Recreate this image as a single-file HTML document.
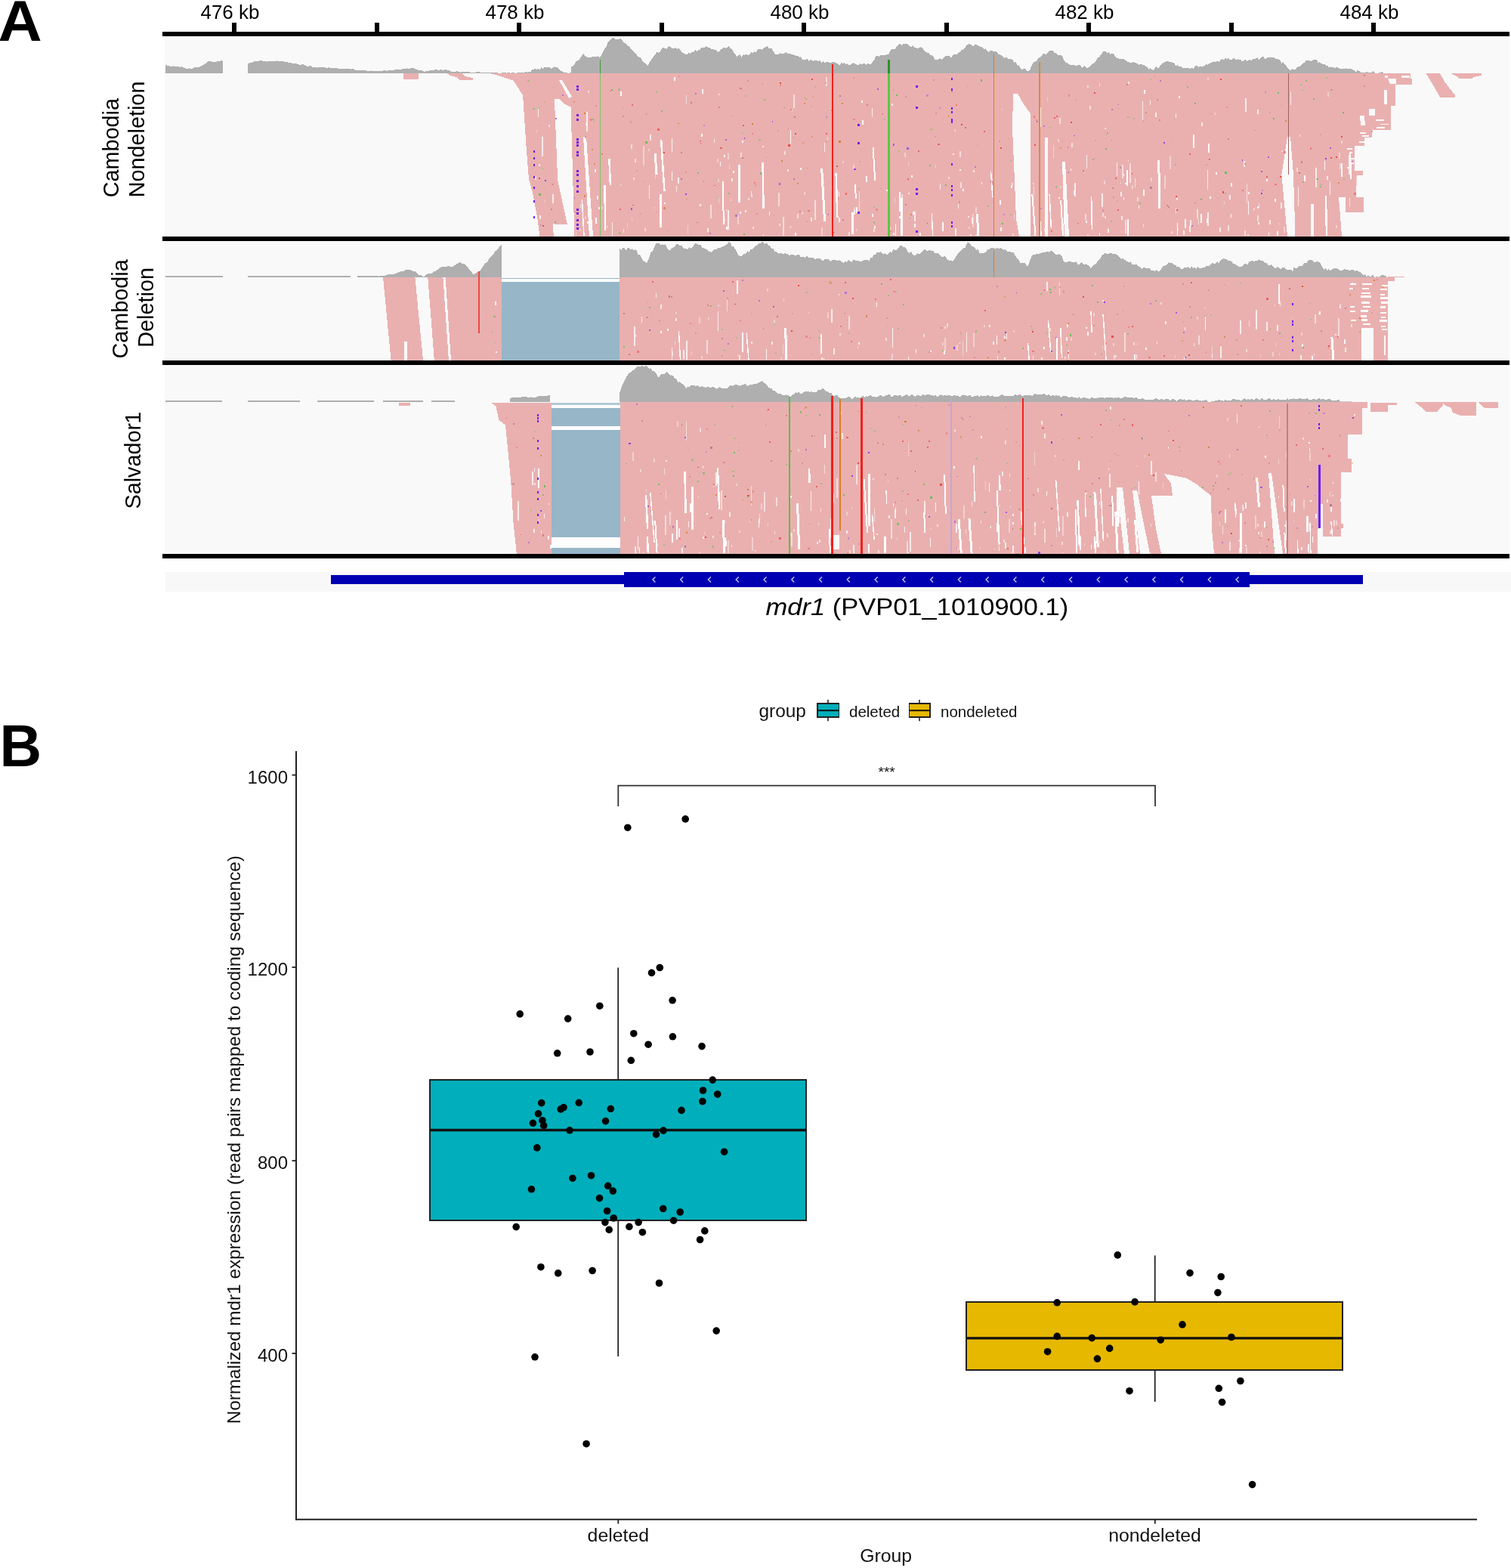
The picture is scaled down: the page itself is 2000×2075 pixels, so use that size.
<!DOCTYPE html>
<html><head><meta charset="utf-8"><title>mdr1 deletion figure</title>
<style>html,body{margin:0;padding:0;background:#fff;}svg{display:block;}svg text,svg circle,svg path,svg line{shape-rendering:geometricPrecision;}</style>
</head><body>
<svg width="2000" height="2075" viewBox="0 0 2000 2075" shape-rendering="crispEdges"><text transform="translate(-2.5,53.6) scale(1.06,1)" font-family='"Liberation Sans", Arial, Helvetica, sans-serif' font-weight="bold" font-size="76" fill="#000">A</text>
<rect x="307.0" y="29.5" width="6.0" height="14.0" fill="#000"/>
<text x="304.5" y="25" text-anchor="middle" font-family='"Liberation Sans", Arial, Helvetica, sans-serif' font-size="26" fill="#000">476 kb</text>
<rect x="495.5" y="29.5" width="6.0" height="14.0" fill="#000"/>
<rect x="684.0" y="29.5" width="6.0" height="14.0" fill="#000"/>
<text x="681.5" y="25" text-anchor="middle" font-family='"Liberation Sans", Arial, Helvetica, sans-serif' font-size="26" fill="#000">478 kb</text>
<rect x="872.5" y="29.5" width="6.0" height="14.0" fill="#000"/>
<rect x="1061.0" y="29.5" width="6.0" height="14.0" fill="#000"/>
<text x="1058.5" y="25" text-anchor="middle" font-family='"Liberation Sans", Arial, Helvetica, sans-serif' font-size="26" fill="#000">480 kb</text>
<rect x="1249.5" y="29.5" width="6.0" height="14.0" fill="#000"/>
<rect x="1438.0" y="29.5" width="6.0" height="14.0" fill="#000"/>
<text x="1435.5" y="25" text-anchor="middle" font-family='"Liberation Sans", Arial, Helvetica, sans-serif' font-size="26" fill="#000">482 kb</text>
<rect x="1626.5" y="29.5" width="6.0" height="14.0" fill="#000"/>
<rect x="1815.0" y="29.5" width="6.0" height="14.0" fill="#000"/>
<text x="1812.5" y="25" text-anchor="middle" font-family='"Liberation Sans", Arial, Helvetica, sans-serif' font-size="26" fill="#000">484 kb</text>
<rect x="215" y="42" width="1783" height="6" fill="#000" rx="1"/>
<rect x="218.0" y="48.0" width="1780.0" height="265.0" fill="#f9f9f9"/>
<rect x="218.0" y="319.0" width="1780.0" height="158.0" fill="#f9f9f9"/>
<rect x="218.0" y="483.0" width="1780.0" height="250.0" fill="#f9f9f9"/>
<rect x="218.5" y="756.5" width="1781.5" height="26.5" fill="#f8f8f8"/>
<polygon points="218.5,97.0 218.5,86.3 221.2,86.5 224.0,87.0 226.8,88.2 229.5,87.4 232.2,87.7 235.0,88.0 237.6,88.7 240.1,88.3 242.7,89.6 245.3,90.4 247.9,91.3 250.4,90.1 253.0,91.6 256.0,90.2 259.0,88.8 262.0,89.6 265.0,88.0 268.5,86.5 272.0,84.0 275.5,81.4 279.0,81.0 281.7,82.2 284.4,82.1 287.1,81.4 289.9,81.3 292.6,80.2 295.3,81.0 295.3,97.0" fill="#afafaf"/>
<polygon points="328.4,97.0 328.4,84.0 331.5,83.0 334.5,82.3 337.6,81.0 340.2,81.3 342.9,80.4 345.5,80.2 348.2,80.8 350.8,80.6 353.5,81.5 356.1,81.3 358.8,81.2 361.4,81.1 364.1,81.3 366.7,80.4 369.4,80.9 372.0,81.0 374.6,80.9 377.1,82.5 379.7,81.6 382.2,83.3 384.8,82.5 387.3,84.0 389.9,83.9 392.4,84.4 395.0,85.0 397.8,86.0 400.5,85.2 403.2,85.8 406.0,87.7 408.8,87.5 411.5,87.3 414.2,89.3 417.0,89.0 419.6,89.8 422.1,88.6 424.7,89.2 427.2,88.9 429.8,89.3 432.3,89.9 434.9,89.2 437.4,90.2 440.0,90.0 442.7,89.5 445.5,89.8 448.2,91.0 451.0,90.6 453.7,90.8 456.5,91.2 459.2,91.2 462.0,91.2 464.7,91.6 467.3,91.1 470.0,92.5 472.6,93.1 475.3,93.3 477.9,93.1 480.6,92.8 483.2,93.1 485.9,93.9 488.5,94.1 491.2,93.4 493.8,94.3 496.4,93.7 499.0,93.8 501.7,93.9 504.3,94.3 506.9,93.7 509.5,92.8 512.1,93.9 514.8,93.1 517.4,93.2 520.0,93.0 522.7,92.3 525.3,92.3 528.0,91.9 530.7,92.2 533.3,90.9 536.0,91.3 538.7,90.4 541.3,90.9 544.0,90.3 546.7,90.2 549.3,91.2 552.0,92.0 554.6,93.1 557.3,92.8 559.9,94.1 562.6,94.8 565.3,93.8 567.9,93.5 570.6,93.3 573.2,93.5 575.9,92.3 578.5,92.3 581.1,93.0 583.8,91.8 586.4,93.0 589.0,92.3 591.6,92.6 594.2,92.9 596.8,94.3 599.4,95.1 602.0,95.0 604.5,94.3 607.1,94.8 609.6,95.6 612.1,95.0 614.6,94.9 617.2,94.6 619.7,94.7 622.2,95.7 624.7,96.3 627.3,96.4 629.8,95.7 632.3,95.0 634.8,95.5 637.4,96.3 639.9,96.5 642.4,96.2 644.9,95.6 647.5,96.2 650.0,96.2 652.6,96.2 655.2,96.4 657.8,95.8 660.4,96.9 662.9,96.8 665.5,95.7 668.1,95.9 670.7,96.8 673.3,95.8 675.9,96.9 678.5,96.2 681.1,96.5 683.6,96.5 686.2,95.7 688.8,95.9 691.4,95.8 694.0,96.2 694.0,97.0" fill="#afafaf"/>
<polygon points="694.0,97.0 694.0,96.0 696.0,94.5 698.0,95.7 700.0,95.2 702.0,95.4 704.0,92.2 706.0,91.9 708.0,91.1 710.0,92.0 712.1,90.5 714.2,92.2 716.4,89.4 718.5,90.6 720.6,89.0 722.8,88.9 724.9,89.1 727.0,89.0 729.2,90.7 731.3,90.1 733.5,88.1 735.7,89.4 737.8,89.3 740.0,91.0 742.2,93.6 744.5,94.5 746.8,95.7 749.0,95.6 751.2,96.9 753.4,96.6 755.6,95.6 755.6,87.6 758.0,87.5 760.3,85.0 762.6,80.9 765.0,80.0 767.4,78.4 769.9,73.9 772.3,71.0 775.1,74.5 778.0,76.0 780.2,76.2 782.5,75.6 784.7,75.3 787.0,75.5 789.2,75.0 791.5,74.2 793.7,75.7 795.8,73.4 797.9,69.8 800.0,65.0 802.5,61.9 805.0,55.0 807.1,53.9 809.1,51.6 811.2,49.5 815.0,52.0 817.9,52.5 820.7,51.0 823.0,51.8 825.4,56.2 827.7,57.5 830.0,60.0 832.0,60.7 834.0,62.8 836.0,66.1 838.0,67.0 840.0,70.0 842.0,71.8 844.0,74.4 846.0,75.6 848.0,76.5 850.0,80.0 852.4,82.5 854.9,84.0 857.3,87.6 859.9,82.3 862.4,78.0 865.0,75.0 867.2,72.5 869.3,69.3 871.5,69.6 873.7,68.8 875.8,64.6 878.0,63.0 880.3,63.9 882.5,64.7 884.8,61.2 887.0,61.6 889.3,64.2 891.5,64.4 893.8,63.0 896.1,64.8 898.3,64.2 900.6,66.4 902.8,69.5 905.1,70.8 907.3,71.8 909.6,71.8 911.7,69.7 913.8,71.4 916.0,68.6 918.1,69.1 920.2,65.9 922.3,68.4 924.4,66.0 926.5,65.6 928.6,62.7 930.8,63.4 932.9,62.4 935.0,61.2 937.1,62.6 939.3,62.8 941.4,65.3 943.6,64.8 945.7,65.7 947.9,66.2 950.0,68.6 952.1,68.3 954.2,64.9 956.3,64.3 958.4,62.6 960.5,63.9 962.6,62.5 964.7,61.2 966.8,64.1 968.9,64.9 971.1,69.2 973.2,71.6 975.3,75.0 977.4,73.1 979.5,72.4 981.6,76.0 983.7,72.2 985.8,72.6 987.9,72.2 990.0,72.8 992.1,72.2 994.2,69.2 996.4,69.8 998.5,68.4 1000.6,69.3 1002.8,65.0 1004.9,65.4 1007.0,65.1 1009.1,66.0 1011.2,63.2 1013.4,62.1 1015.5,61.2 1017.6,63.6 1019.7,63.9 1021.8,64.6 1023.8,68.3 1025.9,71.7 1028.0,71.8 1030.2,72.3 1032.3,70.0 1034.5,71.2 1036.6,71.4 1038.8,69.6 1040.9,69.4 1043.0,71.4 1045.1,71.2 1047.3,71.5 1049.4,72.4 1051.5,72.8 1053.6,74.2 1055.7,73.7 1057.8,75.8 1060.0,75.3 1062.1,78.8 1064.2,78.9 1066.3,79.2 1068.4,77.5 1070.5,80.8 1072.6,78.7 1074.7,80.2 1076.8,80.7 1078.9,80.1 1081.0,80.2 1083.2,81.0 1085.3,80.1 1087.4,83.3 1089.5,80.5 1091.6,83.6 1093.7,81.5 1095.8,82.1 1097.9,82.7 1100.0,83.4 1102.0,81.7 1104.0,82.2 1106.0,83.2 1108.0,83.7 1110.0,85.5 1112.0,86.1 1114.0,82.4 1116.0,84.5 1118.0,83.0 1120.0,85.8 1122.0,84.0 1124.0,86.5 1126.0,85.2 1128.0,83.6 1130.0,83.3 1132.0,84.4 1134.0,85.5 1136.1,86.9 1138.2,83.9 1140.3,85.1 1142.4,84.5 1144.6,84.3 1146.7,86.0 1148.8,83.6 1150.9,85.5 1153.0,84.5 1155.2,81.6 1157.3,79.2 1159.5,73.9 1161.6,73.7 1163.7,75.0 1165.8,72.8 1168.0,73.0 1170.1,72.9 1172.2,73.5 1174.3,71.8 1176.4,71.7 1178.5,66.8 1180.7,65.2 1182.8,65.0 1184.9,64.4 1187.0,61.6 1189.2,58.9 1191.3,58.0 1193.4,60.4 1195.5,58.3 1197.7,57.9 1199.8,58.3 1201.9,58.8 1204.0,61.2 1206.1,62.3 1208.2,59.9 1210.3,62.5 1212.5,63.2 1214.6,63.9 1216.7,63.3 1218.8,62.2 1220.9,63.6 1223.0,66.1 1225.2,68.6 1227.3,69.9 1229.4,69.9 1231.5,73.4 1233.6,72.5 1235.8,75.0 1237.9,79.5 1240.0,79.2 1242.1,78.6 1244.2,77.2 1246.3,78.7 1248.4,76.9 1250.5,74.6 1252.6,74.1 1254.7,74.5 1256.8,74.3 1258.9,76.2 1261.0,73.9 1263.5,71.5 1266.0,72.4 1268.5,69.6 1270.6,69.2 1272.7,65.7 1274.8,66.3 1276.8,63.6 1278.9,60.7 1281.0,59.0 1283.2,58.2 1285.3,59.2 1287.5,61.1 1289.7,59.8 1291.8,58.6 1294.0,60.0 1296.1,60.8 1298.2,62.4 1300.3,62.5 1302.4,65.3 1304.5,64.4 1306.6,67.5 1308.7,69.0 1310.8,66.6 1312.9,66.5 1315.1,68.6 1317.2,67.6 1319.3,68.6 1321.4,71.7 1323.5,71.8 1325.7,73.5 1327.8,75.0 1329.9,77.0 1332.0,75.3 1334.2,78.1 1336.3,78.4 1338.4,78.2 1340.5,79.2 1342.6,83.2 1344.7,81.5 1346.8,87.0 1348.8,86.2 1350.9,91.1 1353.0,91.9 1355.2,91.0 1357.3,91.2 1359.4,93.5 1361.6,94.0 1363.8,91.5 1365.9,85.5 1368.0,82.6 1370.1,81.6 1372.2,80.1 1374.4,76.7 1376.5,76.0 1378.6,73.9 1380.7,70.9 1382.8,71.6 1384.9,71.7 1387.1,69.0 1389.2,67.4 1391.3,67.5 1393.4,66.6 1395.5,70.1 1397.7,69.9 1399.8,72.7 1401.9,72.9 1404.0,72.8 1406.1,73.9 1408.2,79.8 1410.4,82.5 1412.5,83.4 1414.6,85.2 1416.7,85.7 1418.8,85.6 1421.0,86.3 1423.1,86.5 1425.2,86.7 1427.3,85.9 1429.4,85.9 1431.5,88.7 1433.7,88.7 1435.8,87.0 1437.9,89.9 1440.0,89.8 1442.1,88.5 1444.2,86.3 1446.3,84.5 1448.4,83.2 1450.5,81.1 1452.6,76.7 1454.7,76.0 1456.8,72.4 1458.9,70.2 1461.0,67.5 1463.2,67.8 1465.3,70.5 1467.5,69.2 1469.6,71.9 1471.8,70.7 1473.9,71.5 1476.0,74.3 1478.1,76.8 1480.2,77.4 1482.3,78.1 1484.4,78.1 1486.5,77.5 1488.7,79.6 1490.8,79.9 1492.9,82.0 1495.0,82.4 1497.1,83.8 1499.3,82.1 1501.4,82.5 1503.5,83.4 1505.6,84.5 1507.7,86.1 1509.9,84.3 1512.0,85.7 1514.1,86.2 1516.2,87.8 1518.3,88.5 1520.5,92.1 1522.6,89.9 1524.7,91.9 1526.8,92.8 1528.9,89.4 1531.1,88.1 1533.2,90.4 1535.3,87.6 1537.4,84.7 1539.5,83.5 1541.7,82.3 1543.8,80.8 1545.9,81.3 1548.0,81.9 1550.1,82.3 1552.2,83.1 1554.4,83.6 1556.5,87.4 1558.6,85.8 1560.7,88.7 1562.8,87.8 1564.9,89.2 1567.0,90.6 1569.2,89.9 1571.3,90.2 1573.4,90.3 1575.5,90.9 1577.6,89.8 1579.7,90.8 1581.8,87.6 1584.0,86.8 1586.1,88.7 1588.2,87.9 1590.3,87.5 1592.5,88.1 1594.6,86.6 1596.7,84.6 1598.8,85.9 1600.9,84.1 1603.0,83.3 1605.2,81.9 1607.3,81.3 1609.4,81.7 1611.5,80.9 1613.6,81.6 1615.7,79.2 1617.7,78.1 1619.8,79.6 1621.8,76.8 1623.8,78.8 1625.9,76.6 1627.9,79.1 1630.0,79.3 1632.0,77.2 1634.0,76.9 1636.0,79.8 1638.0,78.1 1640.0,79.1 1642.0,78.9 1644.0,81.2 1646.0,80.6 1648.0,79.0 1650.1,81.0 1652.1,80.2 1654.1,79.2 1656.2,80.0 1658.2,77.8 1660.2,77.9 1662.2,77.7 1664.2,75.9 1666.3,79.1 1668.3,77.2 1670.3,75.3 1672.3,75.1 1674.3,77.7 1676.3,77.5 1678.3,75.8 1680.3,75.8 1682.3,76.1 1684.3,75.5 1686.3,75.5 1688.4,78.1 1690.4,77.6 1692.4,79.2 1694.4,79.3 1696.5,83.9 1698.5,81.9 1700.5,85.3 1702.5,86.7 1704.5,90.3 1706.5,92.3 1708.5,93.3 1710.5,91.2 1712.5,92.3 1714.5,91.8 1716.5,89.5 1718.5,88.3 1720.5,88.0 1722.6,85.9 1724.6,83.6 1726.6,82.8 1728.6,80.2 1730.6,80.0 1732.6,80.1 1734.7,81.0 1736.7,80.0 1738.7,78.9 1740.7,79.2 1742.7,78.6 1744.7,82.9 1746.7,82.4 1748.7,84.3 1750.7,84.7 1752.7,84.8 1754.8,86.5 1756.8,86.6 1758.8,89.0 1760.8,88.3 1762.8,88.9 1764.8,88.9 1766.9,90.0 1768.9,88.9 1770.9,89.4 1772.9,90.5 1774.9,90.6 1777.0,90.9 1779.0,91.7 1781.0,90.3 1783.0,91.0 1785.0,91.5 1787.0,90.6 1789.0,91.3 1791.0,92.5 1793.0,93.3 1795.0,95.4 1797.0,92.5 1799.0,94.2 1801.0,95.3 1803.0,96.3 1805.0,95.3 1807.0,96.9 1809.0,94.2 1811.0,96.7 1813.0,95.4 1815.0,96.0 1817.0,94.1 1819.0,95.5 1821.0,97.0 1823.0,97.0 1825.0,96.4 1827.0,95.9 1829.0,94.4 1831.0,96.3 1831.0,97.0" fill="#afafaf"/>
<polygon points="647.6,97.0 1867.0,97.0 1867.0,104.0 1869.0,104.0 1869.0,112.0 1846.5,112.0 1846.5,140.0 1841.0,140.0 1841.0,172.0 1816.0,172.0 1816.0,182.0 1806.0,182.0 1806.0,193.0 1793.0,193.0 1793.0,226.0 1804.0,226.0 1804.0,232.0 1796.0,232.0 1795.0,261.0 1805.0,261.0 1805.0,281.0 1781.0,281.0 1781.0,312.5 714.3,312.5 711.2,287.7 704.8,254.4 700.0,237.0 696.9,198.8 693.7,151.0 692.0,125.8 679.4,106.7 660.0,100.0" fill="#eab0b0"/>
<polygon points="533.5,97.0 553.5,97.0 553.5,105.0 533.5,105.0" fill="#eab0b0"/>
<polygon points="591.7,97.0 612.0,97.0 615.0,101.0 626.2,103.0 626.2,106.0 608.0,106.0 604.0,102.0 596.0,100.0" fill="#eab0b0"/>
<polygon points="1887.5,97.0 1906.0,97.0 1912.0,108.0 1918.0,116.0 1926.0,126.0 1926.0,128.5 1906.0,128.5 1900.0,118.0 1893.0,106.0" fill="#eab0b0"/>
<polygon points="1920.0,97.0 1961.0,97.0 1961.0,100.0 1950.0,102.0 1948.0,104.4 1932.0,104.4 1928.0,101.0" fill="#eab0b0"/>
<polygon points="734.0,131.0 740.0,131.0 748.0,138.0 755.6,142.0 760.4,312.5 733.4,312.5 733.4,297.0 750.9,297.0 738.2,238.5 735.0,160.0" fill="#f9f9f9"/>
<polygon points="740.0,106.0 744.0,106.0 757.0,128.0 753.0,130.0" fill="#f9f9f9"/>
<polygon points="772.0,181.0 776.0,181.0 785.0,312.5 780.0,312.5" fill="#f9f9f9"/>
<polygon points="1341.0,124.0 1347.0,124.0 1355.0,138.0 1363.8,150.0 1363.8,312.5 1349.0,312.5 1345.0,290.0 1342.6,230.0 1340.0,170.0" fill="#f9f9f9"/>
<polygon points="1383.0,182.0 1386.5,182.0 1387.5,312.5 1383.5,312.5" fill="#f9f9f9"/>
<polygon points="1406.0,214.0 1410.0,214.0 1415.0,312.5 1409.0,312.5" fill="#f9f9f9"/>
<polygon points="1704.0,181.0 1708.0,181.0 1712.0,231.0 1714.5,312.5 1704.0,312.5 1696.4,231.0" fill="#f9f9f9"/>
<polygon points="1772.0,261.0 1781.0,261.0 1781.0,312.5 1776.0,312.5" fill="#f9f9f9"/>
<polygon points="1735.0,270.0 1739.0,270.0 1739.0,312.5 1735.0,312.5" fill="#f9f9f9"/>
<polygon points="1812.0,143.5 1820.0,143.5 1820.0,152.7 1812.0,152.7" fill="#f9f9f9"/>
<polygon points="1800.0,153.0 1806.0,153.0 1807.0,166.0 1801.0,166.0" fill="#f9f9f9"/>
<polygon points="1833.0,100.0 1837.0,100.0 1837.0,103.0 1833.0,103.0" fill="#f9f9f9"/>
<polygon points="1855.0,100.0 1866.0,100.0 1866.0,103.0 1855.0,103.0" fill="#f9f9f9"/>
<polygon points="1837.0,104.0 1848.0,104.0 1848.0,111.0 1840.0,111.0" fill="#f9f9f9"/>
<polygon points="1832.0,119.0 1836.0,119.0 1836.0,138.0 1832.0,138.0" fill="#f9f9f9"/>
<polygon points="1847.0,130.0 1850.0,130.0 1850.0,140.0 1847.0,140.0" fill="#f9f9f9"/>
<polygon points="1820.9,158.0 1832.2,158.0 1832.2,159.8 1820.9,159.8" fill="#f9f9f9"/>
<polygon points="1827.0,163.5 1837.8,163.5 1837.8,165.3 1827.0,165.3" fill="#f9f9f9"/>
<polygon points="1821.6,168.0 1833.1,168.0 1833.1,169.8 1821.6,169.8" fill="#f9f9f9"/>
<polygon points="1799.5,175.0 1807.5,175.0 1807.5,176.8 1799.5,176.8" fill="#f9f9f9"/>
<polygon points="1803.0,179.0 1812.2,179.0 1812.2,180.8 1803.0,180.8" fill="#f9f9f9"/>
<polygon points="1798.8,187.0 1806.0,187.0 1806.0,188.8 1798.8,188.8" fill="#f9f9f9"/>
<polygon points="1782.5,196.0 1789.8,196.0 1789.8,197.8 1782.5,197.8" fill="#f9f9f9"/>
<polygon points="1786.2,201.0 1790.3,201.0 1790.3,202.8 1786.2,202.8" fill="#f9f9f9"/>
<polygon points="1787.9,209.0 1795.8,209.0 1795.8,210.8 1787.9,210.8" fill="#f9f9f9"/>
<polygon points="1785.9,215.0 1792.4,215.0 1792.4,216.8 1785.9,216.8" fill="#f9f9f9"/>
<polygon points="1782.9,221.0 1787.0,221.0 1787.0,222.8 1782.9,222.8" fill="#f9f9f9"/>
<rect x="219.0" y="364.6" width="76.3" height="2.4" fill="#afafaf"/>
<rect x="328.0" y="364.6" width="135.6" height="2.4" fill="#afafaf"/>
<rect x="473.0" y="364.6" width="27.7" height="2.4" fill="#afafaf"/>
<polygon points="500.7,367.0 500.7,366.0 503.5,364.7 506.3,365.5 509.1,364.8 512.0,363.9 514.8,362.8 517.6,363.0 520.4,363.0 523.3,362.3 526.1,360.9 528.9,360.1 531.8,358.8 534.6,358.7 537.8,356.5 541.0,356.6 543.6,357.3 546.2,358.9 548.9,358.7 551.5,360.8 554.3,363.5 557.2,364.1 560.0,366.7 562.8,364.5 565.7,362.4 568.5,361.9 571.3,361.7 574.1,359.6 577.0,358.6 579.8,356.5 582.6,353.7 585.4,353.4 588.3,352.8 591.2,353.0 594.2,351.8 597.1,353.6 600.0,352.3 603.2,350.2 606.4,347.9 609.6,347.0 612.4,349.4 615.2,349.4 618.0,352.0 620.9,356.7 623.7,359.2 626.6,363.0 629.4,361.7 632.2,359.8 635.0,358.7 637.5,355.5 640.0,351.6 642.5,348.0 645.0,346.8 647.5,342.1 650.0,339.6 652.6,337.1 655.2,332.6 657.9,331.3 660.5,327.0 663.6,323.8 663.6,367.0" fill="#afafaf"/>
<polygon points="820.3,367.0 820.3,329.0 822.3,330.9 824.3,327.8 826.4,327.4 828.4,331.4 830.4,328.2 832.4,328.1 834.4,330.3 836.5,329.2 838.5,331.5 840.5,330.0 842.6,331.5 844.7,337.0 846.8,337.0 849.0,340.7 851.1,344.6 853.2,346.2 855.3,348.0 857.4,345.5 859.5,340.4 861.6,333.5 863.8,332.7 865.9,327.3 868.0,322.7 870.1,321.9 872.2,321.5 874.4,324.1 876.5,323.0 878.6,324.5 880.7,322.7 882.9,327.9 885.0,331.0 887.1,331.5 889.2,328.5 891.3,327.6 893.4,325.9 895.5,323.1 897.6,322.7 899.7,325.7 901.8,324.4 904.0,327.5 906.1,329.4 908.2,329.4 910.3,330.0 912.4,327.4 914.5,328.9 916.6,327.0 918.8,323.9 920.9,322.1 923.0,322.7 925.1,324.2 927.2,323.5 929.4,328.4 931.5,328.0 933.6,329.4 935.8,330.3 937.9,332.6 940.0,333.3 942.0,334.1 944.0,330.8 946.0,330.2 948.0,330.2 950.0,328.2 952.0,328.6 954.0,327.5 956.0,326.2 958.0,326.3 960.0,324.8 962.1,323.5 964.3,320.4 966.4,320.6 968.5,325.6 970.6,326.0 972.7,329.3 974.8,332.2 976.9,337.3 979.0,338.6 981.1,339.6 983.2,337.0 985.4,335.8 987.5,335.4 989.6,332.3 991.7,333.9 993.9,329.5 996.0,329.5 998.1,327.1 1000.2,325.5 1002.4,324.1 1004.5,321.9 1006.6,321.6 1008.7,319.7 1010.8,321.7 1012.9,322.8 1015.0,321.6 1017.1,324.5 1019.2,325.1 1021.4,329.4 1023.5,329.2 1025.6,333.3 1027.7,333.2 1029.8,335.2 1032.0,335.9 1034.1,334.3 1036.2,336.2 1038.3,335.1 1040.4,335.5 1042.6,336.0 1044.7,338.0 1046.8,337.3 1048.9,336.5 1051.1,337.8 1053.2,337.8 1055.3,337.5 1057.4,337.3 1059.5,339.5 1061.6,340.1 1063.8,339.6 1065.9,341.4 1068.0,338.1 1070.1,340.5 1072.2,341.5 1074.3,340.7 1076.4,340.5 1078.5,343.0 1080.7,342.4 1082.8,342.1 1084.9,341.6 1087.0,343.9 1089.1,345.9 1091.2,343.6 1093.4,342.8 1095.5,343.3 1097.6,343.6 1099.7,346.2 1101.8,343.6 1104.0,344.1 1106.1,343.5 1108.2,345.2 1110.3,344.3 1112.4,345.0 1114.6,346.7 1116.7,347.6 1118.8,346.0 1120.9,347.3 1123.0,344.0 1125.2,345.3 1127.3,347.1 1129.4,343.8 1131.5,344.4 1133.6,345.5 1135.8,345.0 1137.9,346.4 1140.0,346.2 1142.1,345.1 1144.2,344.2 1146.4,344.1 1148.5,344.1 1150.6,345.0 1152.7,340.9 1154.8,341.0 1156.8,336.6 1158.9,337.2 1161.0,333.3 1163.2,334.6 1165.3,332.9 1167.5,335.4 1169.6,336.5 1171.8,335.0 1173.9,337.5 1176.0,336.0 1178.1,332.8 1180.3,334.3 1182.4,329.9 1184.5,331.0 1186.6,331.0 1188.8,329.0 1190.9,325.1 1193.0,324.8 1195.1,326.7 1197.2,326.8 1199.4,329.3 1201.5,333.2 1203.6,334.7 1205.8,333.2 1207.9,336.4 1210.0,338.6 1212.1,337.9 1214.2,334.9 1216.3,336.2 1218.4,335.3 1220.5,332.7 1222.6,330.8 1224.7,330.1 1226.8,332.2 1228.9,331.5 1231.0,330.8 1233.2,331.9 1235.3,332.0 1237.4,335.4 1239.5,334.8 1241.6,335.4 1243.7,337.4 1245.8,339.0 1248.0,340.8 1250.1,338.9 1252.2,340.9 1254.3,344.0 1256.5,344.7 1258.6,344.4 1260.7,346.0 1262.8,344.1 1264.9,339.7 1267.1,337.0 1269.2,334.0 1271.3,332.8 1273.4,329.7 1275.5,328.3 1277.7,327.6 1279.8,321.8 1281.9,320.6 1284.0,322.7 1286.1,325.8 1288.2,326.5 1290.3,328.1 1292.5,330.9 1294.6,329.8 1296.7,335.3 1298.8,335.4 1300.9,335.1 1303.0,334.5 1305.2,333.5 1307.3,329.6 1309.4,330.1 1311.5,327.7 1313.6,327.6 1315.8,328.3 1317.9,329.4 1320.0,327.0 1322.1,329.3 1324.2,327.9 1326.4,329.4 1328.5,330.5 1330.6,329.5 1332.7,332.7 1334.8,333.2 1337.0,332.9 1339.1,334.3 1341.2,333.3 1343.5,338.2 1345.9,341.3 1348.2,343.7 1350.6,348.1 1352.7,347.9 1354.8,348.3 1357.0,348.2 1359.1,352.4 1361.2,351.3 1363.3,344.6 1365.4,339.6 1367.5,337.0 1369.6,337.5 1371.8,335.9 1373.9,336.6 1376.0,335.4 1378.1,335.4 1380.2,333.6 1382.3,334.2 1384.4,333.5 1386.6,332.7 1388.7,334.0 1390.8,332.2 1392.9,332.3 1395.0,334.1 1397.2,336.4 1399.3,337.6 1401.4,336.1 1403.5,337.5 1405.6,338.8 1407.8,345.6 1409.9,347.0 1412.0,347.2 1414.1,346.2 1416.2,346.0 1418.4,346.6 1420.5,347.1 1422.6,346.6 1424.7,346.4 1426.8,350.3 1428.9,349.8 1431.1,347.1 1433.2,348.8 1435.3,350.2 1437.4,349.2 1439.5,351.3 1441.7,351.7 1443.8,355.5 1445.9,352.5 1448.0,350.3 1450.1,350.1 1452.2,346.5 1454.4,343.6 1456.5,342.0 1458.6,337.3 1460.7,337.5 1462.8,334.4 1464.9,336.1 1467.0,335.9 1469.2,335.1 1471.3,335.2 1473.4,336.5 1475.5,335.6 1477.6,336.9 1479.7,338.3 1481.9,340.5 1484.0,342.9 1486.1,341.7 1488.2,343.9 1490.3,344.7 1492.4,346.3 1494.6,347.3 1496.7,345.8 1498.8,350.3 1500.9,349.9 1503.0,349.8 1505.2,350.5 1507.3,353.2 1509.4,353.4 1511.5,355.6 1513.6,353.7 1515.8,354.4 1517.9,355.6 1520.0,354.5 1522.1,355.9 1524.2,358.4 1526.3,357.5 1528.5,359.0 1530.6,357.3 1532.7,358.7 1534.8,358.5 1536.9,356.5 1539.0,352.6 1541.2,352.1 1543.3,351.1 1545.4,349.0 1547.5,347.0 1549.6,348.5 1551.7,348.1 1553.8,350.4 1556.0,350.7 1558.1,353.5 1560.2,352.9 1562.3,354.5 1564.4,356.4 1566.5,354.8 1568.7,353.4 1570.8,354.2 1572.9,353.0 1575.0,355.4 1577.1,352.7 1579.3,354.9 1581.4,353.7 1583.5,355.6 1585.6,353.0 1587.7,355.2 1589.9,355.4 1592.0,353.4 1594.1,354.5 1596.2,352.1 1598.3,352.2 1600.4,352.4 1602.6,349.9 1604.7,348.0 1606.8,348.9 1608.9,349.4 1611.0,345.9 1613.1,348.2 1615.3,345.5 1617.4,343.2 1619.5,342.1 1621.6,342.8 1623.7,343.5 1625.8,345.1 1628.0,345.0 1630.1,345.8 1632.2,348.7 1634.3,348.9 1636.5,350.8 1638.6,352.0 1640.7,353.4 1642.8,353.3 1644.9,351.9 1647.0,349.7 1649.2,348.6 1651.3,350.4 1653.4,346.3 1655.5,345.7 1657.6,344.6 1659.8,346.8 1661.9,344.7 1664.0,345.4 1666.1,342.8 1668.2,344.5 1670.3,344.5 1672.5,346.0 1674.6,348.4 1676.7,347.6 1678.8,351.0 1680.9,350.6 1683.1,350.3 1685.2,352.7 1687.3,354.5 1689.4,354.6 1691.5,352.8 1693.7,355.7 1695.8,355.7 1697.9,353.9 1700.0,353.7 1702.2,356.4 1704.4,356.7 1706.6,357.2 1708.8,356.7 1711.0,359.2 1712.7,353.7 1714.9,355.2 1717.1,354.7 1719.4,352.5 1721.6,351.9 1723.8,352.0 1725.8,348.3 1727.8,348.5 1729.8,347.4 1731.8,344.0 1734.1,344.1 1736.3,344.3 1738.6,346.2 1740.8,347.5 1743.1,345.5 1745.3,346.6 1747.6,348.0 1750.0,353.0 1752.4,356.8 1754.5,355.0 1756.6,358.1 1758.8,356.1 1760.9,358.1 1763.0,356.6 1765.1,355.5 1767.2,354.9 1769.4,355.3 1771.5,355.8 1773.6,357.8 1775.7,358.0 1777.8,357.3 1780.0,356.0 1782.1,357.5 1784.2,356.8 1786.4,358.2 1788.5,357.3 1790.7,356.6 1792.9,358.7 1795.1,358.2 1797.2,358.6 1799.4,359.9 1801.6,360.8 1804.8,364.8 1806.8,363.2 1808.8,366.5 1810.8,364.1 1812.9,366.6 1814.9,366.0 1816.9,363.2 1818.9,366.8 1820.9,366.5 1822.9,365.4 1824.9,366.9 1826.9,365.3 1829.0,363.5 1831.0,364.1 1833.0,364.8 1835.0,365.6 1835.0,367.0" fill="#afafaf"/>
<polygon points="507.0,367.0 549.4,367.0 560.0,476.8 517.6,476.8" fill="#eab0b0"/>
<polygon points="566.3,367.0 663.6,367.0 663.6,476.8 574.8,476.8" fill="#eab0b0"/>
<polygon points="820.3,367.0 1846.0,367.0 1846.0,372.0 1837.0,372.0 1837.0,476.8 820.3,476.8" fill="#eab0b0"/>
<polygon points="1837.0,366.0 1859.0,366.0 1859.0,367.2 1837.0,367.2" fill="#eab0b0"/>
<rect x="663.6" y="367.6" width="156.7" height="1.8" fill="#97b6c8"/>
<rect x="663.6" y="369.4" width="156.7" height="3.1" fill="#fdfdfd"/>
<rect x="663.6" y="372.5" width="156.7" height="104.3" fill="#97b6c8"/>
<polygon points="534.6,452.0 538.8,452.0 539.5,476.8 535.3,476.8" fill="#f9f9f9"/>
<polygon points="586.4,367.0 589.6,367.0 597.0,476.8 593.9,476.8" fill="#f9f9f9"/>
<polygon points="1801.6,434.0 1817.5,434.0 1817.5,476.8 1801.6,476.8" fill="#f9f9f9"/>
<rect x="1802.9" y="374.5" width="12.8" height="2.6" fill="#fdfdfd"/>
<rect x="1828.8" y="376.5" width="9.7" height="2.2" fill="#fdfdfd"/>
<rect x="1786.9" y="375.0" width="7.8" height="2.2" fill="#fdfdfd"/>
<rect x="1802.9" y="380.8" width="8.7" height="2.6" fill="#fdfdfd"/>
<rect x="1827.4" y="381.5" width="8.2" height="2.2" fill="#fdfdfd"/>
<rect x="1786.0" y="381.0" width="4.9" height="2.2" fill="#fdfdfd"/>
<rect x="1801.8" y="386.8" width="12.6" height="2.6" fill="#fdfdfd"/>
<rect x="1826.5" y="388.6" width="6.6" height="2.2" fill="#fdfdfd"/>
<rect x="1801.4" y="391.0" width="13.2" height="2.6" fill="#fdfdfd"/>
<rect x="1826.6" y="393.4" width="9.9" height="2.2" fill="#fdfdfd"/>
<rect x="1801.9" y="398.9" width="11.2" height="2.6" fill="#fdfdfd"/>
<rect x="1828.0" y="399.4" width="9.8" height="2.2" fill="#fdfdfd"/>
<rect x="1803.9" y="404.8" width="9.8" height="2.6" fill="#fdfdfd"/>
<rect x="1827.1" y="405.3" width="6.6" height="2.2" fill="#fdfdfd"/>
<rect x="1786.6" y="405.0" width="6.4" height="2.2" fill="#fdfdfd"/>
<rect x="1801.0" y="410.4" width="10.0" height="2.6" fill="#fdfdfd"/>
<rect x="1826.9" y="412.6" width="7.9" height="2.2" fill="#fdfdfd"/>
<rect x="1787.0" y="411.0" width="6.8" height="2.2" fill="#fdfdfd"/>
<rect x="1801.2" y="417.0" width="8.1" height="2.6" fill="#fdfdfd"/>
<rect x="1828.2" y="418.7" width="6.1" height="2.2" fill="#fdfdfd"/>
<rect x="1802.1" y="422.2" width="8.1" height="2.6" fill="#fdfdfd"/>
<rect x="1826.1" y="423.4" width="9.8" height="2.2" fill="#fdfdfd"/>
<rect x="1787.5" y="423.0" width="7.7" height="2.2" fill="#fdfdfd"/>
<rect x="1803.8" y="427.7" width="10.1" height="2.6" fill="#fdfdfd"/>
<rect x="1827.6" y="430.6" width="6.4" height="2.2" fill="#fdfdfd"/>
<rect x="1803.4" y="434.7" width="8.2" height="2.6" fill="#fdfdfd"/>
<rect x="1828.8" y="435.2" width="7.4" height="2.2" fill="#fdfdfd"/>
<rect x="219.0" y="529.6" width="75.0" height="2.8" fill="#afafaf"/>
<rect x="328.0" y="529.6" width="69.0" height="2.8" fill="#afafaf"/>
<rect x="420.0" y="529.6" width="75.0" height="2.8" fill="#afafaf"/>
<rect x="507.0" y="529.6" width="53.0" height="2.8" fill="#afafaf"/>
<rect x="570.6" y="529.6" width="31.4" height="2.8" fill="#afafaf"/>
<polygon points="675.3,532.4 675.3,527.0 678.2,526.0 681.2,525.9 684.1,525.9 687.1,526.1 690.0,525.5 692.5,525.1 695.0,525.1 697.5,525.4 700.0,526.2 702.5,525.4 705.0,526.0 707.5,526.0 710.0,525.5 712.5,524.4 715.0,524.5 718.0,524.4 721.0,524.1 724.0,524.0 728.2,522.4 728.2,532.4" fill="#afafaf"/>
<polygon points="820.3,532.4 820.3,520.2 823.1,511.2 826.0,505.0 828.3,500.1 830.7,496.4 833.0,493.0 835.3,492.7 837.7,489.9 840.0,489.1 842.4,485.6 844.7,485.3 847.4,484.8 850.0,484.2 852.5,485.3 855.0,484.2 857.2,485.3 859.4,487.8 861.6,487.4 863.7,490.9 865.8,491.6 868.0,492.8 870.1,497.5 872.2,499.0 874.3,496.3 876.4,494.5 878.6,495.3 880.7,494.2 882.8,491.6 884.9,494.6 887.0,496.8 889.2,496.3 891.3,497.8 893.4,501.0 895.5,501.6 897.6,506.2 899.7,505.3 901.9,507.3 904.0,508.7 906.1,510.6 908.2,513.9 910.3,511.6 912.4,511.7 914.6,510.2 916.7,509.9 918.8,509.6 920.9,511.3 923.0,509.2 925.2,511.6 927.3,511.6 929.4,511.4 931.5,511.8 933.6,512.7 935.8,512.4 937.9,511.6 940.0,512.8 942.1,512.4 944.2,512.2 946.4,512.8 948.5,514.8 950.6,513.1 952.7,512.1 954.8,513.5 957.0,514.7 959.1,513.6 961.2,513.9 963.3,513.7 965.4,510.9 967.5,509.9 969.6,511.0 971.7,509.6 973.8,508.4 975.9,509.5 977.9,510.1 980.0,510.7 982.3,509.4 984.6,508.5 987.0,508.1 989.3,510.7 991.6,509.6 993.9,508.6 996.0,509.4 998.1,507.4 1000.2,508.3 1002.4,507.4 1004.5,506.0 1006.6,505.1 1008.7,504.4 1010.8,506.3 1012.9,507.3 1015.1,509.7 1017.2,512.7 1019.3,513.9 1021.4,514.1 1023.5,517.4 1025.6,517.5 1027.8,519.0 1029.9,520.9 1032.0,521.5 1034.1,521.1 1036.2,523.4 1038.3,522.9 1040.5,522.4 1042.6,522.7 1044.7,524.5 1046.8,524.6 1049.0,522.1 1051.1,522.0 1053.2,519.2 1055.3,520.1 1057.4,518.6 1059.6,520.7 1061.7,520.6 1063.8,519.1 1065.9,517.9 1068.0,518.6 1070.1,518.1 1072.3,518.8 1074.4,517.9 1076.5,519.2 1078.6,519.0 1080.7,519.0 1082.8,515.6 1085.0,516.6 1087.1,515.1 1089.2,513.9 1091.3,515.3 1093.4,518.0 1095.6,517.8 1097.7,520.6 1099.8,519.5 1101.9,522.4 1104.0,524.6 1106.1,522.8 1108.2,522.9 1110.4,526.4 1112.5,526.6 1114.6,526.6 1116.7,527.1 1118.8,527.3 1120.9,525.9 1123.1,525.0 1125.2,525.6 1127.3,527.5 1129.4,527.5 1131.5,525.0 1133.7,525.6 1135.8,525.5 1137.9,526.9 1140.0,525.5 1142.1,523.8 1144.2,526.3 1146.3,524.3 1148.5,525.1 1150.6,523.6 1152.7,523.3 1154.8,525.7 1156.9,524.4 1159.0,525.7 1161.1,525.3 1163.2,524.8 1165.4,522.5 1167.5,524.0 1169.6,525.1 1171.7,523.4 1173.7,523.4 1175.7,522.0 1177.7,522.4 1179.7,525.0 1181.7,524.9 1183.7,522.6 1185.8,522.8 1187.8,524.1 1189.8,523.4 1191.8,522.4 1193.8,525.0 1195.8,523.8 1197.8,523.0 1199.8,521.9 1201.8,523.4 1203.8,524.2 1205.8,522.4 1207.8,522.1 1209.8,524.1 1211.9,524.7 1213.9,523.0 1215.9,523.3 1217.9,523.8 1219.9,523.5 1221.9,522.2 1223.9,522.7 1225.9,522.5 1227.9,522.4 1229.9,522.1 1231.9,523.1 1233.9,522.5 1235.9,524.5 1238.0,522.8 1240.0,524.9 1242.0,524.4 1244.0,522.7 1246.0,522.3 1248.0,523.6 1250.0,523.4 1252.0,523.3 1254.0,523.6 1256.0,522.3 1258.0,523.6 1260.0,524.3 1262.0,523.4 1264.0,522.8 1266.0,524.9 1268.0,523.0 1270.0,525.2 1272.0,524.3 1274.0,522.1 1276.0,523.5 1278.0,522.6 1280.0,524.7 1282.0,523.5 1284.0,522.5 1286.0,525.3 1288.0,524.8 1290.0,524.2 1292.0,524.1 1294.0,522.6 1296.0,525.5 1298.0,523.3 1300.0,524.0 1302.0,524.0 1304.0,523.9 1306.0,523.8 1308.0,522.3 1310.0,525.1 1312.0,523.8 1314.0,523.4 1316.0,524.9 1318.0,524.9 1320.0,524.4 1322.0,524.9 1324.0,523.1 1326.0,522.3 1328.0,523.0 1330.0,523.8 1332.0,524.4 1334.0,524.2 1336.0,523.8 1338.0,523.7 1340.0,523.9 1342.0,523.5 1344.0,521.7 1346.0,523.4 1348.0,522.5 1350.0,521.8 1352.0,523.5 1354.0,524.2 1356.0,522.4 1358.0,523.6 1360.0,523.0 1362.0,523.3 1364.0,523.3 1366.0,523.7 1368.0,523.0 1370.0,520.9 1372.0,522.5 1374.0,521.5 1376.0,521.5 1378.0,522.2 1380.0,521.5 1382.0,520.7 1384.0,522.4 1386.0,523.7 1388.0,521.1 1390.0,523.9 1392.0,523.7 1394.0,522.9 1396.0,524.4 1398.0,522.4 1400.0,524.0 1402.0,523.1 1404.0,525.9 1406.0,524.8 1408.0,523.5 1410.0,523.6 1412.0,524.7 1414.0,525.2 1416.0,526.8 1418.0,524.3 1420.0,525.9 1422.0,525.5 1424.0,526.0 1426.0,527.4 1428.0,524.9 1430.0,527.3 1432.0,527.1 1434.0,525.8 1436.0,525.5 1438.0,527.6 1440.0,527.0 1442.0,528.1 1444.0,526.5 1446.0,525.8 1448.0,527.1 1450.0,527.5 1452.0,526.4 1454.0,526.6 1456.0,525.6 1458.0,525.7 1460.0,525.9 1462.0,527.6 1464.0,525.6 1466.0,525.8 1468.0,526.7 1470.0,525.8 1472.0,525.9 1474.0,527.5 1476.0,525.8 1478.0,526.9 1480.0,525.3 1482.0,526.7 1484.0,527.3 1486.0,526.4 1488.0,525.6 1490.0,525.1 1492.0,525.8 1494.0,526.3 1496.0,525.3 1498.0,526.3 1500.0,526.5 1502.0,526.7 1504.1,525.4 1506.2,527.4 1508.2,528.5 1510.2,527.8 1512.3,527.1 1514.3,528.4 1516.4,528.9 1518.5,529.1 1520.5,529.2 1522.5,528.7 1524.6,529.4 1526.7,529.0 1528.7,527.7 1530.8,527.2 1532.8,528.5 1534.8,529.3 1536.9,528.0 1539.0,528.4 1541.0,529.0 1543.1,527.7 1545.1,527.7 1547.2,528.5 1549.2,530.4 1551.3,528.0 1553.3,528.4 1555.4,529.2 1557.4,531.1 1559.5,528.8 1561.5,528.3 1563.6,528.4 1565.6,529.4 1567.7,528.4 1569.7,530.7 1571.8,528.8 1573.8,529.3 1575.9,529.0 1577.9,529.7 1580.0,530.5 1582.1,529.2 1584.2,529.4 1586.2,529.5 1588.3,529.6 1590.4,530.9 1592.5,530.1 1594.6,529.6 1596.7,528.9 1598.8,531.7 1600.8,531.6 1602.9,531.9 1605.0,530.5 1607.1,531.1 1609.1,530.0 1611.2,529.6 1613.2,529.1 1615.3,529.7 1617.4,529.5 1619.4,531.1 1621.5,528.6 1623.5,530.1 1625.6,530.1 1627.6,529.7 1629.7,529.5 1631.8,527.5 1633.8,527.7 1635.9,528.8 1637.9,528.9 1640.0,528.5 1642.0,530.0 1644.0,529.4 1646.0,527.6 1648.0,527.4 1650.0,529.4 1652.0,526.9 1654.0,529.8 1656.0,527.2 1658.0,528.8 1660.0,529.6 1662.0,527.2 1664.0,527.2 1666.0,528.9 1668.0,529.2 1670.0,526.9 1672.0,528.4 1674.0,529.4 1676.0,529.4 1678.0,528.2 1680.0,526.9 1682.0,528.9 1684.0,528.6 1686.0,528.3 1688.0,528.8 1690.0,528.8 1692.0,528.4 1694.0,528.7 1696.0,528.7 1698.0,529.4 1700.0,528.5 1702.0,529.4 1704.0,526.9 1706.0,529.3 1708.0,527.6 1710.0,528.1 1712.0,527.4 1714.0,527.7 1716.0,528.0 1718.0,528.1 1720.0,527.0 1722.0,527.6 1724.0,528.1 1726.0,527.8 1728.0,528.2 1730.0,526.7 1732.0,528.3 1734.0,529.4 1736.0,528.8 1738.0,528.2 1740.0,528.0 1742.1,529.1 1744.1,527.8 1746.2,527.2 1748.2,528.7 1750.3,527.7 1752.4,527.8 1754.4,529.5 1756.5,528.8 1758.6,527.8 1760.6,528.0 1762.7,529.8 1764.8,529.6 1766.8,530.5 1768.9,530.1 1770.9,528.7 1773.0,529.5 1773.0,532.4" fill="#afafaf"/>
<rect x="1773.0" y="530.6" width="16.0" height="1.8" fill="#c8c8c8"/>
<polygon points="528.0,533.0 543.0,533.0 543.0,537.0 528.0,537.0" fill="#eab0b0"/>
<polygon points="649.9,532.9 730.3,532.9 730.3,732.5 683.8,732.5 679.5,691.8 676.3,638.8 673.2,605.0 669.0,562.6 660.5,556.0 656.2,537.0" fill="#eab0b0"/>
<polygon points="821.4,532.4 1810.0,532.4 1810.0,540.0 1803.0,540.0 1803.0,575.0 1784.0,575.0 1784.0,607.0 1789.0,607.0 1789.0,624.5 1775.0,624.5 1775.0,692.8 1778.0,692.8 1778.0,699.0 1775.0,699.0 1775.0,710.0 1751.0,710.0 1751.0,732.5 821.4,732.5" fill="#eab0b0"/>
<polygon points="1814.3,533.2 1836.6,533.2 1836.6,545.1 1814.3,545.1" fill="#eab0b0"/>
<polygon points="1833.4,533.2 1849.4,533.2 1849.4,536.4 1833.4,536.4" fill="#eab0b0"/>
<polygon points="1873.0,532.4 1909.6,532.4 1909.6,537.0 1902.0,545.1 1888.0,545.1 1880.0,538.0" fill="#eab0b0"/>
<polygon points="1909.6,532.4 1954.0,532.4 1954.0,550.0 1933.0,550.0 1923.0,546.0 1921.0,540.0 1912.0,536.0" fill="#eab0b0"/>
<polygon points="1957.0,532.4 1982.7,532.4 1982.7,539.6 1965.0,539.6 1960.0,536.0" fill="#eab0b0"/>
<rect x="730.3" y="532.9" width="91.1" height="2.6" fill="#b3c9d6"/>
<rect x="730.3" y="535.5" width="91.1" height="4.8" fill="#fdfdfd"/>
<rect x="730.3" y="540.3" width="91.1" height="23.3" fill="#97b6c8"/>
<rect x="730.3" y="563.6" width="91.1" height="5.4" fill="#fdfdfd"/>
<rect x="730.3" y="569.0" width="91.1" height="141.8" fill="#97b6c8"/>
<rect x="730.3" y="710.8" width="91.1" height="13.8" fill="#fdfdfd"/>
<rect x="730.3" y="724.6" width="91.1" height="7.9" fill="#97b6c8"/>
<polygon points="1541.0,627.0 1571.0,633.0 1584.0,641.0 1603.0,656.0 1604.0,700.0 1607.0,732.5 1537.0,732.5 1530.0,700.0 1524.0,656.0 1552.0,656.0 1550.0,640.0" fill="#f9f9f9"/>
<polygon points="1478.0,645.0 1486.0,645.0 1495.0,732.5 1488.0,732.5" fill="#f9f9f9"/>
<polygon points="1499.0,649.0 1505.0,649.0 1522.0,732.5 1509.0,732.5" fill="#f9f9f9"/>
<polygon points="1679.0,626.0 1683.0,626.0 1698.0,732.5 1687.0,732.5" fill="#f9f9f9"/>
<polygon points="1746.0,667.0 1751.0,667.0 1751.0,732.5 1744.0,732.5" fill="#f9f9f9"/>
<polygon points="1100.8,707.6 1111.4,707.6 1111.4,726.7 1100.8,726.7" fill="#f9f9f9"/>
<g><rect x="950.6" y="260.6" width="1.2" height="8.0" fill="#fff" fill-opacity="0.4"/><rect x="866.6" y="219.3" width="1.2" height="18.0" fill="#fff" fill-opacity="0.4"/><rect x="1184.5" y="295.9" width="1.5" height="16.1" fill="#fff" fill-opacity="0.9"/><rect x="1157.0" y="298.5" width="2" height="3.0" fill="#fff" fill-opacity="0.9"/><rect x="802.9" y="299.4" width="1.5" height="2.0" fill="#fff" fill-opacity="0.75"/><rect x="791.8" y="274.0" width="2" height="3.0" fill="#fff" fill-opacity="0.9"/><rect x="1132.9" y="274.0" width="2" height="8.0" fill="#fff" fill-opacity="0.9"/><rect x="1687.1" y="263.0" width="2" height="4.0" fill="#fff" fill-opacity="0.9"/><rect x="1629.2" y="242.3" width="2" height="5.0" fill="#fff" fill-opacity="0.9"/><rect x="1037.9" y="200.1" width="2" height="5.0" fill="#fff" fill-opacity="0.55"/><rect x="1109.6" y="287.9" width="2" height="6.0" fill="#fff" fill-opacity="0.75"/><rect x="1625.0" y="297.7" width="2" height="8.0" fill="#fff" fill-opacity="0.55"/><rect x="892.3" y="102.4" width="1.2" height="5.0" fill="#fff" fill-opacity="0.9"/><rect x="1324.2" y="300.9" width="1.5" height="5.0" fill="#fff" fill-opacity="0.9"/><rect x="858.4" y="196.6" width="2" height="3.0" fill="#fff" fill-opacity="0.4"/><rect x="1156.0" y="302.2" width="1.5" height="5.0" fill="#fff" fill-opacity="0.55"/><rect x="1210.4" y="278.7" width="2" height="3.0" fill="#fff" fill-opacity="0.4"/><rect x="1454.7" y="307.8" width="1.2" height="4.2" fill="#fff" fill-opacity="0.9"/><rect x="1416.5" y="222.8" width="1.5" height="3.0" fill="#fff" fill-opacity="0.9"/><rect x="719.6" y="263.9" width="1.2" height="4.0" fill="#fff" fill-opacity="0.4"/><rect x="1648.3" y="130.1" width="2" height="18.0" fill="#fff" fill-opacity="0.75"/><rect x="1078.2" y="265.4" width="1.5" height="26.0" fill="#fff" fill-opacity="0.55"/><rect x="1585.5" y="289.1" width="1.5" height="8.0" fill="#fff" fill-opacity="0.55"/><rect x="1106.0" y="244.0" width="2" height="4.0" fill="#fff" fill-opacity="0.9"/><rect x="851.4" y="193.0" width="1.2" height="26.0" fill="#fff" fill-opacity="0.4"/><rect x="1574.1" y="298.9" width="1.5" height="8.0" fill="#fff" fill-opacity="0.75"/><rect x="1284.2" y="310.2" width="1.5" height="1.8" fill="#fff" fill-opacity="0.9"/><rect x="1176.0" y="219.0" width="1.5" height="4.0" fill="#fff" fill-opacity="0.75"/><rect x="871.7" y="261.5" width="2" height="2.0" fill="#fff" fill-opacity="0.4"/><rect x="809.8" y="294.2" width="1.5" height="17.8" fill="#fff" fill-opacity="0.75"/><rect x="858.6" y="244.9" width="1.2" height="18.0" fill="#fff" fill-opacity="0.75"/><rect x="1128.5" y="218.1" width="2" height="6.0" fill="#fff" fill-opacity="0.4"/><rect x="878.8" y="267.8" width="2" height="2.0" fill="#fff" fill-opacity="0.9"/><rect x="1031.4" y="296.0" width="2" height="3.0" fill="#fff" fill-opacity="0.55"/><rect x="1492.9" y="211.6" width="1.2" height="2.0" fill="#fff" fill-opacity="0.55"/><rect x="1401.1" y="260.8" width="2" height="2.0" fill="#fff" fill-opacity="0.9"/><rect x="1045.8" y="171.8" width="1.5" height="18.0" fill="#fff" fill-opacity="0.9"/><rect x="774.0" y="285.5" width="1.5" height="4.0" fill="#fff" fill-opacity="0.4"/><rect x="966.9" y="264.2" width="2" height="2.0" fill="#fff" fill-opacity="0.4"/><rect x="1575.1" y="291.0" width="2" height="8.0" fill="#fff" fill-opacity="0.75"/><rect x="732.4" y="296.0" width="2" height="12.0" fill="#fff" fill-opacity="0.9"/><rect x="1492.8" y="108.2" width="2" height="3.0" fill="#fff" fill-opacity="0.75"/><rect x="896.5" y="235.0" width="2" height="8.0" fill="#fff" fill-opacity="0.75"/><rect x="1663.9" y="273.3" width="2" height="3.0" fill="#fff" fill-opacity="0.9"/><rect x="1017.7" y="279.7" width="1.2" height="5.0" fill="#fff" fill-opacity="0.9"/><rect x="1555.8" y="275.3" width="1.5" height="8.0" fill="#fff" fill-opacity="0.55"/><rect x="1255.1" y="233.8" width="1.5" height="3.0" fill="#fff" fill-opacity="0.55"/><rect x="1267.6" y="269.6" width="1.2" height="6.0" fill="#fff" fill-opacity="0.75"/><rect x="1322.5" y="265.2" width="2" height="6.0" fill="#fff" fill-opacity="0.9"/><rect x="1589.8" y="161.9" width="2" height="5.0" fill="#fff" fill-opacity="0.75"/><rect x="1649.7" y="242.8" width="1.2" height="26.0" fill="#fff" fill-opacity="0.55"/><rect x="952.6" y="214.0" width="1.5" height="6.0" fill="#fff" fill-opacity="0.9"/><rect x="834.9" y="191.3" width="2" height="6.0" fill="#fff" fill-opacity="0.55"/><rect x="1483.4" y="253.5" width="2" height="6.0" fill="#fff" fill-opacity="0.75"/><rect x="1597.8" y="281.4" width="2" height="18.0" fill="#fff" fill-opacity="0.75"/><rect x="948.8" y="210.1" width="2" height="5.0" fill="#fff" fill-opacity="0.4"/><rect x="761.9" y="304.4" width="1.5" height="7.6" fill="#fff" fill-opacity="0.4"/><rect x="1438.0" y="205.0" width="1.2" height="18.0" fill="#fff" fill-opacity="0.75"/><rect x="838.4" y="235.0" width="2" height="3.0" fill="#fff" fill-opacity="0.55"/><rect x="1785.2" y="204.6" width="2" height="26.0" fill="#fff" fill-opacity="0.75"/><rect x="1646.4" y="212.8" width="2" height="8.0" fill="#fff" fill-opacity="0.75"/><rect x="1270.1" y="200.4" width="2" height="8.0" fill="#fff" fill-opacity="0.55"/><rect x="1465.9" y="302.3" width="1.5" height="3.0" fill="#fff" fill-opacity="0.55"/><rect x="1719.9" y="178.2" width="2" height="3.0" fill="#fff" fill-opacity="0.4"/><rect x="985.9" y="277.6" width="2" height="3.0" fill="#fff" fill-opacity="0.75"/><rect x="1047.5" y="144.1" width="1.5" height="4.0" fill="#fff" fill-opacity="0.4"/><rect x="1804.2" y="171.0" width="1.2" height="2.0" fill="#fff" fill-opacity="0.4"/><rect x="1109.5" y="254.0" width="1.2" height="6.0" fill="#fff" fill-opacity="0.75"/><rect x="1439.4" y="310.4" width="2" height="1.6" fill="#fff" fill-opacity="0.55"/><rect x="1652.3" y="254.0" width="2" height="3.0" fill="#fff" fill-opacity="0.9"/><rect x="786.7" y="224.0" width="2" height="4.0" fill="#fff" fill-opacity="0.9"/><rect x="852.6" y="302.4" width="2" height="4.0" fill="#fff" fill-opacity="0.55"/><rect x="1583.7" y="277.3" width="2" height="12.0" fill="#fff" fill-opacity="0.55"/><rect x="1051.7" y="307.9" width="2" height="4.1" fill="#fff" fill-opacity="0.9"/><rect x="1465.7" y="303.3" width="2" height="5.0" fill="#fff" fill-opacity="0.75"/><rect x="1752.9" y="213.2" width="1.2" height="12.0" fill="#fff" fill-opacity="0.9"/><rect x="1129.9" y="278.2" width="2" height="6.0" fill="#fff" fill-opacity="0.75"/><rect x="1460.7" y="238.5" width="2" height="5.0" fill="#fff" fill-opacity="0.4"/><rect x="1664.1" y="285.2" width="2" height="8.0" fill="#fff" fill-opacity="0.55"/><rect x="1153.8" y="282.9" width="2" height="4.0" fill="#fff" fill-opacity="0.9"/><rect x="979.2" y="279.6" width="1.5" height="3.0" fill="#fff" fill-opacity="0.9"/><rect x="951.1" y="124.4" width="2" height="2.0" fill="#fff" fill-opacity="0.55"/><rect x="1210.4" y="295.6" width="2" height="5.0" fill="#fff" fill-opacity="0.9"/><rect x="1421.7" y="241.7" width="2" height="18.0" fill="#fff" fill-opacity="0.75"/><rect x="1153.8" y="143.2" width="1.2" height="12.0" fill="#fff" fill-opacity="0.75"/><rect x="1550.3" y="306.0" width="2" height="3.0" fill="#fff" fill-opacity="0.55"/><rect x="1609.4" y="228.1" width="1.2" height="3.0" fill="#fff" fill-opacity="0.9"/><rect x="1462.0" y="285.9" width="1.5" height="3.0" fill="#fff" fill-opacity="0.55"/><rect x="1087.1" y="301.1" width="2" height="10.9" fill="#fff" fill-opacity="0.4"/><rect x="961.1" y="300.0" width="2" height="4.0" fill="#fff" fill-opacity="0.9"/><rect x="1402.4" y="156.2" width="1.5" height="8.0" fill="#fff" fill-opacity="0.55"/><rect x="1590.0" y="285.7" width="1.2" height="2.0" fill="#fff" fill-opacity="0.4"/><rect x="1665.0" y="293.7" width="1.5" height="3.0" fill="#fff" fill-opacity="0.9"/><rect x="1652.2" y="266.0" width="1.2" height="18.0" fill="#fff" fill-opacity="0.9"/><rect x="1694.8" y="267.8" width="2" height="8.0" fill="#fff" fill-opacity="0.75"/><rect x="1192.8" y="257.1" width="2" height="12.0" fill="#fff" fill-opacity="0.55"/><rect x="1717.5" y="246.6" width="1.2" height="26.0" fill="#fff" fill-opacity="0.75"/><rect x="1243.8" y="243.1" width="1.2" height="8.0" fill="#fff" fill-opacity="0.75"/><rect x="950.3" y="236.7" width="2" height="4.0" fill="#fff" fill-opacity="0.4"/><rect x="1436.7" y="292.1" width="2" height="3.0" fill="#fff" fill-opacity="0.9"/><rect x="1626.8" y="257.7" width="2" height="6.0" fill="#fff" fill-opacity="0.75"/><rect x="1206.4" y="231.6" width="1.2" height="3.0" fill="#fff" fill-opacity="0.9"/><rect x="1646.8" y="305.1" width="2" height="6.9" fill="#fff" fill-opacity="0.55"/><rect x="1210.4" y="280.5" width="1.5" height="12.0" fill="#fff" fill-opacity="0.75"/><rect x="1691.8" y="295.0" width="1.5" height="2.0" fill="#fff" fill-opacity="0.55"/><rect x="1541.1" y="231.5" width="1.5" height="18.0" fill="#fff" fill-opacity="0.4"/><rect x="1523.2" y="235.0" width="2" height="5.0" fill="#fff" fill-opacity="0.4"/><rect x="1421.1" y="252.4" width="1.5" height="6.0" fill="#fff" fill-opacity="0.75"/><rect x="1596.9" y="288.9" width="1.5" height="6.0" fill="#fff" fill-opacity="0.9"/><rect x="820.9" y="121.1" width="2" height="6.0" fill="#fff" fill-opacity="0.9"/><rect x="1045.7" y="298.5" width="1.2" height="3.0" fill="#fff" fill-opacity="0.75"/><rect x="1393.6" y="191.5" width="1.2" height="18.0" fill="#fff" fill-opacity="0.4"/><rect x="963.3" y="278.0" width="2" height="26.0" fill="#fff" fill-opacity="0.75"/><rect x="1285.8" y="288.1" width="2" height="8.0" fill="#fff" fill-opacity="0.75"/><rect x="889.2" y="227.3" width="1.2" height="12.0" fill="#fff" fill-opacity="0.9"/><rect x="1740.6" y="222.4" width="2" height="26.0" fill="#fff" fill-opacity="0.75"/><rect x="1759.7" y="239.8" width="1.2" height="18.0" fill="#fff" fill-opacity="0.75"/><rect x="1072.5" y="287.7" width="2" height="5.0" fill="#fff" fill-opacity="0.75"/><rect x="1495.1" y="216.0" width="2" height="26.0" fill="#fff" fill-opacity="0.55"/><rect x="1664.2" y="144.6" width="2" height="6.0" fill="#fff" fill-opacity="0.75"/><rect x="911.0" y="311.6" width="1.2" height="0.4" fill="#fff" fill-opacity="0.55"/><rect x="1726.1" y="231.8" width="2" height="8.0" fill="#fff" fill-opacity="0.9"/><rect x="1568.0" y="290.3" width="2" height="12.0" fill="#fff" fill-opacity="0.9"/><rect x="1246.6" y="294.3" width="2" height="12.0" fill="#fff" fill-opacity="0.9"/><rect x="1114.6" y="213.1" width="2" height="3.0" fill="#fff" fill-opacity="0.4"/><rect x="907.6" y="126.1" width="1.2" height="12.0" fill="#fff" fill-opacity="0.55"/><rect x="1274.0" y="250.0" width="2" height="3.0" fill="#fff" fill-opacity="0.9"/><rect x="1774.7" y="216.2" width="2" height="18.0" fill="#fff" fill-opacity="0.9"/><rect x="859.8" y="178.1" width="2" height="8.0" fill="#fff" fill-opacity="0.75"/><rect x="1548.4" y="206.1" width="1.5" height="18.0" fill="#fff" fill-opacity="0.4"/><rect x="944.9" y="184.0" width="1.5" height="5.0" fill="#fff" fill-opacity="0.75"/><rect x="1264.2" y="301.6" width="2" height="10.4" fill="#fff" fill-opacity="0.75"/><rect x="1771.7" y="201.9" width="2" height="8.0" fill="#fff" fill-opacity="0.4"/><rect x="1607.7" y="148.9" width="1.2" height="3.0" fill="#fff" fill-opacity="0.55"/><rect x="967.5" y="235.9" width="2" height="4.0" fill="#fff" fill-opacity="0.75"/><rect x="1064.0" y="254.1" width="2" height="4.0" fill="#fff" fill-opacity="0.4"/><rect x="1628.9" y="282.8" width="1.2" height="5.0" fill="#fff" fill-opacity="0.9"/><rect x="1190.0" y="254.1" width="2" height="26.0" fill="#fff" fill-opacity="0.9"/><rect x="1504.9" y="260.8" width="2" height="5.0" fill="#fff" fill-opacity="0.55"/><rect x="1399.9" y="183.6" width="2" height="4.0" fill="#fff" fill-opacity="0.4"/><rect x="829.7" y="294.9" width="1.5" height="6.0" fill="#fff" fill-opacity="0.4"/><rect x="710.0" y="172.1" width="1.2" height="4.0" fill="#fff" fill-opacity="0.4"/><rect x="990.1" y="261.8" width="2" height="3.0" fill="#fff" fill-opacity="0.55"/><rect x="1650.6" y="310.3" width="2" height="1.7" fill="#fff" fill-opacity="0.75"/><rect x="1598.1" y="224.5" width="1.2" height="26.0" fill="#fff" fill-opacity="0.75"/><rect x="1482.5" y="241.3" width="1.2" height="2.0" fill="#fff" fill-opacity="0.55"/><rect x="1598.4" y="103.4" width="1.2" height="3.0" fill="#fff" fill-opacity="0.4"/><rect x="835.5" y="288.2" width="1.5" height="4.0" fill="#fff" fill-opacity="0.4"/><rect x="795.8" y="273.3" width="2" height="4.0" fill="#fff" fill-opacity="0.4"/><rect x="1172.7" y="250.7" width="2" height="2.0" fill="#fff" fill-opacity="0.9"/><rect x="1054.8" y="282.6" width="2" height="6.0" fill="#fff" fill-opacity="0.55"/><rect x="1130.2" y="273.7" width="2" height="6.0" fill="#fff" fill-opacity="0.4"/><rect x="1061.0" y="280.1" width="2" height="4.0" fill="#fff" fill-opacity="0.4"/><rect x="1183.5" y="261.1" width="1.5" height="8.0" fill="#fff" fill-opacity="0.4"/><rect x="1403.2" y="245.7" width="1.5" height="3.0" fill="#fff" fill-opacity="0.4"/><rect x="1009.2" y="227.1" width="2" height="8.0" fill="#fff" fill-opacity="0.4"/><rect x="793.8" y="219.0" width="1.5" height="26.0" fill="#fff" fill-opacity="0.55"/><rect x="1768.3" y="297.8" width="1.5" height="4.0" fill="#fff" fill-opacity="0.4"/><rect x="1141.0" y="159.4" width="1.5" height="6.0" fill="#fff" fill-opacity="0.9"/><rect x="1287.5" y="224.8" width="2" height="3.0" fill="#fff" fill-opacity="0.75"/><rect x="1287.2" y="282.5" width="2" height="18.0" fill="#fff" fill-opacity="0.4"/><rect x="1090.9" y="189.0" width="1.2" height="12.0" fill="#fff" fill-opacity="0.75"/><rect x="777.3" y="293.2" width="2" height="3.0" fill="#fff" fill-opacity="0.9"/><rect x="840.0" y="209.7" width="2" height="5.0" fill="#fff" fill-opacity="0.55"/><rect x="712.8" y="217.4" width="2" height="3.0" fill="#fff" fill-opacity="0.75"/><rect x="1341.9" y="283.2" width="1.2" height="8.0" fill="#fff" fill-opacity="0.4"/><rect x="1773.3" y="216.3" width="1.2" height="8.0" fill="#fff" fill-opacity="0.4"/><rect x="1487.1" y="261.1" width="1.2" height="4.0" fill="#fff" fill-opacity="0.9"/><rect x="1659.4" y="275.1" width="2" height="4.0" fill="#fff" fill-opacity="0.4"/><rect x="1439.2" y="112.6" width="2" height="3.0" fill="#fff" fill-opacity="0.55"/><rect x="980.3" y="202.4" width="2" height="6.0" fill="#fff" fill-opacity="0.55"/><rect x="1376.6" y="141.5" width="1.2" height="26.0" fill="#fff" fill-opacity="0.75"/><rect x="1559.9" y="127.1" width="2" height="3.0" fill="#fff" fill-opacity="0.9"/><rect x="1009.6" y="309.5" width="1.5" height="2.5" fill="#fff" fill-opacity="0.9"/><rect x="1146.4" y="232.6" width="2" height="8.0" fill="#fff" fill-opacity="0.9"/><rect x="1381.5" y="302.0" width="1.2" height="4.0" fill="#fff" fill-opacity="0.55"/><rect x="768.0" y="269.6" width="1.2" height="5.0" fill="#fff" fill-opacity="0.75"/><rect x="929.2" y="118.1" width="1.5" height="6.0" fill="#fff" fill-opacity="0.9"/><rect x="1454.8" y="110.0" width="1.5" height="5.0" fill="#fff" fill-opacity="0.55"/><rect x="1340.1" y="308.8" width="1.5" height="3.2" fill="#fff" fill-opacity="0.55"/><rect x="1325.9" y="143.5" width="1.5" height="2.0" fill="#fff" fill-opacity="0.4"/><rect x="1489.3" y="241.9" width="1.2" height="2.0" fill="#fff" fill-opacity="0.9"/><rect x="1785.5" y="261.9" width="1.2" height="12.0" fill="#fff" fill-opacity="0.55"/><rect x="1601.4" y="259.7" width="2" height="3.0" fill="#fff" fill-opacity="0.9"/><rect x="1196.5" y="202.0" width="2" height="6.0" fill="#fff" fill-opacity="0.4"/><rect x="787.7" y="287.7" width="2" height="8.0" fill="#fff" fill-opacity="0.9"/><rect x="1514.3" y="119.4" width="2" height="5.0" fill="#fff" fill-opacity="0.9"/><rect x="1366.9" y="242.0" width="2" height="2.0" fill="#fff" fill-opacity="0.4"/><rect x="1579.0" y="178.0" width="2" height="18.0" fill="#fff" fill-opacity="0.9"/><rect x="1177.3" y="299.6" width="2" height="5.0" fill="#fff" fill-opacity="0.4"/><rect x="1529.2" y="148.8" width="2" height="6.0" fill="#fff" fill-opacity="0.75"/><rect x="889.0" y="183.1" width="1.2" height="18.0" fill="#fff" fill-opacity="0.9"/><rect x="1512.8" y="251.1" width="2" height="8.0" fill="#fff" fill-opacity="0.9"/><rect x="925.8" y="270.0" width="2" height="3.0" fill="#fff" fill-opacity="0.75"/><rect x="1619.6" y="266.0" width="1.2" height="5.0" fill="#fff" fill-opacity="0.4"/><rect x="1435.6" y="283.1" width="2" height="8.0" fill="#fff" fill-opacity="0.55"/><rect x="1035.9" y="287.1" width="2" height="24.9" fill="#fff" fill-opacity="0.55"/><rect x="928.1" y="176.9" width="1.5" height="4.0" fill="#fff" fill-opacity="0.9"/><rect x="1261.4" y="202.7" width="2" height="2.0" fill="#fff" fill-opacity="0.75"/><rect x="894.7" y="246.3" width="1.5" height="8.0" fill="#fff" fill-opacity="0.75"/><rect x="1291.3" y="274.2" width="1.5" height="8.0" fill="#fff" fill-opacity="0.4"/><rect x="1707.7" y="121.1" width="1.2" height="18.0" fill="#fff" fill-opacity="0.75"/><rect x="1208.4" y="280.3" width="2" height="4.0" fill="#fff" fill-opacity="0.9"/><rect x="1487.0" y="230.2" width="1.2" height="3.0" fill="#fff" fill-opacity="0.75"/><rect x="776.4" y="148.3" width="2" height="26.0" fill="#fff" fill-opacity="0.75"/><rect x="1030.0" y="255.1" width="1.5" height="18.0" fill="#fff" fill-opacity="0.55"/><rect x="996.4" y="299.6" width="2" height="3.0" fill="#fff" fill-opacity="0.55"/><rect x="1009.0" y="193.2" width="2" height="2.0" fill="#fff" fill-opacity="0.75"/><rect x="1263.2" y="171.3" width="2" height="3.0" fill="#fff" fill-opacity="0.4"/><rect x="964.9" y="218.2" width="1.5" height="6.0" fill="#fff" fill-opacity="0.4"/><rect x="1311.6" y="236.7" width="2" height="3.0" fill="#fff" fill-opacity="0.55"/><rect x="1269.7" y="223.9" width="2" height="2.0" fill="#fff" fill-opacity="0.9"/><rect x="1181.7" y="308.2" width="2" height="3.0" fill="#fff" fill-opacity="0.9"/><rect x="1338.1" y="245.1" width="1.5" height="4.0" fill="#fff" fill-opacity="0.9"/><rect x="714.3" y="285.1" width="2" height="5.0" fill="#fff" fill-opacity="0.75"/><rect x="1557.0" y="262.4" width="2" height="2.0" fill="#fff" fill-opacity="0.9"/><rect x="1190.3" y="285.9" width="2" height="3.0" fill="#fff" fill-opacity="0.9"/><rect x="716.5" y="180.8" width="2" height="26.0" fill="#fff" fill-opacity="0.75"/><rect x="958.0" y="205.3" width="2" height="3.0" fill="#fff" fill-opacity="0.9"/><rect x="789.9" y="258.6" width="2" height="5.0" fill="#fff" fill-opacity="0.75"/><rect x="1201.5" y="255.0" width="2" height="2.0" fill="#fff" fill-opacity="0.75"/><rect x="1478.2" y="214.6" width="1.2" height="18.0" fill="#fff" fill-opacity="0.75"/><rect x="1271.2" y="241.4" width="2" height="8.0" fill="#fff" fill-opacity="0.55"/><rect x="1385.8" y="129.1" width="1.5" height="5.0" fill="#fff" fill-opacity="0.4"/><rect x="1485.1" y="218.3" width="1.5" height="18.0" fill="#fff" fill-opacity="0.55"/><rect x="1132.8" y="303.3" width="1.2" height="3.0" fill="#fff" fill-opacity="0.55"/><rect x="970.3" y="226.2" width="2" height="3.0" fill="#fff" fill-opacity="0.9"/><rect x="778.3" y="120.1" width="2" height="3.0" fill="#fff" fill-opacity="0.55"/><rect x="1679.6" y="291.2" width="2" height="6.0" fill="#fff" fill-opacity="0.75"/><rect x="1690.1" y="305.9" width="2" height="6.1" fill="#fff" fill-opacity="0.9"/><rect x="1281.9" y="300.2" width="2" height="3.0" fill="#fff" fill-opacity="0.4"/><rect x="821.4" y="243.5" width="1.2" height="2.0" fill="#fff" fill-opacity="0.4"/><rect x="1757.2" y="122.4" width="2" height="6.0" fill="#fff" fill-opacity="0.4"/><rect x="910.2" y="297.8" width="1.2" height="12.0" fill="#fff" fill-opacity="0.4"/><rect x="1497.5" y="245.4" width="2" height="5.0" fill="#fff" fill-opacity="0.4"/><rect x="1512.9" y="296.4" width="1.5" height="5.0" fill="#fff" fill-opacity="0.55"/><rect x="865.8" y="274.1" width="1.5" height="2.0" fill="#fff" fill-opacity="0.55"/><rect x="1459.3" y="281.7" width="1.2" height="5.0" fill="#fff" fill-opacity="0.55"/><rect x="1506.7" y="272.4" width="1.5" height="4.0" fill="#fff" fill-opacity="0.9"/><rect x="1458.0" y="255.8" width="2" height="18.0" fill="#fff" fill-opacity="0.75"/><rect x="1566.3" y="304.9" width="2" height="6.0" fill="#fff" fill-opacity="0.75"/><rect x="1136.5" y="253.4" width="1.5" height="26.0" fill="#fff" fill-opacity="0.55"/><rect x="1237.5" y="217.9" width="1.5" height="5.0" fill="#fff" fill-opacity="0.4"/><rect x="1368.2" y="247.3" width="1.2" height="12.0" fill="#fff" fill-opacity="0.55"/><rect x="774.6" y="162.2" width="1.5" height="4.0" fill="#fff" fill-opacity="0.9"/><rect x="1483.7" y="286.4" width="2" height="5.0" fill="#fff" fill-opacity="0.75"/><rect x="1696.3" y="199.0" width="2" height="2.0" fill="#fff" fill-opacity="0.55"/><rect x="1501.5" y="236.0" width="1.5" height="12.0" fill="#fff" fill-opacity="0.55"/><rect x="960.5" y="276.9" width="1.2" height="3.0" fill="#fff" fill-opacity="0.55"/><rect x="1092.7" y="102.0" width="2" height="12.0" fill="#fff" fill-opacity="0.55"/><rect x="1676.0" y="237.1" width="2" height="3.0" fill="#fff" fill-opacity="0.9"/><rect x="1059.4" y="222.0" width="2" height="3.0" fill="#fff" fill-opacity="0.9"/><rect x="1123.4" y="307.0" width="1.5" height="5.0" fill="#fff" fill-opacity="0.55"/><rect x="1180.1" y="137.0" width="2" height="3.0" fill="#fff" fill-opacity="0.75"/><rect x="1521.5" y="132.5" width="1.5" height="6.0" fill="#fff" fill-opacity="0.75"/><rect x="1794.9" y="234.2" width="1.5" height="18.0" fill="#fff" fill-opacity="0.4"/><rect x="1217.1" y="308.3" width="1.5" height="3.7" fill="#fff" fill-opacity="0.9"/><rect x="1756.0" y="232.6" width="2" height="5.0" fill="#fff" fill-opacity="0.75"/><rect x="958.4" y="289.6" width="2" height="3.0" fill="#fff" fill-opacity="0.55"/><rect x="1699.2" y="299.7" width="2" height="8.0" fill="#fff" fill-opacity="0.4"/><rect x="1775.4" y="185.8" width="1.2" height="4.0" fill="#fff" fill-opacity="0.4"/><rect x="1678.5" y="306.5" width="1.5" height="5.5" fill="#fff" fill-opacity="0.75"/><rect x="1556.2" y="149.8" width="1.2" height="6.0" fill="#fff" fill-opacity="0.75"/><rect x="708.2" y="233.3" width="2" height="5.0" fill="#fff" fill-opacity="0.55"/><rect x="1042.1" y="224.4" width="2" height="3.0" fill="#fff" fill-opacity="0.75"/><rect x="975.8" y="285.3" width="2" height="12.0" fill="#fff" fill-opacity="0.4"/><rect x="1089.6" y="239.1" width="1.5" height="4.0" fill="#fff" fill-opacity="0.4"/><rect x="936.4" y="302.3" width="1.5" height="5.0" fill="#fff" fill-opacity="0.75"/><rect x="1139.6" y="132.6" width="2" height="3.0" fill="#fff" fill-opacity="0.9"/><rect x="1559.0" y="301.8" width="1.2" height="3.0" fill="#fff" fill-opacity="0.4"/><rect x="730.9" y="257.0" width="2" height="12.0" fill="#fff" fill-opacity="0.75"/><rect x="1484.0" y="305.4" width="1.2" height="3.0" fill="#fff" fill-opacity="0.4"/><rect x="1050.4" y="125.4" width="1.5" height="18.0" fill="#fff" fill-opacity="0.55"/><rect x="994.3" y="257.2" width="2" height="4.0" fill="#fff" fill-opacity="0.55"/><rect x="1202.1" y="214.7" width="1.2" height="5.0" fill="#fff" fill-opacity="0.4"/><rect x="1339.4" y="241.9" width="2" height="3.0" fill="#fff" fill-opacity="0.55"/><rect x="963.0" y="203.0" width="1.5" height="8.0" fill="#fff" fill-opacity="0.4"/><rect x="824.7" y="303.1" width="1.5" height="5.0" fill="#fff" fill-opacity="0.75"/><rect x="940.0" y="270.8" width="2" height="18.0" fill="#fff" fill-opacity="0.55"/><rect x="1598.9" y="190.4" width="2" height="12.0" fill="#fff" fill-opacity="0.9"/><rect x="767.1" y="302.7" width="2" height="3.0" fill="#fff" fill-opacity="0.4"/><rect x="1489.4" y="290.9" width="2" height="18.0" fill="#fff" fill-opacity="0.55"/><rect x="1417.6" y="188.5" width="2" height="6.0" fill="#fff" fill-opacity="0.55"/><rect x="726.2" y="164.9" width="2" height="3.0" fill="#fff" fill-opacity="0.55"/><rect x="711.5" y="143.1" width="1.2" height="12.0" fill="#fff" fill-opacity="0.75"/><rect x="994.2" y="252.8" width="1.2" height="5.0" fill="#fff" fill-opacity="0.75"/><rect x="1512.0" y="133.7" width="1.2" height="26.0" fill="#fff" fill-opacity="0.75"/><rect x="1588.8" y="282.8" width="2" height="12.0" fill="#fff" fill-opacity="0.9"/><rect x="1298.9" y="241.3" width="1.5" height="3.0" fill="#fff" fill-opacity="0.9"/><rect x="982.0" y="186.3" width="2" height="3.0" fill="#fff" fill-opacity="0.9"/><rect x="1291.3" y="311.4" width="2" height="0.6" fill="#fff" fill-opacity="0.9"/><rect x="1716.4" y="221.8" width="1.5" height="5.0" fill="#fff" fill-opacity="0.55"/><rect x="1665.9" y="268.5" width="1.2" height="6.0" fill="#fff" fill-opacity="0.55"/><rect x="1094.9" y="180.5" width="1.2" height="4.0" fill="#fff" fill-opacity="0.55"/><rect x="1442.4" y="140.4" width="2" height="5.0" fill="#fff" fill-opacity="0.55"/><rect x="1175.9" y="269.6" width="1.2" height="18.0" fill="#fff" fill-opacity="0.55"/><rect x="1280.8" y="286.1" width="2" height="2.0" fill="#fff" fill-opacity="0.75"/><rect x="1462.3" y="168.6" width="1.2" height="2.0" fill="#fff" fill-opacity="0.55"/><rect x="1613.9" y="300.5" width="2" height="6.0" fill="#fff" fill-opacity="0.75"/><rect x="1194.2" y="265.5" width="1.2" height="3.0" fill="#fff" fill-opacity="0.9"/><rect x="959.8" y="183.5" width="2" height="2" fill="#7a3cf0" fill-opacity="0.7"/><rect x="758.5" y="133.5" width="2" height="2" fill="#e8433b" fill-opacity="0.35"/><rect x="1202.9" y="288.2" width="2" height="2" fill="#5dc14a" fill-opacity="0.35"/><rect x="1643.9" y="250.7" width="2.5" height="2.5" fill="#e8433b" fill-opacity="0.5"/><rect x="1543.6" y="270.6" width="2" height="2" fill="#d07f2a" fill-opacity="0.7"/><rect x="1336.7" y="211.4" width="2.5" height="2.5" fill="#5dc14a" fill-opacity="0.35"/><rect x="867.6" y="120.5" width="2" height="2" fill="#5dc14a" fill-opacity="0.5"/><rect x="1701.0" y="159.3" width="2" height="2" fill="#d07f2a" fill-opacity="0.7"/><rect x="1169.3" y="156.8" width="2.5" height="2.5" fill="#5dc14a" fill-opacity="0.35"/><rect x="922.2" y="293.6" width="1.5" height="1.5" fill="#d07f2a" fill-opacity="0.9"/><rect x="1761.1" y="117.7" width="2.5" height="2.5" fill="#b07a8a" fill-opacity="0.5"/><rect x="1129.9" y="102.9" width="1.5" height="1.5" fill="#e8433b" fill-opacity="0.9"/><rect x="1064.6" y="129.1" width="2" height="2" fill="#5dc14a" fill-opacity="0.5"/><rect x="1788.9" y="213.1" width="1.5" height="1.5" fill="#7a3cf0" fill-opacity="0.9"/><rect x="1776.8" y="148.0" width="2" height="2" fill="#5dc14a" fill-opacity="0.9"/><rect x="713.4" y="256.3" width="2.5" height="2.5" fill="#5dc14a" fill-opacity="0.9"/><rect x="1403.0" y="194.6" width="2" height="2" fill="#d07f2a" fill-opacity="0.5"/><rect x="1623.2" y="141.0" width="2" height="2" fill="#e8433b" fill-opacity="0.35"/><rect x="1581.3" y="136.1" width="2" height="2" fill="#5dc14a" fill-opacity="0.9"/><rect x="1470.2" y="292.0" width="1.5" height="1.5" fill="#5dc14a" fill-opacity="0.5"/><rect x="712.8" y="234.8" width="2" height="2" fill="#e8433b" fill-opacity="0.9"/><rect x="1577.1" y="298.3" width="2" height="2" fill="#7a3cf0" fill-opacity="0.5"/><rect x="719.6" y="134.4" width="1.5" height="1.5" fill="#d07f2a" fill-opacity="0.5"/><rect x="1395.0" y="154.8" width="2" height="2" fill="#e8433b" fill-opacity="0.7"/><rect x="1550.6" y="180.8" width="1.5" height="1.5" fill="#b07a8a" fill-opacity="0.35"/><rect x="1492.2" y="154.1" width="2" height="2" fill="#5dc14a" fill-opacity="0.5"/><rect x="1446.3" y="209.5" width="2" height="2" fill="#5dc14a" fill-opacity="0.7"/><rect x="987.6" y="174.9" width="1.5" height="1.5" fill="#5dc14a" fill-opacity="0.35"/><rect x="1673.5" y="121.0" width="2" height="2" fill="#7a3cf0" fill-opacity="0.35"/><rect x="1066.6" y="291.9" width="2" height="2" fill="#b07a8a" fill-opacity="0.35"/><rect x="1147.4" y="138.4" width="2" height="2" fill="#e8433b" fill-opacity="0.5"/><rect x="1063.6" y="136.4" width="2" height="2" fill="#d07f2a" fill-opacity="0.7"/><rect x="819.9" y="276.3" width="2" height="2" fill="#e8433b" fill-opacity="0.7"/><rect x="773.9" y="180.0" width="2.5" height="2.5" fill="#e8433b" fill-opacity="0.5"/><rect x="1181.8" y="118.1" width="1.5" height="1.5" fill="#5dc14a" fill-opacity="0.7"/><rect x="926.7" y="189.3" width="1.5" height="1.5" fill="#e8433b" fill-opacity="0.5"/><rect x="874.9" y="145.7" width="2" height="2" fill="#5dc14a" fill-opacity="0.7"/><rect x="1490.8" y="225.8" width="1.5" height="1.5" fill="#e8433b" fill-opacity="0.9"/><rect x="1030.7" y="242.3" width="2.5" height="2.5" fill="#7a3cf0" fill-opacity="0.7"/><rect x="984.3" y="309.3" width="2" height="2" fill="#5dc14a" fill-opacity="0.9"/><rect x="1412.5" y="227.1" width="2" height="2" fill="#7a3cf0" fill-opacity="0.35"/><rect x="1061.9" y="187.6" width="2" height="2" fill="#e8433b" fill-opacity="0.35"/><rect x="1200.7" y="235.5" width="2" height="2" fill="#e8433b" fill-opacity="0.7"/><rect x="1046.2" y="143.5" width="2" height="2" fill="#e8433b" fill-opacity="0.5"/><rect x="1161.0" y="116.6" width="2" height="2" fill="#7a3cf0" fill-opacity="0.7"/><rect x="1001.4" y="282.1" width="2" height="2" fill="#e8433b" fill-opacity="0.35"/><rect x="1028.8" y="172.4" width="2" height="2" fill="#5dc14a" fill-opacity="0.35"/><rect x="1075.4" y="127.4" width="2" height="2" fill="#d07f2a" fill-opacity="0.35"/><rect x="1101.1" y="306.5" width="2.5" height="2.5" fill="#7a3cf0" fill-opacity="0.7"/><rect x="1754.6" y="102.4" width="2" height="2" fill="#5dc14a" fill-opacity="0.5"/><rect x="1372.1" y="159.7" width="2" height="2" fill="#7a3cf0" fill-opacity="0.5"/><rect x="1155.5" y="293.4" width="2.5" height="2.5" fill="#5dc14a" fill-opacity="0.5"/><rect x="1497.8" y="229.0" width="1.5" height="1.5" fill="#e8433b" fill-opacity="0.9"/><rect x="1004.3" y="183.6" width="2.5" height="2.5" fill="#5dc14a" fill-opacity="0.5"/><rect x="780.9" y="157.4" width="2.5" height="2.5" fill="#e8433b" fill-opacity="0.5"/><rect x="1375.3" y="232.5" width="2" height="2" fill="#5dc14a" fill-opacity="0.5"/><rect x="1083.4" y="288.8" width="1.5" height="1.5" fill="#5dc14a" fill-opacity="0.35"/><rect x="1531.2" y="131.0" width="2" height="2" fill="#7a3cf0" fill-opacity="0.35"/><rect x="982.2" y="208.3" width="2" height="2" fill="#b07a8a" fill-opacity="0.9"/><rect x="823.6" y="152.6" width="2" height="2" fill="#b07a8a" fill-opacity="0.5"/><rect x="1660.0" y="171.9" width="1.5" height="1.5" fill="#b07a8a" fill-opacity="0.5"/><rect x="1067.6" y="221.7" width="1.5" height="1.5" fill="#e8433b" fill-opacity="0.5"/><rect x="1449.5" y="208.8" width="1.5" height="1.5" fill="#d07f2a" fill-opacity="0.9"/><rect x="998.4" y="241.4" width="2" height="2" fill="#e8433b" fill-opacity="0.5"/><rect x="1214.7" y="199.0" width="2" height="2" fill="#e8433b" fill-opacity="0.7"/><rect x="1311.3" y="239.4" width="2.5" height="2.5" fill="#b07a8a" fill-opacity="0.9"/><rect x="1106.6" y="219.2" width="2" height="2" fill="#e8433b" fill-opacity="0.9"/><rect x="1367.3" y="297.2" width="1.5" height="1.5" fill="#b07a8a" fill-opacity="0.7"/><rect x="994.6" y="162.8" width="2" height="2" fill="#d07f2a" fill-opacity="0.9"/><rect x="1687.0" y="242.6" width="2.5" height="2.5" fill="#e8433b" fill-opacity="0.5"/><rect x="1074.3" y="179.7" width="2" height="2" fill="#d07f2a" fill-opacity="0.5"/><rect x="1135.7" y="248.6" width="2.5" height="2.5" fill="#5dc14a" fill-opacity="0.5"/><rect x="1421.3" y="178.6" width="1.5" height="1.5" fill="#7a3cf0" fill-opacity="0.7"/><rect x="968.1" y="152.8" width="1.5" height="1.5" fill="#5dc14a" fill-opacity="0.5"/><rect x="1521.8" y="104.1" width="2" height="2" fill="#5dc14a" fill-opacity="0.35"/><rect x="1107.7" y="261.8" width="2" height="2" fill="#b07a8a" fill-opacity="0.7"/><rect x="1695.6" y="139.1" width="1.5" height="1.5" fill="#d07f2a" fill-opacity="0.35"/><rect x="1413.5" y="125.1" width="2.5" height="2.5" fill="#e8433b" fill-opacity="0.35"/><rect x="950.9" y="141.3" width="2" height="2" fill="#e8433b" fill-opacity="0.5"/><rect x="1669.2" y="225.9" width="2" height="2" fill="#7a3cf0" fill-opacity="0.7"/><rect x="1013.8" y="207.3" width="1.5" height="1.5" fill="#b07a8a" fill-opacity="0.35"/><rect x="988.8" y="106.1" width="2" height="2" fill="#b07a8a" fill-opacity="0.5"/><rect x="1614.5" y="103.9" width="2" height="2" fill="#e8433b" fill-opacity="0.9"/><rect x="1043.1" y="191.2" width="2.5" height="2.5" fill="#e8433b" fill-opacity="0.9"/><rect x="1423.3" y="131.1" width="2" height="2" fill="#5dc14a" fill-opacity="0.35"/><rect x="1621.1" y="227.4" width="2.5" height="2.5" fill="#5dc14a" fill-opacity="0.9"/><rect x="1694.1" y="233.1" width="2" height="2" fill="#e8433b" fill-opacity="0.9"/><rect x="923.1" y="227.6" width="2" height="2" fill="#5dc14a" fill-opacity="0.7"/><rect x="1165.9" y="248.9" width="1.5" height="1.5" fill="#7a3cf0" fill-opacity="0.5"/><rect x="1188.5" y="199.0" width="2.5" height="2.5" fill="#5dc14a" fill-opacity="0.35"/><rect x="835.9" y="137.8" width="2" height="2" fill="#e8433b" fill-opacity="0.7"/><rect x="1052.3" y="176.4" width="1.5" height="1.5" fill="#e8433b" fill-opacity="0.9"/><rect x="1534.6" y="105.6" width="2" height="2" fill="#7a3cf0" fill-opacity="0.5"/><rect x="1507.9" y="267.8" width="2" height="2" fill="#5dc14a" fill-opacity="0.7"/><rect x="1073.8" y="104.1" width="2" height="2" fill="#e8433b" fill-opacity="0.9"/><rect x="717.6" y="298.2" width="2" height="2" fill="#7a3cf0" fill-opacity="0.7"/><rect x="1405.5" y="186.5" width="1.5" height="1.5" fill="#d07f2a" fill-opacity="0.7"/><rect x="1370.7" y="157.5" width="2" height="2" fill="#e8433b" fill-opacity="0.35"/><rect x="1367.5" y="153.2" width="2.5" height="2.5" fill="#e8433b" fill-opacity="0.5"/><rect x="939.0" y="308.0" width="2" height="2" fill="#7a3cf0" fill-opacity="0.5"/><rect x="1499.6" y="155.8" width="2" height="2" fill="#5dc14a" fill-opacity="0.5"/><rect x="1049.9" y="235.7" width="2" height="2" fill="#b07a8a" fill-opacity="0.9"/><rect x="783.5" y="157.4" width="2" height="2" fill="#5dc14a" fill-opacity="0.7"/><rect x="868.9" y="279.9" width="1.5" height="1.5" fill="#e8433b" fill-opacity="0.35"/><rect x="973.0" y="284.2" width="2.5" height="2.5" fill="#7a3cf0" fill-opacity="0.5"/><rect x="713.0" y="165.6" width="1.5" height="1.5" fill="#d07f2a" fill-opacity="0.35"/><rect x="1760.7" y="207.9" width="2" height="2" fill="#e8433b" fill-opacity="0.9"/><rect x="1166.8" y="150.3" width="2" height="2" fill="#e8433b" fill-opacity="0.35"/><rect x="914.4" y="135.4" width="1.5" height="1.5" fill="#b07a8a" fill-opacity="0.9"/><rect x="1093.3" y="154.4" width="2" height="2" fill="#7a3cf0" fill-opacity="0.35"/><rect x="1057.6" y="279.1" width="2" height="2" fill="#b07a8a" fill-opacity="0.7"/><rect x="1589.2" y="262.5" width="2" height="2" fill="#5dc14a" fill-opacity="0.9"/><rect x="1426.2" y="295.1" width="2" height="2" fill="#e8433b" fill-opacity="0.35"/><rect x="930.1" y="239.4" width="1.5" height="1.5" fill="#5dc14a" fill-opacity="0.5"/><rect x="1048.7" y="181.2" width="2" height="2" fill="#5dc14a" fill-opacity="0.35"/><rect x="870.2" y="170.1" width="2.5" height="2.5" fill="#e8433b" fill-opacity="0.7"/><rect x="1473.3" y="259.9" width="2" height="2" fill="#b07a8a" fill-opacity="0.5"/><rect x="1760.0" y="194.7" width="2" height="2" fill="#7a3cf0" fill-opacity="0.7"/><rect x="1721.9" y="213.2" width="2.5" height="2.5" fill="#b07a8a" fill-opacity="0.7"/><rect x="1157.6" y="210.2" width="1.5" height="1.5" fill="#d07f2a" fill-opacity="0.5"/><rect x="1448.9" y="184.5" width="2" height="2" fill="#5dc14a" fill-opacity="0.35"/><rect x="1482.2" y="220.5" width="2" height="2" fill="#b07a8a" fill-opacity="0.7"/><rect x="1676.3" y="233.4" width="2" height="2" fill="#e8433b" fill-opacity="0.7"/><rect x="1670.2" y="250.6" width="2" height="2" fill="#7a3cf0" fill-opacity="0.35"/><rect x="1023.4" y="283.9" width="1.5" height="1.5" fill="#5dc14a" fill-opacity="0.5"/><rect x="783.4" y="196.5" width="2" height="2" fill="#d07f2a" fill-opacity="0.7"/><rect x="1186.1" y="125.1" width="2" height="2" fill="#5dc14a" fill-opacity="0.9"/><rect x="984.8" y="182.1" width="1.5" height="1.5" fill="#7a3cf0" fill-opacity="0.9"/><rect x="878.2" y="274.2" width="2.5" height="2.5" fill="#d07f2a" fill-opacity="0.7"/><rect x="1130.1" y="222.6" width="2.5" height="2.5" fill="#7a3cf0" fill-opacity="0.9"/><rect x="986.2" y="126.1" width="1.5" height="1.5" fill="#5dc14a" fill-opacity="0.5"/><rect x="1033.8" y="212.1" width="2" height="2" fill="#d07f2a" fill-opacity="0.9"/><rect x="1226.5" y="294.5" width="1.5" height="1.5" fill="#7a3cf0" fill-opacity="0.9"/><rect x="1581.0" y="267.9" width="1.5" height="1.5" fill="#7a3cf0" fill-opacity="0.5"/><rect x="1054.7" y="241.9" width="2.5" height="2.5" fill="#d07f2a" fill-opacity="0.7"/><rect x="1671.8" y="260.7" width="1.5" height="1.5" fill="#5dc14a" fill-opacity="0.7"/><rect x="728.6" y="276.2" width="2" height="2" fill="#e8433b" fill-opacity="0.5"/><rect x="705.2" y="142.6" width="2.5" height="2.5" fill="#5dc14a" fill-opacity="0.5"/><rect x="1680.0" y="148.4" width="2" height="2" fill="#b07a8a" fill-opacity="0.35"/><rect x="1770.7" y="240.6" width="2" height="2" fill="#d07f2a" fill-opacity="0.7"/><rect x="1092.4" y="108.7" width="1.5" height="1.5" fill="#e8433b" fill-opacity="0.7"/><rect x="837.1" y="270.5" width="1.5" height="1.5" fill="#e8433b" fill-opacity="0.9"/><rect x="1389.4" y="274.7" width="2" height="2" fill="#5dc14a" fill-opacity="0.9"/><rect x="1197.6" y="270.2" width="2" height="2" fill="#e8433b" fill-opacity="0.5"/><rect x="1099.7" y="145.1" width="2" height="2" fill="#e8433b" fill-opacity="0.5"/><rect x="1602.4" y="149.7" width="1.5" height="1.5" fill="#d07f2a" fill-opacity="0.5"/><rect x="1073.0" y="139.6" width="2" height="2" fill="#5dc14a" fill-opacity="0.35"/><rect x="982.1" y="174.6" width="2" height="2" fill="#5dc14a" fill-opacity="0.35"/><rect x="796.3" y="202.5" width="2" height="2" fill="#e8433b" fill-opacity="0.5"/><rect x="1804.6" y="98.6" width="2" height="2" fill="#e8433b" fill-opacity="0.5"/><rect x="908.1" y="262.8" width="1.5" height="1.5" fill="#d07f2a" fill-opacity="0.5"/><rect x="1155.9" y="272.7" width="2" height="2" fill="#5dc14a" fill-opacity="0.5"/><rect x="1677.8" y="206.7" width="2" height="2" fill="#7a3cf0" fill-opacity="0.7"/><rect x="995.2" y="176.1" width="2" height="2" fill="#e8433b" fill-opacity="0.35"/><rect x="1721.4" y="111.0" width="2" height="2" fill="#5dc14a" fill-opacity="0.5"/><rect x="1504.7" y="233.5" width="1.5" height="1.5" fill="#5dc14a" fill-opacity="0.7"/><rect x="1747.7" y="242.9" width="2" height="2" fill="#5dc14a" fill-opacity="0.35"/><rect x="1690.7" y="234.6" width="1.5" height="1.5" fill="#e8433b" fill-opacity="0.5"/><rect x="1204.6" y="282.9" width="2" height="2" fill="#d07f2a" fill-opacity="0.7"/><rect x="1624.6" y="183.0" width="2" height="2" fill="#b07a8a" fill-opacity="0.7"/><rect x="948.5" y="260.7" width="2" height="2" fill="#5dc14a" fill-opacity="0.35"/><rect x="1289.6" y="219.5" width="2" height="2" fill="#7a3cf0" fill-opacity="0.5"/><rect x="1742.4" y="235.6" width="2.5" height="2.5" fill="#5dc14a" fill-opacity="0.7"/><rect x="834.8" y="275.0" width="2.5" height="2.5" fill="#7a3cf0" fill-opacity="0.7"/><rect x="846.8" y="282.2" width="1.5" height="1.5" fill="#b07a8a" fill-opacity="0.5"/><rect x="1617.8" y="253.4" width="2.5" height="2.5" fill="#e8433b" fill-opacity="0.9"/><rect x="1297.7" y="105.1" width="2.5" height="2.5" fill="#5dc14a" fill-opacity="0.9"/><rect x="1470.1" y="184.7" width="2" height="2" fill="#5dc14a" fill-opacity="0.35"/><rect x="1235.1" y="105.3" width="1.5" height="1.5" fill="#b07a8a" fill-opacity="0.5"/><rect x="760.9" y="280.4" width="2" height="2" fill="#e8433b" fill-opacity="0.35"/><rect x="1556.0" y="259.1" width="2" height="2" fill="#e8433b" fill-opacity="0.9"/><rect x="1465.2" y="174.9" width="2" height="2" fill="#e8433b" fill-opacity="0.35"/><rect x="823.9" y="142.7" width="1.5" height="1.5" fill="#e8433b" fill-opacity="0.5"/><rect x="1293.7" y="191.5" width="1.5" height="1.5" fill="#5dc14a" fill-opacity="0.9"/><rect x="1067.4" y="130.8" width="1.5" height="1.5" fill="#5dc14a" fill-opacity="0.7"/><rect x="1226.3" y="125.2" width="2.5" height="2.5" fill="#7a3cf0" fill-opacity="0.35"/><rect x="1129.3" y="156.6" width="2.5" height="2.5" fill="#e8433b" fill-opacity="0.35"/><rect x="1768.1" y="207.0" width="2" height="2" fill="#e8433b" fill-opacity="0.9"/><rect x="1120.8" y="239.6" width="1.5" height="1.5" fill="#d07f2a" fill-opacity="0.5"/><rect x="1251.4" y="244.2" width="1.5" height="1.5" fill="#5dc14a" fill-opacity="0.9"/><rect x="809.4" y="117.9" width="2" height="2" fill="#5dc14a" fill-opacity="0.9"/><rect x="1754.4" y="208.5" width="2" height="2" fill="#7a3cf0" fill-opacity="0.9"/><rect x="1011.3" y="130.8" width="2.5" height="2.5" fill="#5dc14a" fill-opacity="0.5"/><rect x="1069.0" y="277.6" width="2.5" height="2.5" fill="#e8433b" fill-opacity="0.5"/><rect x="1463.1" y="196.0" width="2" height="2" fill="#5dc14a" fill-opacity="0.9"/><rect x="1603.5" y="253.9" width="1.5" height="1.5" fill="#d07f2a" fill-opacity="0.35"/><rect x="979.2" y="115.6" width="2.5" height="2.5" fill="#e8433b" fill-opacity="0.5"/><rect x="953.1" y="194.5" width="2.5" height="2.5" fill="#e8433b" fill-opacity="0.7"/><rect x="1396.7" y="246.1" width="2.5" height="2.5" fill="#5dc14a" fill-opacity="0.5"/><rect x="734.5" y="155.9" width="2" height="2" fill="#7a3cf0" fill-opacity="0.7"/><rect x="931.0" y="165.3" width="2" height="2" fill="#7a3cf0" fill-opacity="0.35"/><rect x="1200.4" y="195.4" width="2.5" height="2.5" fill="#7a3cf0" fill-opacity="0.7"/><rect x="1646.7" y="215.9" width="2" height="2" fill="#e8433b" fill-opacity="0.5"/><rect x="1685.3" y="155.9" width="2" height="2" fill="#5dc14a" fill-opacity="0.9"/><rect x="1113.7" y="135.7" width="2.5" height="2.5" fill="#d07f2a" fill-opacity="0.9"/><rect x="1476.1" y="235.0" width="2" height="2" fill="#e8433b" fill-opacity="0.7"/><rect x="1312.7" y="241.6" width="2" height="2" fill="#d07f2a" fill-opacity="0.35"/><rect x="1432.5" y="225.2" width="2" height="2" fill="#b07a8a" fill-opacity="0.9"/><rect x="1094.5" y="283.0" width="2" height="2" fill="#7a3cf0" fill-opacity="0.35"/><rect x="1326.1" y="294.8" width="2" height="2" fill="#5dc14a" fill-opacity="0.9"/><rect x="900.6" y="200.7" width="2.5" height="2.5" fill="#e8433b" fill-opacity="0.5"/><rect x="1557.1" y="277.4" width="2" height="2" fill="#e8433b" fill-opacity="0.9"/><rect x="1181.7" y="190.2" width="2.5" height="2.5" fill="#7a3cf0" fill-opacity="0.7"/><rect x="1723.0" y="118.9" width="1.5" height="1.5" fill="#5dc14a" fill-opacity="0.7"/><rect x="964.2" y="255.2" width="2" height="2" fill="#5dc14a" fill-opacity="0.7"/><rect x="869.3" y="214.6" width="2" height="2" fill="#b07a8a" fill-opacity="0.7"/><rect x="1669.4" y="254.6" width="2" height="2" fill="#7a3cf0" fill-opacity="0.9"/><rect x="1522.3" y="247.0" width="2.5" height="2.5" fill="#b07a8a" fill-opacity="0.9"/><rect x="1447.5" y="122.1" width="2" height="2" fill="#e8433b" fill-opacity="0.9"/><rect x="785.6" y="158.9" width="1.5" height="1.5" fill="#5dc14a" fill-opacity="0.7"/><rect x="1554.7" y="216.5" width="2.5" height="2.5" fill="#5dc14a" fill-opacity="0.5"/><rect x="1738.1" y="130.0" width="2" height="2" fill="#5dc14a" fill-opacity="0.9"/><rect x="1600.0" y="209.9" width="2" height="2" fill="#e8433b" fill-opacity="0.7"/><rect x="743.7" y="125.4" width="2" height="2" fill="#7a3cf0" fill-opacity="0.5"/><rect x="1691.4" y="122.0" width="1.5" height="1.5" fill="#5dc14a" fill-opacity="0.9"/><rect x="1412.7" y="194.2" width="1.5" height="1.5" fill="#b07a8a" fill-opacity="0.9"/><rect x="1301.8" y="172.8" width="2.5" height="2.5" fill="#e8433b" fill-opacity="0.7"/><rect x="1032.0" y="109.3" width="2" height="2" fill="#e8433b" fill-opacity="0.9"/><rect x="1724.3" y="240.0" width="1.5" height="1.5" fill="#5dc14a" fill-opacity="0.7"/><rect x="907.1" y="227.2" width="2" height="2" fill="#e8433b" fill-opacity="0.35"/><rect x="1021.6" y="160.3" width="1.5" height="1.5" fill="#7a3cf0" fill-opacity="0.7"/><rect x="717.1" y="222.0" width="1.5" height="1.5" fill="#5dc14a" fill-opacity="0.35"/><rect x="925.5" y="185.6" width="2.5" height="2.5" fill="#e8433b" fill-opacity="0.5"/><rect x="1241.0" y="189.7" width="2.5" height="2.5" fill="#e8433b" fill-opacity="0.7"/><rect x="1159.4" y="276.4" width="2.5" height="2.5" fill="#e8433b" fill-opacity="0.35"/><rect x="897.4" y="162.9" width="1.5" height="1.5" fill="#d07f2a" fill-opacity="0.9"/><rect x="1334.7" y="182.7" width="1.5" height="1.5" fill="#d07f2a" fill-opacity="0.7"/><rect x="818.2" y="117.4" width="2.5" height="2.5" fill="#5dc14a" fill-opacity="0.35"/><rect x="999.4" y="244.1" width="2" height="2" fill="#b07a8a" fill-opacity="0.5"/><rect x="786.0" y="216.4" width="2" height="2" fill="#d07f2a" fill-opacity="0.7"/><rect x="1596.4" y="217.3" width="1.5" height="1.5" fill="#b07a8a" fill-opacity="0.35"/><rect x="1036.5" y="141.0" width="2" height="2" fill="#d07f2a" fill-opacity="0.35"/><rect x="945.0" y="244.5" width="1.5" height="1.5" fill="#e8433b" fill-opacity="0.7"/><rect x="1699.2" y="200.3" width="2.5" height="2.5" fill="#e8433b" fill-opacity="0.5"/><rect x="882.7" y="304.7" width="1.5" height="1.5" fill="#5dc14a" fill-opacity="0.9"/><rect x="1115.3" y="290.1" width="1.5" height="1.5" fill="#e8433b" fill-opacity="0.5"/><rect x="854.3" y="187.2" width="2.5" height="2.5" fill="#5dc14a" fill-opacity="0.9"/><rect x="772.9" y="149.2" width="2" height="2" fill="#d07f2a" fill-opacity="0.9"/><rect x="1032.0" y="111.6" width="2" height="2" fill="#d07f2a" fill-opacity="0.5"/><rect x="1136.7" y="212.5" width="2.5" height="2.5" fill="#b07a8a" fill-opacity="0.35"/><rect x="1654.5" y="228.7" width="1.5" height="1.5" fill="#e8433b" fill-opacity="0.35"/><rect x="1176.2" y="130.1" width="2" height="2" fill="#5dc14a" fill-opacity="0.7"/><rect x="1376.8" y="275.4" width="2" height="2" fill="#7a3cf0" fill-opacity="0.35"/><rect x="897.6" y="100.0" width="1.5" height="1.5" fill="#e8433b" fill-opacity="0.5"/><rect x="1733.7" y="195.1" width="2.5" height="2.5" fill="#e8433b" fill-opacity="0.5"/><rect x="1472.4" y="247.8" width="2" height="2" fill="#b07a8a" fill-opacity="0.7"/><rect x="1042.9" y="169.5" width="1.5" height="1.5" fill="#e8433b" fill-opacity="0.5"/><rect x="983.2" y="164.7" width="2" height="2" fill="#e8433b" fill-opacity="0.7"/><rect x="842.2" y="225.4" width="1.5" height="1.5" fill="#b07a8a" fill-opacity="0.35"/><rect x="1719.0" y="227.5" width="2" height="2" fill="#d07f2a" fill-opacity="0.9"/><rect x="878.2" y="201.0" width="1.5" height="1.5" fill="#e8433b" fill-opacity="0.9"/><rect x="1321.8" y="185.9" width="2" height="2" fill="#e8433b" fill-opacity="0.35"/><rect x="1398.0" y="153.0" width="2" height="2" fill="#e8433b" fill-opacity="0.7"/><rect x="1534.1" y="158.3" width="2" height="2" fill="#e8433b" fill-opacity="0.5"/><rect x="851.2" y="239.9" width="1.5" height="1.5" fill="#d07f2a" fill-opacity="0.35"/><rect x="901.1" y="236.3" width="2" height="2" fill="#7a3cf0" fill-opacity="0.5"/><rect x="1643.5" y="211.4" width="1.5" height="1.5" fill="#7a3cf0" fill-opacity="0.9"/><rect x="1110.5" y="125.6" width="2.5" height="2.5" fill="#b07a8a" fill-opacity="0.9"/><rect x="1197.8" y="127.2" width="2" height="2" fill="#d07f2a" fill-opacity="0.5"/><rect x="1324.3" y="195.3" width="2" height="2" fill="#e8433b" fill-opacity="0.9"/><rect x="1008.0" y="110.5" width="1.5" height="1.5" fill="#b07a8a" fill-opacity="0.5"/><rect x="1380.7" y="166.3" width="2" height="2" fill="#7a3cf0" fill-opacity="0.5"/><rect x="1276.8" y="167.6" width="2" height="2" fill="#b07a8a" fill-opacity="0.9"/><rect x="1479.2" y="137.7" width="1.5" height="1.5" fill="#7a3cf0" fill-opacity="0.35"/><rect x="1804.7" y="112.8" width="2" height="2" fill="#e8433b" fill-opacity="0.35"/><rect x="1231.3" y="170.2" width="2.5" height="2.5" fill="#5dc14a" fill-opacity="0.35"/><rect x="1527.6" y="100.2" width="1.5" height="1.5" fill="#d07f2a" fill-opacity="0.5"/><rect x="1280.2" y="113.9" width="1.5" height="1.5" fill="#b07a8a" fill-opacity="0.5"/><rect x="1337.0" y="283.0" width="2" height="2" fill="#5dc14a" fill-opacity="0.35"/><rect x="1242.9" y="141.7" width="2" height="2" fill="#7a3cf0" fill-opacity="0.35"/><rect x="1621.0" y="254.8" width="2" height="2" fill="#5dc14a" fill-opacity="0.5"/><rect x="1258.8" y="120.0" width="2" height="2" fill="#e8433b" fill-opacity="0.5"/><rect x="1477.7" y="265.4" width="2" height="2" fill="#d07f2a" fill-opacity="0.35"/><rect x="1570.5" y="114.0" width="2.5" height="2.5" fill="#5dc14a" fill-opacity="0.5"/><rect x="1747.2" y="245.8" width="2" height="2" fill="#5dc14a" fill-opacity="0.7"/><rect x="1539.8" y="188.4" width="2" height="2" fill="#7a3cf0" fill-opacity="0.9"/><rect x="721.0" y="238.0" width="1.5" height="1.5" fill="#7a3cf0" fill-opacity="0.9"/><rect x="733.8" y="293.1" width="2" height="2" fill="#5dc14a" fill-opacity="0.9"/><rect x="1746.5" y="176.8" width="2" height="2" fill="#d07f2a" fill-opacity="0.35"/><rect x="772.8" y="258.4" width="2.5" height="2.5" fill="#d07f2a" fill-opacity="0.7"/><rect x="833.7" y="160.4" width="2.5" height="2.5" fill="#d07f2a" fill-opacity="0.35"/><rect x="1405.8" y="289.8" width="1.5" height="1.5" fill="#7a3cf0" fill-opacity="0.5"/><rect x="1491.0" y="110.9" width="2" height="2" fill="#e8433b" fill-opacity="0.5"/><rect x="1775.3" y="180.0" width="2" height="2" fill="#e8433b" fill-opacity="0.9"/><rect x="1390.7" y="305.1" width="2" height="2" fill="#d07f2a" fill-opacity="0.9"/><rect x="1237.0" y="179.6" width="2" height="2" fill="#d07f2a" fill-opacity="0.35"/><rect x="1306.7" y="271.8" width="2" height="2" fill="#5dc14a" fill-opacity="0.5"/><rect x="1005.9" y="228.0" width="2.5" height="2.5" fill="#5dc14a" fill-opacity="0.7"/><rect x="1078.3" y="113.7" width="2" height="2" fill="#5dc14a" fill-opacity="0.35"/><rect x="698.4" y="105.8" width="2.5" height="2.5" fill="#5dc14a" fill-opacity="0.5"/><rect x="730.0" y="242.5" width="2.5" height="2.5" fill="#e8433b" fill-opacity="0.35"/><rect x="774.0" y="162.9" width="1.5" height="1.5" fill="#5dc14a" fill-opacity="0.35"/><rect x="712.1" y="142.4" width="1.5" height="1.5" fill="#5dc14a" fill-opacity="0.5"/><rect x="1272.3" y="164.1" width="2" height="2" fill="#e8433b" fill-opacity="0.9"/><rect x="1388.5" y="167.7" width="2.5" height="2.5" fill="#5dc14a" fill-opacity="0.35"/><rect x="819.4" y="307.3" width="2.5" height="2.5" fill="#5dc14a" fill-opacity="0.35"/><rect x="1051.4" y="153.6" width="2" height="2" fill="#b07a8a" fill-opacity="0.9"/><rect x="1417.4" y="161.3" width="2" height="2" fill="#e8433b" fill-opacity="0.9"/><rect x="1574.2" y="203.3" width="2" height="2" fill="#e8433b" fill-opacity="0.7"/><rect x="715.3" y="296.6" width="2" height="2" fill="#d07f2a" fill-opacity="0.5"/><rect x="1512.0" y="158.7" width="2" height="2" fill="#e8433b" fill-opacity="0.35"/><rect x="1458.9" y="277.1" width="2.5" height="2.5" fill="#b07a8a" fill-opacity="0.5"/><rect x="759.6" y="261.3" width="1.5" height="1.5" fill="#7a3cf0" fill-opacity="0.5"/><rect x="1230.3" y="218.4" width="2" height="2" fill="#5dc14a" fill-opacity="0.9"/><rect x="1728.2" y="105.8" width="2" height="2" fill="#5dc14a" fill-opacity="0.7"/><rect x="920.1" y="122.7" width="2" height="2" fill="#7a3cf0" fill-opacity="0.5"/><rect x="1479.4" y="277.2" width="2" height="2" fill="#e8433b" fill-opacity="0.7"/><rect x="1118.7" y="255.3" width="2.5" height="2.5" fill="#e8433b" fill-opacity="0.7"/><rect x="1814.8" y="172.7" width="2" height="2" fill="#e8433b" fill-opacity="0.5"/><rect x="1093.3" y="186.5" width="1.5" height="1.5" fill="#e8433b" fill-opacity="0.35"/><rect x="1177.0" y="304.9" width="2.5" height="2.5" fill="#e8433b" fill-opacity="0.35"/><rect x="1327.6" y="282.9" width="2.5" height="2.5" fill="#7a3cf0" fill-opacity="0.35"/><rect x="1778.4" y="236.0" width="1.5" height="1.5" fill="#5dc14a" fill-opacity="0.35"/><rect x="1546.2" y="273.1" width="2" height="2" fill="#b07a8a" fill-opacity="0.7"/><rect x="1369.4" y="190.8" width="2" height="2" fill="#e8433b" fill-opacity="0.9"/><rect x="1092.5" y="176.0" width="2" height="2" fill="#e8433b" fill-opacity="0.7"/><rect x="1463.8" y="177.7" width="1.5" height="1.5" fill="#5dc14a" fill-opacity="0.9"/><rect x="1254.8" y="153.2" width="1.5" height="1.5" fill="#d07f2a" fill-opacity="0.9"/><rect x="1515.6" y="148.1" width="2" height="2" fill="#d07f2a" fill-opacity="0.5"/><rect x="1268.9" y="266.4" width="2.5" height="2.5" fill="#d07f2a" fill-opacity="0.5"/><rect x="1063.6" y="222.1" width="1.5" height="1.5" fill="#d07f2a" fill-opacity="0.35"/><rect x="788.4" y="139.3" width="1.5" height="1.5" fill="#e8433b" fill-opacity="0.35"/><rect x="1471.3" y="143.9" width="2" height="2" fill="#b07a8a" fill-opacity="0.9"/><rect x="1110.1" y="186.3" width="2.5" height="2.5" fill="#d07f2a" fill-opacity="0.9"/><rect x="907.3" y="256.3" width="1.5" height="1.5" fill="#7a3cf0" fill-opacity="0.9"/><rect x="807.0" y="119.5" width="1.5" height="1.5" fill="#e8433b" fill-opacity="0.5"/><rect x="1792.1" y="255.4" width="2.5" height="2.5" fill="#e8433b" fill-opacity="0.5"/><rect x="854.1" y="149.5" width="2.5" height="2.5" fill="#b07a8a" fill-opacity="0.35"/><rect x="1237.7" y="149.2" width="2" height="2" fill="#e8433b" fill-opacity="0.35"/><rect x="1265.1" y="137.6" width="2" height="2" fill="#e8433b" fill-opacity="0.5"/><rect x="1640.9" y="424.3" width="2" height="18.0" fill="#fff" fill-opacity="0.75"/><rect x="1789.4" y="373.8" width="2" height="3.0" fill="#fff" fill-opacity="0.55"/><rect x="1615.2" y="455.5" width="1.5" height="18.0" fill="#fff" fill-opacity="0.75"/><rect x="1568.1" y="433.3" width="1.2" height="4.0" fill="#fff" fill-opacity="0.75"/><rect x="949.9" y="412.3" width="1.5" height="26.0" fill="#fff" fill-opacity="0.75"/><rect x="1773.2" y="404.6" width="1.5" height="3.0" fill="#fff" fill-opacity="0.75"/><rect x="914.9" y="465.2" width="1.2" height="5.0" fill="#fff" fill-opacity="0.4"/><rect x="1250.1" y="446.6" width="2" height="18.0" fill="#fff" fill-opacity="0.4"/><rect x="1414.1" y="463.0" width="1.2" height="13.0" fill="#fff" fill-opacity="0.75"/><rect x="1603.9" y="469.0" width="1.5" height="3.0" fill="#fff" fill-opacity="0.9"/><rect x="1246.7" y="452.6" width="2" height="4.0" fill="#fff" fill-opacity="0.4"/><rect x="1211.7" y="462.1" width="1.2" height="5.0" fill="#fff" fill-opacity="0.9"/><rect x="975.1" y="370.5" width="2" height="18.0" fill="#fff" fill-opacity="0.9"/><rect x="1788.4" y="429.1" width="2" height="4.0" fill="#fff" fill-opacity="0.55"/><rect x="1270.0" y="453.4" width="1.2" height="2.0" fill="#fff" fill-opacity="0.9"/><rect x="1102.8" y="461.2" width="2" height="8.0" fill="#fff" fill-opacity="0.75"/><rect x="1035.6" y="456.0" width="1.2" height="12.0" fill="#fff" fill-opacity="0.4"/><rect x="1341.2" y="437.2" width="2" height="3.0" fill="#fff" fill-opacity="0.4"/><rect x="1595.0" y="418.8" width="1.2" height="18.0" fill="#fff" fill-opacity="0.9"/><rect x="1094.8" y="413.0" width="2" height="8.0" fill="#fff" fill-opacity="0.4"/><rect x="656.3" y="465.1" width="1.2" height="2.0" fill="#fff" fill-opacity="0.9"/><rect x="1515.6" y="459.5" width="2" height="3.0" fill="#fff" fill-opacity="0.9"/><rect x="1675.5" y="426.0" width="2" height="12.0" fill="#fff" fill-opacity="0.75"/><rect x="1668.2" y="469.6" width="1.2" height="3.0" fill="#fff" fill-opacity="0.4"/><rect x="1087.0" y="473.3" width="1.5" height="2.7" fill="#fff" fill-opacity="0.75"/><rect x="1721.4" y="470.3" width="2" height="5.7" fill="#fff" fill-opacity="0.75"/><rect x="868.0" y="388.0" width="1.2" height="6.0" fill="#fff" fill-opacity="0.75"/><rect x="1832.1" y="443.6" width="1.2" height="3.0" fill="#fff" fill-opacity="0.4"/><rect x="928.1" y="471.4" width="2" height="4.0" fill="#fff" fill-opacity="0.4"/><rect x="1780.3" y="460.1" width="2" height="6.0" fill="#fff" fill-opacity="0.75"/><rect x="1438.5" y="439.0" width="2" height="5.0" fill="#fff" fill-opacity="0.9"/><rect x="848.9" y="419.2" width="1.2" height="8.0" fill="#fff" fill-opacity="0.75"/><rect x="1831.6" y="444.0" width="2" height="26.0" fill="#fff" fill-opacity="0.9"/><rect x="890.0" y="465.1" width="1.2" height="6.0" fill="#fff" fill-opacity="0.55"/><rect x="1504.6" y="453.6" width="1.2" height="3.0" fill="#fff" fill-opacity="0.4"/><rect x="1541.9" y="425.2" width="2" height="4.0" fill="#fff" fill-opacity="0.75"/><rect x="1036.9" y="394.6" width="1.5" height="4.0" fill="#fff" fill-opacity="0.4"/><rect x="1100.1" y="408.6" width="2" height="18.0" fill="#fff" fill-opacity="0.75"/><rect x="1134.9" y="457.9" width="1.5" height="3.0" fill="#fff" fill-opacity="0.55"/><rect x="1159.8" y="400.3" width="1.2" height="6.0" fill="#fff" fill-opacity="0.9"/><rect x="1772.9" y="402.0" width="2" height="3.0" fill="#fff" fill-opacity="0.4"/><rect x="1090.0" y="473.8" width="1.2" height="2.2" fill="#fff" fill-opacity="0.9"/><rect x="1274.0" y="452.0" width="1.2" height="18.0" fill="#fff" fill-opacity="0.4"/><rect x="1687.8" y="453.7" width="1.5" height="4.0" fill="#fff" fill-opacity="0.4"/><rect x="1318.5" y="443.8" width="1.5" height="12.0" fill="#fff" fill-opacity="0.9"/><rect x="840.2" y="442.9" width="2" height="3.0" fill="#fff" fill-opacity="0.75"/><rect x="1302.1" y="430.1" width="2" height="3.0" fill="#fff" fill-opacity="0.4"/><rect x="961.9" y="393.6" width="1.2" height="18.0" fill="#fff" fill-opacity="0.55"/><rect x="1085.8" y="441.9" width="2" height="26.0" fill="#fff" fill-opacity="0.9"/><rect x="1739.8" y="416.1" width="2" height="12.0" fill="#fff" fill-opacity="0.55"/><rect x="1180.7" y="434.1" width="1.5" height="26.0" fill="#fff" fill-opacity="0.9"/><rect x="1653.1" y="424.3" width="1.2" height="8.0" fill="#fff" fill-opacity="0.55"/><rect x="1122.9" y="418.4" width="2" height="18.0" fill="#fff" fill-opacity="0.55"/><rect x="1024.3" y="423.2" width="2" height="6.0" fill="#fff" fill-opacity="0.4"/><rect x="993.8" y="451.8" width="2" height="3.0" fill="#fff" fill-opacity="0.75"/><rect x="1308.8" y="430.2" width="2" height="3.0" fill="#fff" fill-opacity="0.75"/><rect x="1579.7" y="454.3" width="1.5" height="4.0" fill="#fff" fill-opacity="0.75"/><rect x="1252.8" y="428.1" width="2" height="5.0" fill="#fff" fill-opacity="0.55"/><rect x="1180.3" y="467.9" width="1.5" height="8.1" fill="#fff" fill-opacity="0.4"/><rect x="1472.8" y="454.3" width="2" height="4.0" fill="#fff" fill-opacity="0.4"/><rect x="1069.5" y="412.5" width="1.2" height="2.0" fill="#fff" fill-opacity="0.4"/><rect x="1329.0" y="444.8" width="2" height="3.0" fill="#fff" fill-opacity="0.75"/><rect x="1566.8" y="472.4" width="2" height="3.0" fill="#fff" fill-opacity="0.9"/><rect x="937.3" y="419.6" width="1.2" height="3.0" fill="#fff" fill-opacity="0.4"/><rect x="1249.9" y="431.5" width="2" height="3.0" fill="#fff" fill-opacity="0.55"/><rect x="1412.4" y="429.0" width="1.2" height="4.0" fill="#fff" fill-opacity="0.9"/><rect x="1230.8" y="463.7" width="2" height="2.0" fill="#fff" fill-opacity="0.75"/><rect x="1586.2" y="443.9" width="2" height="12.0" fill="#fff" fill-opacity="0.55"/><rect x="982.1" y="440.3" width="1.5" height="26.0" fill="#fff" fill-opacity="0.9"/><rect x="908.1" y="451.3" width="2" height="24.7" fill="#fff" fill-opacity="0.75"/><rect x="1594.5" y="405.5" width="1.5" height="3.0" fill="#fff" fill-opacity="0.4"/><rect x="1111.1" y="440.9" width="2" height="3.0" fill="#fff" fill-opacity="0.55"/><rect x="1603.7" y="457.8" width="1.5" height="18.0" fill="#fff" fill-opacity="0.4"/><rect x="1503.8" y="469.1" width="1.5" height="6.0" fill="#fff" fill-opacity="0.75"/><rect x="1278.7" y="439.5" width="1.5" height="26.0" fill="#fff" fill-opacity="0.75"/><rect x="1392.0" y="465.4" width="1.2" height="2.0" fill="#fff" fill-opacity="0.9"/><rect x="1381.4" y="459.2" width="1.5" height="3.0" fill="#fff" fill-opacity="0.9"/><rect x="654.7" y="398.9" width="2" height="5.0" fill="#fff" fill-opacity="0.9"/><rect x="1013.5" y="461.9" width="1.5" height="14.1" fill="#fff" fill-opacity="0.9"/><rect x="1584.0" y="418.6" width="2" height="4.0" fill="#fff" fill-opacity="0.4"/><rect x="1033.2" y="473.2" width="2" height="2.8" fill="#fff" fill-opacity="0.4"/><rect x="1446.7" y="413.5" width="2" height="5.0" fill="#fff" fill-opacity="0.4"/><rect x="888.8" y="460.1" width="1.2" height="15.9" fill="#fff" fill-opacity="0.75"/><rect x="873.7" y="437.8" width="2" height="3.0" fill="#fff" fill-opacity="0.9"/><rect x="1331.6" y="441.2" width="1.2" height="8.0" fill="#fff" fill-opacity="0.75"/><rect x="1319.6" y="471.0" width="1.2" height="5.0" fill="#fff" fill-opacity="0.75"/><rect x="935.2" y="450.4" width="2" height="18.0" fill="#fff" fill-opacity="0.55"/><rect x="1178.3" y="475.0" width="1.2" height="1.0" fill="#fff" fill-opacity="0.55"/><rect x="1687.1" y="402.8" width="1.2" height="3.0" fill="#fff" fill-opacity="0.4"/><rect x="1744.7" y="413.7" width="2" height="3.0" fill="#fff" fill-opacity="0.4"/><rect x="1437.1" y="433.1" width="2" height="2.0" fill="#fff" fill-opacity="0.9"/><rect x="1378.3" y="473.3" width="1.2" height="2.7" fill="#fff" fill-opacity="0.75"/><rect x="1474.2" y="470.3" width="2" height="5.0" fill="#fff" fill-opacity="0.55"/><rect x="1746.0" y="412.0" width="2" height="4.0" fill="#fff" fill-opacity="0.9"/><rect x="1249.4" y="463.5" width="1.5" height="5.0" fill="#fff" fill-opacity="0.9"/><rect x="873.9" y="403.3" width="2" height="6.0" fill="#fff" fill-opacity="0.75"/><rect x="1411.4" y="445.6" width="1.2" height="5.0" fill="#fff" fill-opacity="0.75"/><rect x="1499.8" y="453.1" width="2" height="4.0" fill="#fff" fill-opacity="0.55"/><rect x="1692.1" y="376.3" width="2" height="26.0" fill="#fff" fill-opacity="0.9"/><rect x="1662.4" y="410.2" width="1.2" height="26.0" fill="#fff" fill-opacity="0.75"/><rect x="1109.7" y="388.9" width="1.5" height="2.0" fill="#fff" fill-opacity="0.9"/><rect x="1328.9" y="473.3" width="2" height="2.7" fill="#fff" fill-opacity="0.9"/><rect x="1172.2" y="447.0" width="2" height="4.0" fill="#fff" fill-opacity="0.55"/><rect x="1288.2" y="441.2" width="1.5" height="18.0" fill="#fff" fill-opacity="0.4"/><rect x="1020.5" y="451.8" width="2" height="4.0" fill="#fff" fill-opacity="0.75"/><rect x="1459.3" y="396.6" width="2" height="2.0" fill="#fff" fill-opacity="0.75"/><rect x="1265.7" y="456.1" width="2" height="8.0" fill="#fff" fill-opacity="0.4"/><rect x="1554.5" y="469.8" width="1.2" height="4.0" fill="#fff" fill-opacity="0.4"/><rect x="1449.4" y="467.1" width="1.5" height="3.0" fill="#fff" fill-opacity="0.4"/><rect x="1722.5" y="454.6" width="2" height="4.0" fill="#fff" fill-opacity="0.9"/><rect x="1409.3" y="471.9" width="2" height="3.0" fill="#fff" fill-opacity="0.55"/><rect x="1458.8" y="456.6" width="1.5" height="5.0" fill="#fff" fill-opacity="0.4"/><rect x="1767.4" y="442.2" width="2" height="2.0" fill="#fff" fill-opacity="0.75"/><rect x="1735.6" y="471.0" width="2" height="5.0" fill="#fff" fill-opacity="0.9"/><rect x="1683.9" y="465.5" width="2" height="6.0" fill="#fff" fill-opacity="0.4"/><rect x="950.4" y="402.8" width="1.2" height="3.0" fill="#fff" fill-opacity="0.4"/><rect x="1530.7" y="451.7" width="1.2" height="3.0" fill="#fff" fill-opacity="0.75"/><rect x="1778.8" y="448.9" width="2" height="6.0" fill="#fff" fill-opacity="0.9"/><rect x="1488.2" y="440.3" width="1.5" height="26.0" fill="#fff" fill-opacity="0.55"/><rect x="1692.8" y="467.8" width="1.5" height="2.0" fill="#fff" fill-opacity="0.55"/><rect x="894.0" y="412.8" width="2" height="2.0" fill="#fff" fill-opacity="0.4"/><rect x="1402.0" y="372.8" width="1.2" height="18.0" fill="#fff" fill-opacity="0.55"/><rect x="1501.3" y="468.8" width="1.2" height="7.2" fill="#fff" fill-opacity="0.9"/><rect x="1136.3" y="452.5" width="1.2" height="3.0" fill="#fff" fill-opacity="0.75"/><rect x="1417.1" y="447.1" width="2" height="4.0" fill="#fff" fill-opacity="0.4"/><rect x="1041.2" y="444.1" width="1.5" height="3.0" fill="#fff" fill-opacity="0.4"/><rect x="1770.5" y="420.9" width="2" height="26.0" fill="#fff" fill-opacity="0.55"/><rect x="1535.9" y="399.8" width="2" height="3.0" fill="#fff" fill-opacity="0.55"/><rect x="1366.5" y="471.4" width="1.2" height="4.6" fill="#fff" fill-opacity="0.75"/><rect x="1384.7" y="373.0" width="2" height="12.0" fill="#fff" fill-opacity="0.75"/><rect x="892.8" y="451.4" width="1.2" height="5.0" fill="#fff" fill-opacity="0.4"/><rect x="1694.0" y="398.7" width="1.2" height="6.0" fill="#fff" fill-opacity="0.75"/><rect x="904.4" y="463.4" width="1.5" height="12.0" fill="#fff" fill-opacity="0.75"/><rect x="1015.4" y="381.8" width="2" height="4.0" fill="#fff" fill-opacity="0.4"/><rect x="1649.4" y="461.6" width="1.2" height="4.0" fill="#fff" fill-opacity="0.55"/><rect x="838.6" y="432.2" width="2" height="26.0" fill="#fff" fill-opacity="0.75"/><rect x="1389.4" y="433.7" width="1.2" height="5.0" fill="#fff" fill-opacity="0.55"/><rect x="894.0" y="420.7" width="2" height="4.0" fill="#fff" fill-opacity="0.75"/><rect x="1722.2" y="439.9" width="1.5" height="4.0" fill="#fff" fill-opacity="0.4"/><rect x="925.0" y="419.6" width="1.5" height="8.0" fill="#fff" fill-opacity="0.4"/><rect x="1476.1" y="470.3" width="2" height="3.0" fill="#fff" fill-opacity="0.55"/><rect x="1314.3" y="452.3" width="2" height="4.0" fill="#fff" fill-opacity="0.75"/><rect x="1690.1" y="430.1" width="2" height="8.0" fill="#fff" fill-opacity="0.75"/><rect x="882.6" y="435.0" width="2" height="3.0" fill="#fff" fill-opacity="0.9"/><rect x="977.8" y="469.7" width="2" height="6.3" fill="#fff" fill-opacity="0.75"/><rect x="975.5" y="469.3" width="1.2" height="3.0" fill="#fff" fill-opacity="0.4"/><rect x="1739.0" y="467.8" width="1.2" height="3.0" fill="#fff" fill-opacity="0.55"/><rect x="1762.7" y="466.7" width="1.5" height="2.0" fill="#fff" fill-opacity="0.4"/><rect x="1222.0" y="442.2" width="2" height="4.0" fill="#fff" fill-opacity="0.55"/><rect x="1201.7" y="472.4" width="1.5" height="3.6" fill="#fff" fill-opacity="0.9"/><rect x="859.1" y="436.0" width="2" height="2" fill="#7a3cf0" fill-opacity="0.7"/><rect x="1462.5" y="453.2" width="2" height="2" fill="#e8433b" fill-opacity="0.35"/><rect x="1565.2" y="374.8" width="2" height="2" fill="#b07a8a" fill-opacity="0.5"/><rect x="1748.2" y="436.8" width="2" height="2" fill="#b07a8a" fill-opacity="0.7"/><rect x="1023.5" y="427.5" width="2" height="2" fill="#5dc14a" fill-opacity="0.5"/><rect x="1477.9" y="415.0" width="2" height="2" fill="#e8433b" fill-opacity="0.35"/><rect x="1563.7" y="449.6" width="2.5" height="2.5" fill="#d07f2a" fill-opacity="0.5"/><rect x="1594.4" y="417.0" width="2" height="2" fill="#5dc14a" fill-opacity="0.35"/><rect x="1520.1" y="471.5" width="2.5" height="2.5" fill="#e8433b" fill-opacity="0.5"/><rect x="1529.2" y="396.8" width="2" height="2" fill="#5dc14a" fill-opacity="0.7"/><rect x="1406.9" y="385.4" width="2" height="2" fill="#b07a8a" fill-opacity="0.7"/><rect x="958.1" y="462.6" width="1.5" height="1.5" fill="#5dc14a" fill-opacity="0.9"/><rect x="1671.2" y="448.7" width="2" height="2" fill="#e8433b" fill-opacity="0.5"/><rect x="888.0" y="392.1" width="2" height="2" fill="#d07f2a" fill-opacity="0.7"/><rect x="1641.4" y="373.5" width="2" height="2" fill="#5dc14a" fill-opacity="0.35"/><rect x="1822.2" y="369.1" width="2" height="2" fill="#b07a8a" fill-opacity="0.5"/><rect x="1118.4" y="372.8" width="2" height="2" fill="#e8433b" fill-opacity="0.7"/><rect x="855.5" y="419.2" width="1.5" height="1.5" fill="#e8433b" fill-opacity="0.9"/><rect x="957.2" y="383.5" width="2" height="2" fill="#7a3cf0" fill-opacity="0.7"/><rect x="1556.1" y="413.3" width="1.5" height="1.5" fill="#7a3cf0" fill-opacity="0.7"/><rect x="1247.3" y="463.9" width="1.5" height="1.5" fill="#5dc14a" fill-opacity="0.9"/><rect x="1565.8" y="438.5" width="2.5" height="2.5" fill="#7a3cf0" fill-opacity="0.5"/><rect x="855.7" y="399.5" width="1.5" height="1.5" fill="#5dc14a" fill-opacity="0.7"/><rect x="1363.8" y="431.0" width="2" height="2" fill="#b07a8a" fill-opacity="0.35"/><rect x="859.2" y="406.3" width="2" height="2" fill="#5dc14a" fill-opacity="0.7"/><rect x="1401.5" y="378.5" width="2" height="2" fill="#e8433b" fill-opacity="0.35"/><rect x="954.6" y="470.1" width="1.5" height="1.5" fill="#d07f2a" fill-opacity="0.9"/><rect x="1457.3" y="467.8" width="2" height="2" fill="#5dc14a" fill-opacity="0.5"/><rect x="1228.6" y="465.0" width="2" height="2" fill="#e8433b" fill-opacity="0.35"/><rect x="1288.8" y="472.4" width="2" height="2" fill="#e8433b" fill-opacity="0.35"/><rect x="1126.3" y="451.4" width="1.5" height="1.5" fill="#e8433b" fill-opacity="0.5"/><rect x="1411.2" y="456.3" width="1.5" height="1.5" fill="#5dc14a" fill-opacity="0.5"/><rect x="919.7" y="440.0" width="2" height="2" fill="#b07a8a" fill-opacity="0.5"/><rect x="1447.4" y="430.0" width="1.5" height="1.5" fill="#e8433b" fill-opacity="0.35"/><rect x="1048.0" y="414.4" width="1.5" height="1.5" fill="#d07f2a" fill-opacity="0.35"/><rect x="1676.3" y="394.4" width="2.5" height="2.5" fill="#e8433b" fill-opacity="0.7"/><rect x="1486.5" y="377.9" width="2.5" height="2.5" fill="#d07f2a" fill-opacity="0.35"/><rect x="1799.0" y="420.3" width="2" height="2" fill="#e8433b" fill-opacity="0.7"/><rect x="1377.0" y="387.8" width="2.5" height="2.5" fill="#5dc14a" fill-opacity="0.5"/><rect x="1620.6" y="376.0" width="1.5" height="1.5" fill="#5dc14a" fill-opacity="0.5"/><rect x="1244.8" y="433.1" width="2" height="2" fill="#d07f2a" fill-opacity="0.7"/><rect x="1567.8" y="471.5" width="2.5" height="2.5" fill="#7a3cf0" fill-opacity="0.7"/><rect x="1118.3" y="386.3" width="2.5" height="2.5" fill="#7a3cf0" fill-opacity="0.5"/><rect x="1413.0" y="465.6" width="2" height="2" fill="#e8433b" fill-opacity="0.7"/><rect x="1027.8" y="417.6" width="2.5" height="2.5" fill="#b07a8a" fill-opacity="0.9"/><rect x="1056.4" y="377.3" width="2" height="2" fill="#e8433b" fill-opacity="0.9"/><rect x="962.7" y="453.6" width="2.5" height="2.5" fill="#7a3cf0" fill-opacity="0.5"/><rect x="972.0" y="401.9" width="1.5" height="1.5" fill="#e8433b" fill-opacity="0.9"/><rect x="1817.7" y="369.5" width="2" height="2" fill="#d07f2a" fill-opacity="0.9"/><rect x="994.1" y="414.2" width="1.5" height="1.5" fill="#5dc14a" fill-opacity="0.35"/><rect x="1320.6" y="464.3" width="2.5" height="2.5" fill="#b07a8a" fill-opacity="0.5"/><rect x="1635.6" y="448.9" width="2" height="2" fill="#b07a8a" fill-opacity="0.5"/><rect x="1491.5" y="440.6" width="2.5" height="2.5" fill="#5dc14a" fill-opacity="0.7"/><rect x="1111.7" y="430.9" width="2" height="2" fill="#e8433b" fill-opacity="0.5"/><rect x="1769.6" y="445.0" width="2" height="2" fill="#e8433b" fill-opacity="0.7"/><rect x="1290.5" y="437.0" width="2.5" height="2.5" fill="#5dc14a" fill-opacity="0.5"/><rect x="1365.7" y="437.6" width="2" height="2" fill="#e8433b" fill-opacity="0.9"/><rect x="1096.5" y="371.9" width="2" height="2" fill="#5dc14a" fill-opacity="0.35"/><rect x="1619.7" y="445.4" width="2" height="2" fill="#d07f2a" fill-opacity="0.7"/><rect x="1415.5" y="442.3" width="2.5" height="2.5" fill="#5dc14a" fill-opacity="0.9"/><rect x="935.9" y="403.0" width="2" height="2" fill="#e8433b" fill-opacity="0.5"/><rect x="1692.6" y="439.6" width="2.5" height="2.5" fill="#5dc14a" fill-opacity="0.9"/><rect x="1432.6" y="391.9" width="2.5" height="2.5" fill="#e8433b" fill-opacity="0.9"/><rect x="1522.0" y="401.0" width="2" height="2" fill="#7a3cf0" fill-opacity="0.5"/><rect x="1182.4" y="384.9" width="2.5" height="2.5" fill="#e8433b" fill-opacity="0.35"/><rect x="1071.2" y="445.6" width="2.5" height="2.5" fill="#b07a8a" fill-opacity="0.35"/><rect x="1397.2" y="446.1" width="2" height="2" fill="#7a3cf0" fill-opacity="0.5"/><rect x="968.8" y="372.3" width="2" height="2" fill="#e8433b" fill-opacity="0.7"/><rect x="1381.4" y="382.8" width="2.5" height="2.5" fill="#e8433b" fill-opacity="0.35"/><rect x="1394.8" y="379.4" width="2.5" height="2.5" fill="#5dc14a" fill-opacity="0.35"/><rect x="650.3" y="438.3" width="1.5" height="1.5" fill="#5dc14a" fill-opacity="0.35"/><rect x="832.2" y="468.3" width="1.5" height="1.5" fill="#d07f2a" fill-opacity="0.9"/><rect x="1724.0" y="459.4" width="1.5" height="1.5" fill="#5dc14a" fill-opacity="0.9"/><rect x="1271.0" y="441.0" width="2" height="2" fill="#5dc14a" fill-opacity="0.35"/><rect x="1353.3" y="459.6" width="2" height="2" fill="#5dc14a" fill-opacity="0.7"/><rect x="1066.2" y="385.9" width="2.5" height="2.5" fill="#5dc14a" fill-opacity="0.35"/><rect x="1485.9" y="410.9" width="1.5" height="1.5" fill="#5dc14a" fill-opacity="0.9"/><rect x="1009.9" y="434.1" width="1.5" height="1.5" fill="#5dc14a" fill-opacity="0.9"/><rect x="1492.6" y="432.2" width="2" height="2" fill="#e8433b" fill-opacity="0.35"/><rect x="1319.1" y="378.3" width="2" height="2" fill="#7a3cf0" fill-opacity="0.35"/><rect x="973.6" y="445.9" width="2" height="2" fill="#5dc14a" fill-opacity="0.35"/><rect x="1329.6" y="438.7" width="2" height="2" fill="#7a3cf0" fill-opacity="0.9"/><rect x="1329.4" y="449.4" width="2.5" height="2.5" fill="#d07f2a" fill-opacity="0.5"/><rect x="1022.7" y="404.8" width="2" height="2" fill="#7a3cf0" fill-opacity="0.7"/><rect x="1366.4" y="463.6" width="2.5" height="2.5" fill="#e8433b" fill-opacity="0.5"/><rect x="1303.0" y="409.6" width="2" height="2" fill="#e8433b" fill-opacity="0.7"/><rect x="913.3" y="426.7" width="2" height="2" fill="#e8433b" fill-opacity="0.35"/><rect x="1329.2" y="392.4" width="2" height="2" fill="#d07f2a" fill-opacity="0.5"/><rect x="1576.3" y="419.4" width="1.5" height="1.5" fill="#5dc14a" fill-opacity="0.7"/><rect x="1083.3" y="436.9" width="2" height="2" fill="#5dc14a" fill-opacity="0.35"/><rect x="1756.7" y="459.9" width="2" height="2" fill="#d07f2a" fill-opacity="0.35"/><rect x="1026.3" y="466.2" width="2" height="2" fill="#5dc14a" fill-opacity="0.35"/><rect x="1601.7" y="415.7" width="2" height="2" fill="#5dc14a" fill-opacity="0.35"/><rect x="1365.0" y="434.7" width="2" height="2" fill="#5dc14a" fill-opacity="0.5"/><rect x="1573.1" y="468.7" width="2" height="2" fill="#e8433b" fill-opacity="0.9"/><rect x="1046.6" y="437.3" width="2" height="2" fill="#e8433b" fill-opacity="0.9"/><rect x="1388.6" y="381.8" width="2" height="2" fill="#5dc14a" fill-opacity="0.9"/><rect x="1722.6" y="377.6" width="2" height="2" fill="#e8433b" fill-opacity="0.9"/><rect x="1073.6" y="467.9" width="1.5" height="1.5" fill="#7a3cf0" fill-opacity="0.5"/><rect x="1145.5" y="417.1" width="2.5" height="2.5" fill="#d07f2a" fill-opacity="0.7"/><rect x="1261.9" y="459.2" width="2.5" height="2.5" fill="#7a3cf0" fill-opacity="0.9"/><rect x="1540.1" y="470.0" width="2" height="2" fill="#e8433b" fill-opacity="0.7"/><rect x="1441.9" y="426.9" width="1.5" height="1.5" fill="#5dc14a" fill-opacity="0.35"/><rect x="1066.4" y="444.1" width="2.5" height="2.5" fill="#e8433b" fill-opacity="0.35"/><rect x="1599.2" y="383.2" width="2" height="2" fill="#b07a8a" fill-opacity="0.5"/><rect x="1800.1" y="376.7" width="1.5" height="1.5" fill="#5dc14a" fill-opacity="0.5"/><rect x="654.4" y="452.9" width="1.5" height="1.5" fill="#5dc14a" fill-opacity="0.5"/><rect x="1413.0" y="475.5" width="2" height="2" fill="#d07f2a" fill-opacity="0.9"/><rect x="843.2" y="464.1" width="2.5" height="2.5" fill="#e8433b" fill-opacity="0.5"/><rect x="824.6" y="458.2" width="2" height="2" fill="#5dc14a" fill-opacity="0.7"/><rect x="1128.3" y="393.5" width="2" height="2" fill="#e8433b" fill-opacity="0.9"/><rect x="1158.3" y="395.1" width="2" height="2" fill="#e8433b" fill-opacity="0.5"/><rect x="1460.7" y="398.8" width="2" height="2" fill="#7a3cf0" fill-opacity="0.9"/><rect x="1083.3" y="445.8" width="2.5" height="2.5" fill="#5dc14a" fill-opacity="0.35"/><rect x="1383.5" y="439.5" width="2" height="2" fill="#5dc14a" fill-opacity="0.35"/><rect x="1445.4" y="377.1" width="1.5" height="1.5" fill="#5dc14a" fill-opacity="0.7"/><rect x="1270.6" y="438.7" width="1.5" height="1.5" fill="#e8433b" fill-opacity="0.7"/><rect x="1390.3" y="385.8" width="2" height="2" fill="#5dc14a" fill-opacity="0.9"/><rect x="1178.1" y="369.1" width="2" height="2" fill="#e8433b" fill-opacity="0.7"/><rect x="1098.0" y="373.4" width="2.5" height="2.5" fill="#d07f2a" fill-opacity="0.5"/><rect x="1595.7" y="465.3" width="1.5" height="1.5" fill="#e8433b" fill-opacity="0.5"/><rect x="1680.4" y="434.8" width="2" height="2" fill="#5dc14a" fill-opacity="0.5"/><rect x="653.2" y="417.9" width="2.5" height="2.5" fill="#5dc14a" fill-opacity="0.7"/><rect x="825.4" y="413.9" width="2" height="2" fill="#b07a8a" fill-opacity="0.9"/><rect x="1419.1" y="414.6" width="2.5" height="2.5" fill="#b07a8a" fill-opacity="0.35"/><rect x="1306.6" y="472.3" width="2.5" height="2.5" fill="#d07f2a" fill-opacity="0.5"/><rect x="884.9" y="391.4" width="2.5" height="2.5" fill="#b07a8a" fill-opacity="0.9"/><rect x="1573.7" y="404.7" width="2" height="2" fill="#b07a8a" fill-opacity="0.7"/><rect x="1785.5" y="388.8" width="2" height="2" fill="#d07f2a" fill-opacity="0.7"/><rect x="1544.8" y="444.6" width="1.5" height="1.5" fill="#5dc14a" fill-opacity="0.5"/><rect x="1565.8" y="425.0" width="1.5" height="1.5" fill="#5dc14a" fill-opacity="0.5"/><rect x="1814.5" y="412.8" width="2" height="2" fill="#b07a8a" fill-opacity="0.35"/><rect x="1413.0" y="427.4" width="1.5" height="1.5" fill="#d07f2a" fill-opacity="0.7"/><rect x="1637.1" y="467.9" width="2.5" height="2.5" fill="#b07a8a" fill-opacity="0.35"/><rect x="1391.4" y="464.2" width="2" height="2" fill="#7a3cf0" fill-opacity="0.9"/><rect x="1828.9" y="379.0" width="2" height="2" fill="#d07f2a" fill-opacity="0.5"/><rect x="1174.5" y="390.2" width="2" height="2" fill="#5dc14a" fill-opacity="0.5"/><rect x="1194.6" y="402.1" width="2" height="2" fill="#5dc14a" fill-opacity="0.7"/><rect x="1471.3" y="444.4" width="2.5" height="2.5" fill="#e8433b" fill-opacity="0.9"/><rect x="1757.5" y="456.7" width="2" height="2" fill="#e8433b" fill-opacity="0.9"/><rect x="955.3" y="435.0" width="1.5" height="1.5" fill="#5dc14a" fill-opacity="0.5"/><rect x="1123.3" y="440.1" width="2" height="2" fill="#5dc14a" fill-opacity="0.35"/><rect x="1791.1" y="381.8" width="1.5" height="1.5" fill="#d07f2a" fill-opacity="0.35"/><rect x="872.4" y="423.0" width="2" height="2" fill="#d07f2a" fill-opacity="0.5"/><rect x="981.8" y="369.6" width="2" height="2" fill="#7a3cf0" fill-opacity="0.5"/><rect x="1344.8" y="386.6" width="1.5" height="1.5" fill="#7a3cf0" fill-opacity="0.9"/><rect x="1615.0" y="456.0" width="2" height="2" fill="#e8433b" fill-opacity="0.5"/><rect x="1779.8" y="407.3" width="2" height="2" fill="#e8433b" fill-opacity="0.5"/><rect x="1184.7" y="384.7" width="2" height="2" fill="#5dc14a" fill-opacity="0.35"/><rect x="1188.1" y="434.3" width="1.5" height="1.5" fill="#5dc14a" fill-opacity="0.5"/><rect x="1120.7" y="422.7" width="1.5" height="1.5" fill="#e8433b" fill-opacity="0.35"/><rect x="1706.2" y="380.5" width="2" height="2" fill="#e8433b" fill-opacity="0.7"/><rect x="1733.7" y="422.4" width="2" height="2" fill="#5dc14a" fill-opacity="0.35"/><rect x="979.1" y="423.4" width="1.5" height="1.5" fill="#e8433b" fill-opacity="0.35"/><rect x="1117.5" y="414.2" width="1.5" height="1.5" fill="#e8433b" fill-opacity="0.5"/><rect x="1354.9" y="443.5" width="1.5" height="1.5" fill="#e8433b" fill-opacity="0.5"/><rect x="1695.5" y="444.3" width="1.5" height="1.5" fill="#e8433b" fill-opacity="0.35"/><rect x="1452.0" y="399.0" width="1.5" height="1.5" fill="#5dc14a" fill-opacity="0.9"/><rect x="962.3" y="394.1" width="1.5" height="1.5" fill="#b07a8a" fill-opacity="0.7"/><rect x="1172.5" y="419.6" width="2" height="2" fill="#b07a8a" fill-opacity="0.5"/><rect x="1173.9" y="430.6" width="1.5" height="1.5" fill="#b07a8a" fill-opacity="0.5"/><rect x="1004.0" y="396.9" width="2" height="2" fill="#7a3cf0" fill-opacity="0.5"/><rect x="1165.8" y="375.1" width="2" height="2" fill="#5dc14a" fill-opacity="0.9"/><rect x="955.3" y="447.0" width="2" height="2" fill="#b07a8a" fill-opacity="0.7"/><rect x="1498.4" y="431.3" width="1.5" height="1.5" fill="#e8433b" fill-opacity="0.7"/><rect x="1799.4" y="438.2" width="1.5" height="1.5" fill="#5dc14a" fill-opacity="0.7"/><rect x="1576.2" y="372.6" width="2" height="2" fill="#e8433b" fill-opacity="0.7"/><rect x="940.3" y="404.3" width="2" height="2" fill="#5dc14a" fill-opacity="0.7"/><rect x="863.3" y="371.7" width="2" height="2" fill="#e8433b" fill-opacity="0.7"/><rect x="1733.2" y="400.6" width="2" height="2" fill="#5dc14a" fill-opacity="0.35"/><rect x="706.5" y="638.7" width="2" height="3.0" fill="#fff" fill-opacity="0.55"/><rect x="1050.1" y="700.3" width="2" height="4.0" fill="#fff" fill-opacity="0.4"/><rect x="706.7" y="619.3" width="1.2" height="5.0" fill="#fff" fill-opacity="0.75"/><rect x="1661.2" y="682.2" width="2" height="18.0" fill="#fff" fill-opacity="0.4"/><rect x="1119.8" y="701.6" width="2" height="4.0" fill="#fff" fill-opacity="0.75"/><rect x="1202.0" y="586.2" width="1.2" height="18.0" fill="#fff" fill-opacity="0.4"/><rect x="1760.0" y="702.4" width="2" height="5.0" fill="#fff" fill-opacity="0.55"/><rect x="1046.8" y="705.2" width="2" height="18.0" fill="#fff" fill-opacity="0.55"/><rect x="1434.8" y="719.2" width="1.2" height="3.0" fill="#fff" fill-opacity="0.4"/><rect x="1056.3" y="593.7" width="2" height="4.0" fill="#fff" fill-opacity="0.4"/><rect x="1230.8" y="698.9" width="2" height="2.0" fill="#fff" fill-opacity="0.4"/><rect x="1711.6" y="688.9" width="1.2" height="2.0" fill="#fff" fill-opacity="0.4"/><rect x="1454.7" y="714.9" width="1.2" height="4.0" fill="#fff" fill-opacity="0.55"/><rect x="1120.0" y="676.6" width="2" height="5.0" fill="#fff" fill-opacity="0.4"/><rect x="1382.0" y="574.1" width="2" height="6.0" fill="#fff" fill-opacity="0.75"/><rect x="1011.4" y="650.6" width="1.2" height="26.0" fill="#fff" fill-opacity="0.55"/><rect x="1382.4" y="700.3" width="2" height="18.0" fill="#fff" fill-opacity="0.55"/><rect x="1335.4" y="686.8" width="1.2" height="18.0" fill="#fff" fill-opacity="0.4"/><rect x="1329.9" y="583.1" width="2" height="5.0" fill="#fff" fill-opacity="0.55"/><rect x="1148.6" y="720.0" width="2" height="12.0" fill="#fff" fill-opacity="0.9"/><rect x="1340.1" y="679.9" width="2" height="3.0" fill="#fff" fill-opacity="0.75"/><rect x="1378.4" y="557.3" width="2" height="5.0" fill="#fff" fill-opacity="0.75"/><rect x="967.5" y="721.2" width="1.5" height="3.0" fill="#fff" fill-opacity="0.75"/><rect x="1522.5" y="692.6" width="1.2" height="4.0" fill="#fff" fill-opacity="0.55"/><rect x="869.3" y="720.2" width="2" height="3.0" fill="#fff" fill-opacity="0.55"/><rect x="1627.2" y="601.1" width="1.2" height="5.0" fill="#fff" fill-opacity="0.55"/><rect x="1373.2" y="646.2" width="1.5" height="5.0" fill="#fff" fill-opacity="0.55"/><rect x="1504.5" y="614.9" width="1.5" height="3.0" fill="#fff" fill-opacity="0.4"/><rect x="962.8" y="715.1" width="2" height="16.9" fill="#fff" fill-opacity="0.4"/><rect x="1303.9" y="636.9" width="1.5" height="12.0" fill="#fff" fill-opacity="0.4"/><rect x="901.9" y="725.4" width="2" height="6.6" fill="#fff" fill-opacity="0.75"/><rect x="978.0" y="701.9" width="2" height="3.0" fill="#fff" fill-opacity="0.4"/><rect x="886.3" y="676.9" width="2" height="18.0" fill="#fff" fill-opacity="0.4"/><rect x="1768.2" y="688.6" width="2" height="6.0" fill="#fff" fill-opacity="0.4"/><rect x="1759.7" y="649.9" width="1.2" height="8.0" fill="#fff" fill-opacity="0.4"/><rect x="1024.9" y="703.2" width="1.2" height="4.0" fill="#fff" fill-opacity="0.55"/><rect x="1328.0" y="713.7" width="2" height="4.0" fill="#fff" fill-opacity="0.55"/><rect x="845.5" y="723.8" width="1.5" height="8.2" fill="#fff" fill-opacity="0.9"/><rect x="881.0" y="609.3" width="2" height="2.0" fill="#fff" fill-opacity="0.75"/><rect x="958.4" y="689.3" width="2" height="3.0" fill="#fff" fill-opacity="0.55"/><rect x="1081.3" y="716.5" width="2" height="3.0" fill="#fff" fill-opacity="0.75"/><rect x="1274.6" y="668.8" width="2" height="18.0" fill="#fff" fill-opacity="0.4"/><rect x="1733.1" y="597.6" width="2" height="12.0" fill="#fff" fill-opacity="0.4"/><rect x="895.6" y="557.4" width="2" height="8.0" fill="#fff" fill-opacity="0.4"/><rect x="728.3" y="721.1" width="2" height="5.0" fill="#fff" fill-opacity="0.9"/><rect x="1514.8" y="601.6" width="1.5" height="3.0" fill="#fff" fill-opacity="0.4"/><rect x="1185.2" y="670.5" width="1.2" height="8.0" fill="#fff" fill-opacity="0.75"/><rect x="885.6" y="678.9" width="1.2" height="2.0" fill="#fff" fill-opacity="0.4"/><rect x="1149.7" y="642.9" width="1.5" height="26.0" fill="#fff" fill-opacity="0.55"/><rect x="1368.7" y="598.0" width="1.2" height="18.0" fill="#fff" fill-opacity="0.4"/><rect x="953.7" y="649.2" width="2" height="26.0" fill="#fff" fill-opacity="0.55"/><rect x="889.4" y="705.6" width="1.5" height="12.0" fill="#fff" fill-opacity="0.9"/><rect x="1223.2" y="663.4" width="2" height="18.0" fill="#fff" fill-opacity="0.75"/><rect x="1614.0" y="689.9" width="1.2" height="6.0" fill="#fff" fill-opacity="0.4"/><rect x="1203.5" y="703.7" width="2" height="26.0" fill="#fff" fill-opacity="0.75"/><rect x="1741.2" y="680.3" width="2" height="6.0" fill="#fff" fill-opacity="0.9"/><rect x="840.1" y="723.3" width="2" height="8.7" fill="#fff" fill-opacity="0.75"/><rect x="974.3" y="640.3" width="2" height="3.0" fill="#fff" fill-opacity="0.4"/><rect x="1015.9" y="692.4" width="1.2" height="2.0" fill="#fff" fill-opacity="0.4"/><rect x="1643.7" y="668.3" width="2" height="8.0" fill="#fff" fill-opacity="0.55"/><rect x="1664.2" y="692.5" width="1.5" height="4.0" fill="#fff" fill-opacity="0.55"/><rect x="1184.4" y="673.5" width="1.5" height="12.0" fill="#fff" fill-opacity="0.75"/><rect x="1238.1" y="665.0" width="1.2" height="12.0" fill="#fff" fill-opacity="0.9"/><rect x="1230.6" y="712.0" width="1.2" height="12.0" fill="#fff" fill-opacity="0.9"/><rect x="1725.4" y="661.2" width="2" height="12.0" fill="#fff" fill-opacity="0.4"/><rect x="911.2" y="690.3" width="1.2" height="8.0" fill="#fff" fill-opacity="0.75"/><rect x="1721.8" y="724.4" width="2" height="4.0" fill="#fff" fill-opacity="0.75"/><rect x="1384.6" y="649.7" width="1.2" height="6.0" fill="#fff" fill-opacity="0.9"/><rect x="843.8" y="710.3" width="1.2" height="18.0" fill="#fff" fill-opacity="0.75"/><rect x="1643.0" y="709.2" width="1.2" height="18.0" fill="#fff" fill-opacity="0.55"/><rect x="1522.0" y="731.3" width="1.5" height="0.7" fill="#fff" fill-opacity="0.4"/><rect x="1326.0" y="623.7" width="2" height="6.0" fill="#fff" fill-opacity="0.75"/><rect x="1315.8" y="726.0" width="1.5" height="2.0" fill="#fff" fill-opacity="0.4"/><rect x="1102.3" y="653.4" width="1.2" height="12.0" fill="#fff" fill-opacity="0.9"/><rect x="1262.0" y="617.0" width="2" height="3.0" fill="#fff" fill-opacity="0.9"/><rect x="1318.6" y="692.1" width="2" height="12.0" fill="#fff" fill-opacity="0.9"/><rect x="1529.0" y="624.9" width="2" height="12.0" fill="#fff" fill-opacity="0.55"/><rect x="960.1" y="716.6" width="2" height="6.0" fill="#fff" fill-opacity="0.9"/><rect x="1449.9" y="660.0" width="2" height="3.0" fill="#fff" fill-opacity="0.4"/><rect x="1155.1" y="633.1" width="2" height="2.0" fill="#fff" fill-opacity="0.55"/><rect x="865.2" y="607.3" width="1.5" height="5.0" fill="#fff" fill-opacity="0.4"/><rect x="1128.8" y="720.9" width="2" height="11.1" fill="#fff" fill-opacity="0.75"/><rect x="836.9" y="597.5" width="2" height="12.0" fill="#fff" fill-opacity="0.4"/><rect x="1126.8" y="670.5" width="1.2" height="3.0" fill="#fff" fill-opacity="0.4"/><rect x="1709.4" y="664.0" width="2" height="5.0" fill="#fff" fill-opacity="0.55"/><rect x="1701.8" y="598.1" width="1.2" height="8.0" fill="#fff" fill-opacity="0.4"/><rect x="931.8" y="703.7" width="1.5" height="3.0" fill="#fff" fill-opacity="0.4"/><rect x="1016.2" y="693.9" width="1.2" height="3.0" fill="#fff" fill-opacity="0.4"/><rect x="1523.1" y="609.5" width="2" height="18.0" fill="#fff" fill-opacity="0.75"/><rect x="1178.9" y="687.1" width="2" height="26.0" fill="#fff" fill-opacity="0.55"/><rect x="935.1" y="678.8" width="2" height="2.0" fill="#fff" fill-opacity="0.9"/><rect x="1461.2" y="729.3" width="1.2" height="2.7" fill="#fff" fill-opacity="0.4"/><rect x="1634.5" y="673.4" width="2" height="8.0" fill="#fff" fill-opacity="0.75"/><rect x="1765.1" y="688.0" width="2" height="8.0" fill="#fff" fill-opacity="0.55"/><rect x="913.3" y="666.3" width="1.5" height="12.0" fill="#fff" fill-opacity="0.9"/><rect x="1308.6" y="638.5" width="1.2" height="12.0" fill="#fff" fill-opacity="0.9"/><rect x="1351.1" y="676.6" width="1.2" height="12.0" fill="#fff" fill-opacity="0.9"/><rect x="1469.2" y="538.0" width="2" height="4.0" fill="#fff" fill-opacity="0.75"/><rect x="712.3" y="620.3" width="1.5" height="26.0" fill="#fff" fill-opacity="0.9"/><rect x="1150.3" y="677.3" width="2" height="4.0" fill="#fff" fill-opacity="0.55"/><rect x="1665.0" y="704.4" width="2" height="3.0" fill="#fff" fill-opacity="0.75"/><rect x="1734.2" y="632.7" width="1.2" height="3.0" fill="#fff" fill-opacity="0.4"/><rect x="1397.9" y="699.2" width="1.5" height="12.0" fill="#fff" fill-opacity="0.4"/><rect x="705.5" y="700.0" width="2" height="5.0" fill="#fff" fill-opacity="0.75"/><rect x="923.9" y="656.1" width="1.5" height="4.0" fill="#fff" fill-opacity="0.4"/><rect x="1610.2" y="627.8" width="2" height="4.0" fill="#fff" fill-opacity="0.4"/><rect x="1201.1" y="731.3" width="1.5" height="0.7" fill="#fff" fill-opacity="0.9"/><rect x="1406.3" y="730.7" width="2" height="1.3" fill="#fff" fill-opacity="0.4"/><rect x="1368.7" y="705.0" width="2" height="3.0" fill="#fff" fill-opacity="0.75"/><rect x="942.6" y="709.3" width="2" height="3.0" fill="#fff" fill-opacity="0.55"/><rect x="1045.6" y="656.3" width="2" height="3.0" fill="#fff" fill-opacity="0.75"/><rect x="1297.6" y="689.1" width="1.2" height="3.0" fill="#fff" fill-opacity="0.75"/><rect x="1107.1" y="633.0" width="2" height="26.0" fill="#fff" fill-opacity="0.55"/><rect x="1450.7" y="662.2" width="1.5" height="26.0" fill="#fff" fill-opacity="0.75"/><rect x="929.8" y="616.2" width="1.2" height="4.0" fill="#fff" fill-opacity="0.75"/><rect x="1623.9" y="552.9" width="2" height="4.0" fill="#fff" fill-opacity="0.4"/><rect x="1731.9" y="584.5" width="2" height="2.0" fill="#fff" fill-opacity="0.9"/><rect x="1712.0" y="660.4" width="2" height="18.0" fill="#fff" fill-opacity="0.9"/><rect x="724.6" y="708.8" width="2" height="5.0" fill="#fff" fill-opacity="0.9"/><rect x="684.6" y="662.5" width="2" height="26.0" fill="#fff" fill-opacity="0.75"/><rect x="993.7" y="642.5" width="1.2" height="26.0" fill="#fff" fill-opacity="0.55"/><rect x="1296.8" y="724.4" width="1.2" height="2.0" fill="#fff" fill-opacity="0.55"/><rect x="1072.7" y="650.0" width="1.5" height="26.0" fill="#fff" fill-opacity="0.75"/><rect x="854.7" y="647.4" width="1.5" height="5.0" fill="#fff" fill-opacity="0.4"/><rect x="720.1" y="679.9" width="1.2" height="6.0" fill="#fff" fill-opacity="0.75"/><rect x="964.9" y="677.5" width="2" height="6.0" fill="#fff" fill-opacity="0.75"/><rect x="1196.7" y="697.1" width="1.5" height="8.0" fill="#fff" fill-opacity="0.75"/><rect x="1762.5" y="654.8" width="2" height="2.0" fill="#fff" fill-opacity="0.55"/><rect x="1239.9" y="694.3" width="2" height="3.0" fill="#fff" fill-opacity="0.55"/><rect x="1743.6" y="700.4" width="1.2" height="18.0" fill="#fff" fill-opacity="0.9"/><rect x="1007.2" y="666.1" width="2" height="8.0" fill="#fff" fill-opacity="0.4"/><rect x="1340.3" y="690.6" width="1.2" height="3.0" fill="#fff" fill-opacity="0.9"/><rect x="1369.0" y="691.4" width="2" height="5.0" fill="#fff" fill-opacity="0.75"/><rect x="1321.9" y="723.3" width="1.2" height="6.0" fill="#fff" fill-opacity="0.75"/><rect x="1090.6" y="575.1" width="2" height="18.0" fill="#fff" fill-opacity="0.9"/><rect x="1340.1" y="722.1" width="2" height="9.9" fill="#fff" fill-opacity="0.75"/><rect x="1396.2" y="602.1" width="1.2" height="3.0" fill="#fff" fill-opacity="0.75"/><rect x="879.9" y="681.8" width="2" height="26.0" fill="#fff" fill-opacity="0.55"/><rect x="1755.6" y="660.7" width="2" height="4.0" fill="#fff" fill-opacity="0.75"/><rect x="1003.5" y="686.1" width="1.2" height="12.0" fill="#fff" fill-opacity="0.9"/><rect x="926.0" y="565.6" width="1.5" height="6.0" fill="#fff" fill-opacity="0.55"/><rect x="1546.2" y="590.5" width="1.2" height="3.0" fill="#fff" fill-opacity="0.75"/><rect x="1264.7" y="693.3" width="2" height="12.0" fill="#fff" fill-opacity="0.75"/><rect x="1045.8" y="704.8" width="2" height="5.0" fill="#fff" fill-opacity="0.4"/><rect x="1723.7" y="578.9" width="2" height="3.0" fill="#fff" fill-opacity="0.55"/><rect x="878.7" y="620.2" width="1.5" height="8.0" fill="#fff" fill-opacity="0.55"/><rect x="704.3" y="624.0" width="2" height="18.0" fill="#fff" fill-opacity="0.75"/><rect x="1639.3" y="713.6" width="2" height="3.0" fill="#fff" fill-opacity="0.4"/><rect x="1506.7" y="637.0" width="1.5" height="18.0" fill="#fff" fill-opacity="0.9"/><rect x="1160.2" y="705.7" width="1.5" height="2.0" fill="#fff" fill-opacity="0.75"/><rect x="1298.4" y="577.0" width="1.5" height="3.0" fill="#fff" fill-opacity="0.9"/><rect x="1792.1" y="547.9" width="2" height="2.0" fill="#fff" fill-opacity="0.75"/><rect x="1368.6" y="692.5" width="2" height="12.0" fill="#fff" fill-opacity="0.4"/><rect x="842.1" y="729.8" width="1.2" height="2.2" fill="#fff" fill-opacity="0.55"/><rect x="1309.5" y="695.6" width="2" height="3.0" fill="#fff" fill-opacity="0.75"/><rect x="825.7" y="683.8" width="1.5" height="6.0" fill="#fff" fill-opacity="0.75"/><rect x="1466.7" y="620.1" width="1.5" height="2.0" fill="#fff" fill-opacity="0.9"/><rect x="1666.2" y="563.5" width="2" height="2.0" fill="#fff" fill-opacity="0.4"/><rect x="851.1" y="729.7" width="1.2" height="2.3" fill="#fff" fill-opacity="0.55"/><rect x="1666.9" y="730.0" width="1.5" height="2.0" fill="#fff" fill-opacity="0.9"/><rect x="946.6" y="625.0" width="2" height="18.0" fill="#fff" fill-opacity="0.75"/><rect x="1774.3" y="659.9" width="1.5" height="4.0" fill="#fff" fill-opacity="0.75"/><rect x="1693.0" y="550.3" width="1.2" height="18.0" fill="#fff" fill-opacity="0.4"/><rect x="1379.7" y="689.9" width="2" height="2.0" fill="#fff" fill-opacity="0.55"/><rect x="712.5" y="686.0" width="1.5" height="6.0" fill="#fff" fill-opacity="0.4"/><rect x="1648.2" y="665.3" width="2" height="8.0" fill="#fff" fill-opacity="0.75"/><rect x="1649.2" y="724.4" width="2" height="7.6" fill="#fff" fill-opacity="0.4"/><rect x="1443.7" y="721.3" width="1.5" height="6.0" fill="#fff" fill-opacity="0.9"/><rect x="1763.6" y="637.9" width="1.5" height="2.0" fill="#fff" fill-opacity="0.9"/><rect x="1406.2" y="682.5" width="1.5" height="26.0" fill="#fff" fill-opacity="0.4"/><rect x="1336.2" y="626.0" width="1.2" height="5.0" fill="#fff" fill-opacity="0.55"/><rect x="1436.8" y="651.5" width="2" height="2.0" fill="#fff" fill-opacity="0.55"/><rect x="1181.8" y="665.7" width="1.5" height="4.0" fill="#fff" fill-opacity="0.9"/><rect x="1669.4" y="702.7" width="2" height="8.0" fill="#fff" fill-opacity="0.4"/><rect x="1113.0" y="545.0" width="1.2" height="3.0" fill="#fff" fill-opacity="0.55"/><rect x="1161.5" y="728.4" width="2" height="3.6" fill="#fff" fill-opacity="0.55"/><rect x="994.8" y="711.2" width="2" height="18.0" fill="#fff" fill-opacity="0.4"/><rect x="716.2" y="701.7" width="1.2" height="4.0" fill="#fff" fill-opacity="0.75"/><rect x="1084.3" y="713.5" width="1.2" height="4.0" fill="#fff" fill-opacity="0.55"/><rect x="1082.8" y="692.4" width="1.5" height="3.0" fill="#fff" fill-opacity="0.55"/><rect x="866.6" y="695.7" width="1.2" height="3.0" fill="#fff" fill-opacity="0.9"/><rect x="1702.4" y="688.8" width="1.2" height="26.0" fill="#fff" fill-opacity="0.9"/><rect x="1322.2" y="668.2" width="2" height="2.0" fill="#fff" fill-opacity="0.4"/><rect x="1621.0" y="674.0" width="2" height="18.0" fill="#fff" fill-opacity="0.9"/><rect x="1465.4" y="706.4" width="2" height="5.0" fill="#fff" fill-opacity="0.55"/><rect x="959.5" y="715.4" width="2" height="5.0" fill="#fff" fill-opacity="0.9"/><rect x="1267.1" y="725.2" width="1.5" height="3.0" fill="#fff" fill-opacity="0.4"/><rect x="930.4" y="709.7" width="1.5" height="3.0" fill="#fff" fill-opacity="0.75"/><rect x="1733.8" y="662.2" width="2" height="2.0" fill="#fff" fill-opacity="0.9"/><rect x="880.9" y="649.1" width="1.5" height="12.0" fill="#fff" fill-opacity="0.4"/><rect x="1639.7" y="725.3" width="2" height="6.7" fill="#fff" fill-opacity="0.75"/><rect x="1673.4" y="690.0" width="2" height="8.0" fill="#fff" fill-opacity="0.9"/><rect x="1674.2" y="602.8" width="2" height="3.0" fill="#fff" fill-opacity="0.9"/><rect x="1098.8" y="686.4" width="2" height="26.0" fill="#fff" fill-opacity="0.75"/><rect x="1156.9" y="671.5" width="1.5" height="18.0" fill="#fff" fill-opacity="0.55"/><rect x="1337.7" y="729.8" width="1.2" height="2.2" fill="#fff" fill-opacity="0.4"/><rect x="1199.8" y="715.5" width="2" height="16.5" fill="#fff" fill-opacity="0.55"/><rect x="1732.8" y="592.7" width="1.2" height="4.0" fill="#fff" fill-opacity="0.9"/><rect x="1090.8" y="614.7" width="1.5" height="12.0" fill="#fff" fill-opacity="0.55"/><rect x="1691.9" y="608.4" width="1.2" height="6.0" fill="#fff" fill-opacity="0.4"/><rect x="924.5" y="731.4" width="2" height="0.6" fill="#fff" fill-opacity="0.75"/><rect x="846.6" y="621.1" width="2" height="4.0" fill="#fff" fill-opacity="0.4"/><rect x="1085.9" y="672.3" width="1.2" height="6.0" fill="#fff" fill-opacity="0.55"/><rect x="991.8" y="687.4" width="1.5" height="5.0" fill="#fff" fill-opacity="0.4"/><rect x="1133.2" y="615.2" width="2" height="26.0" fill="#fff" fill-opacity="0.55"/><rect x="1696.8" y="646.8" width="2" height="2.0" fill="#fff" fill-opacity="0.4"/><rect x="1123.6" y="727.9" width="2" height="4.1" fill="#fff" fill-opacity="0.55"/><rect x="907.5" y="557.2" width="1.5" height="26.0" fill="#fff" fill-opacity="0.55"/><rect x="1114.4" y="573.1" width="2" height="8.0" fill="#fff" fill-opacity="0.75"/><rect x="1341.3" y="732.0" width="2" height="0.0" fill="#fff" fill-opacity="0.55"/><rect x="1277.5" y="701.0" width="1.2" height="5.0" fill="#fff" fill-opacity="0.55"/><rect x="1736.9" y="709.7" width="1.2" height="8.0" fill="#fff" fill-opacity="0.9"/><rect x="1198.6" y="672.8" width="1.2" height="8.0" fill="#fff" fill-opacity="0.75"/><rect x="1636.7" y="548.2" width="1.5" height="12.0" fill="#fff" fill-opacity="0.75"/><rect x="725.9" y="665.5" width="1.2" height="2.0" fill="#fff" fill-opacity="0.9"/><rect x="1337.2" y="669.9" width="1.2" height="2.0" fill="#fff" fill-opacity="0.55"/><rect x="1700.2" y="694.0" width="2" height="3.0" fill="#fff" fill-opacity="0.75"/><rect x="1761.2" y="670.5" width="2" height="6.0" fill="#fff" fill-opacity="0.9"/><rect x="1691.9" y="657.0" width="1.5" height="2.0" fill="#fff" fill-opacity="0.9"/><rect x="999.1" y="727.7" width="1.2" height="2.0" fill="#fff" fill-opacity="0.9"/><rect x="1330.0" y="718.2" width="2" height="8.0" fill="#fff" fill-opacity="0.75"/><rect x="1645.5" y="671.5" width="1.2" height="2.0" fill="#fff" fill-opacity="0.55"/><rect x="1335.7" y="647.9" width="1.2" height="2.0" fill="#fff" fill-opacity="0.9"/><rect x="958.6" y="709.0" width="2" height="6.0" fill="#fff" fill-opacity="0.9"/><rect x="1027.4" y="658.3" width="2" height="12.0" fill="#fff" fill-opacity="0.55"/><rect x="1492.3" y="686.1" width="1.5" height="5.0" fill="#fff" fill-opacity="0.55"/><rect x="1004.6" y="679.7" width="1.2" height="12.0" fill="#fff" fill-opacity="0.55"/><rect x="1426.8" y="609.9" width="2" height="12.0" fill="#fff" fill-opacity="0.9"/><rect x="898.0" y="698.6" width="1.5" height="12.0" fill="#fff" fill-opacity="0.75"/><rect x="1175.0" y="635.1" width="1.2" height="3.0" fill="#fff" fill-opacity="0.4"/><rect x="1176.3" y="681.6" width="2" height="4.0" fill="#fff" fill-opacity="0.75"/><rect x="1626.9" y="717.3" width="2" height="12.0" fill="#fff" fill-opacity="0.55"/><rect x="1428.5" y="709.5" width="2" height="18.0" fill="#fff" fill-opacity="0.9"/><rect x="1538.7" y="639.2" width="1.5" height="8.0" fill="#fff" fill-opacity="0.4"/><rect x="943.7" y="643.3" width="1.5" height="2.0" fill="#fff" fill-opacity="0.55"/><rect x="1468.0" y="627.2" width="2" height="18.0" fill="#fff" fill-opacity="0.75"/><rect x="1412.4" y="677.6" width="2" height="6.0" fill="#fff" fill-opacity="0.75"/><rect x="1285.5" y="662.7" width="1.2" height="8.0" fill="#fff" fill-opacity="0.55"/><rect x="1404.9" y="717.0" width="2" height="4.0" fill="#fff" fill-opacity="0.55"/><rect x="1320.9" y="716.5" width="2" height="5.0" fill="#fff" fill-opacity="0.4"/><rect x="1479.8" y="665.5" width="2" height="26.0" fill="#fff" fill-opacity="0.9"/><rect x="1677.9" y="627.7" width="2" height="2.0" fill="#fff" fill-opacity="0.4"/><rect x="1454.5" y="664.1" width="1.5" height="4.0" fill="#fff" fill-opacity="0.9"/><rect x="1355.5" y="724.4" width="2" height="7.6" fill="#fff" fill-opacity="0.9"/><rect x="894.9" y="687.6" width="2" height="26.0" fill="#fff" fill-opacity="0.9"/><rect x="1262.9" y="568.7" width="2" height="2.0" fill="#fff" fill-opacity="0.75"/><rect x="1647.7" y="721.4" width="2" height="2.0" fill="#fff" fill-opacity="0.75"/><rect x="1284.9" y="718.1" width="1.2" height="4.0" fill="#fff" fill-opacity="0.75"/><rect x="1187.2" y="711.4" width="1.2" height="4.0" fill="#fff" fill-opacity="0.4"/><rect x="1617.8" y="694.5" width="1.2" height="12.0" fill="#fff" fill-opacity="0.55"/><rect x="952.3" y="704.0" width="1.5" height="1.5" fill="#e8433b" fill-opacity="0.35"/><rect x="674.7" y="586.6" width="1.5" height="1.5" fill="#b07a8a" fill-opacity="0.7"/><rect x="944.9" y="560.7" width="2" height="2" fill="#5dc14a" fill-opacity="0.35"/><rect x="1770.2" y="698.0" width="2" height="2" fill="#b07a8a" fill-opacity="0.5"/><rect x="898.9" y="712.2" width="2" height="2" fill="#e8433b" fill-opacity="0.5"/><rect x="1374.1" y="730.0" width="2.5" height="2.5" fill="#7a3cf0" fill-opacity="0.9"/><rect x="1358.9" y="673.8" width="2.5" height="2.5" fill="#5dc14a" fill-opacity="0.35"/><rect x="1251.5" y="572.2" width="2.5" height="2.5" fill="#e8433b" fill-opacity="0.35"/><rect x="870.5" y="639.6" width="2.5" height="2.5" fill="#5dc14a" fill-opacity="0.9"/><rect x="1058.5" y="544.2" width="2.5" height="2.5" fill="#5dc14a" fill-opacity="0.7"/><rect x="1366.9" y="653.7" width="2.5" height="2.5" fill="#b07a8a" fill-opacity="0.7"/><rect x="1066.6" y="549.0" width="1.5" height="1.5" fill="#5dc14a" fill-opacity="0.7"/><rect x="1444.4" y="577.5" width="1.5" height="1.5" fill="#e8433b" fill-opacity="0.7"/><rect x="1135.4" y="543.7" width="1.5" height="1.5" fill="#d07f2a" fill-opacity="0.7"/><rect x="1329.7" y="538.2" width="2.5" height="2.5" fill="#5dc14a" fill-opacity="0.35"/><rect x="1352.1" y="706.8" width="1.5" height="1.5" fill="#5dc14a" fill-opacity="0.35"/><rect x="705.3" y="579.3" width="1.5" height="1.5" fill="#b07a8a" fill-opacity="0.7"/><rect x="1189.3" y="550.8" width="2" height="2" fill="#b07a8a" fill-opacity="0.5"/><rect x="1454.4" y="632.4" width="2" height="2" fill="#7a3cf0" fill-opacity="0.5"/><rect x="1194.4" y="649.2" width="1.5" height="1.5" fill="#5dc14a" fill-opacity="0.5"/><rect x="1789.9" y="552.0" width="2" height="2" fill="#7a3cf0" fill-opacity="0.9"/><rect x="942.0" y="722.2" width="2.5" height="2.5" fill="#5dc14a" fill-opacity="0.5"/><rect x="982.3" y="661.3" width="1.5" height="1.5" fill="#d07f2a" fill-opacity="0.35"/><rect x="714.8" y="601.7" width="2.5" height="2.5" fill="#d07f2a" fill-opacity="0.7"/><rect x="879.4" y="720.1" width="1.5" height="1.5" fill="#5dc14a" fill-opacity="0.35"/><rect x="901.8" y="561.2" width="1.5" height="1.5" fill="#d07f2a" fill-opacity="0.9"/><rect x="1380.6" y="652.8" width="1.5" height="1.5" fill="#5dc14a" fill-opacity="0.35"/><rect x="1332.2" y="612.0" width="1.5" height="1.5" fill="#5dc14a" fill-opacity="0.35"/><rect x="911.5" y="629.7" width="2" height="2" fill="#e8433b" fill-opacity="0.35"/><rect x="1244.2" y="640.3" width="2.5" height="2.5" fill="#e8433b" fill-opacity="0.9"/><rect x="1706.8" y="654.3" width="1.5" height="1.5" fill="#d07f2a" fill-opacity="0.35"/><rect x="1265.7" y="725.1" width="1.5" height="1.5" fill="#7a3cf0" fill-opacity="0.5"/><rect x="971.8" y="579.0" width="1.5" height="1.5" fill="#5dc14a" fill-opacity="0.9"/><rect x="1404.0" y="548.1" width="1.5" height="1.5" fill="#7a3cf0" fill-opacity="0.7"/><rect x="1070.6" y="692.3" width="1.5" height="1.5" fill="#5dc14a" fill-opacity="0.7"/><rect x="1086.0" y="638.6" width="2" height="2" fill="#5dc14a" fill-opacity="0.5"/><rect x="968.2" y="536.6" width="2.5" height="2.5" fill="#5dc14a" fill-opacity="0.5"/><rect x="1135.5" y="719.1" width="2" height="2" fill="#b07a8a" fill-opacity="0.5"/><rect x="1426.5" y="675.2" width="2.5" height="2.5" fill="#d07f2a" fill-opacity="0.5"/><rect x="1106.9" y="579.3" width="2" height="2" fill="#e8433b" fill-opacity="0.35"/><rect x="913.1" y="647.6" width="1.5" height="1.5" fill="#d07f2a" fill-opacity="0.35"/><rect x="910.8" y="593.6" width="1.5" height="1.5" fill="#d07f2a" fill-opacity="0.5"/><rect x="956.0" y="703.9" width="2" height="2" fill="#5dc14a" fill-opacity="0.9"/><rect x="1390.5" y="671.5" width="2" height="2" fill="#e8433b" fill-opacity="0.7"/><rect x="958.8" y="655.6" width="2" height="2" fill="#e8433b" fill-opacity="0.9"/><rect x="1360.1" y="632.5" width="1.5" height="1.5" fill="#e8433b" fill-opacity="0.7"/><rect x="1200.5" y="653.2" width="2" height="2" fill="#e8433b" fill-opacity="0.5"/><rect x="1040.3" y="614.0" width="2" height="2" fill="#5dc14a" fill-opacity="0.5"/><rect x="1148.6" y="597.9" width="2.5" height="2.5" fill="#7a3cf0" fill-opacity="0.9"/><rect x="1501.0" y="643.7" width="2" height="2" fill="#5dc14a" fill-opacity="0.35"/><rect x="946.8" y="653.9" width="2" height="2" fill="#d07f2a" fill-opacity="0.7"/><rect x="1308.5" y="696.1" width="2" height="2" fill="#5dc14a" fill-opacity="0.35"/><rect x="1194.3" y="583.1" width="2" height="2" fill="#e8433b" fill-opacity="0.7"/><rect x="1486.7" y="554.1" width="2" height="2" fill="#e8433b" fill-opacity="0.5"/><rect x="679.4" y="559.5" width="2" height="2" fill="#7a3cf0" fill-opacity="0.5"/><rect x="1407.4" y="580.8" width="2" height="2" fill="#5dc14a" fill-opacity="0.35"/><rect x="1063.7" y="538.6" width="2.5" height="2.5" fill="#d07f2a" fill-opacity="0.35"/><rect x="905.5" y="722.9" width="2" height="2" fill="#5dc14a" fill-opacity="0.7"/><rect x="1714.7" y="588.1" width="2" height="2" fill="#e8433b" fill-opacity="0.7"/><rect x="934.5" y="567.4" width="2" height="2" fill="#e8433b" fill-opacity="0.35"/><rect x="1183.7" y="664.4" width="2" height="2" fill="#e8433b" fill-opacity="0.35"/><rect x="1121.8" y="711.4" width="2.5" height="2.5" fill="#7a3cf0" fill-opacity="0.35"/><rect x="1624.2" y="695.2" width="2" height="2" fill="#5dc14a" fill-opacity="0.35"/><rect x="1468.3" y="667.5" width="2.5" height="2.5" fill="#b07a8a" fill-opacity="0.7"/><rect x="988.6" y="646.8" width="2" height="2" fill="#d07f2a" fill-opacity="0.9"/><rect x="1193.2" y="661.5" width="1.5" height="1.5" fill="#7a3cf0" fill-opacity="0.35"/><rect x="1117.3" y="732.0" width="2" height="2" fill="#5dc14a" fill-opacity="0.35"/><rect x="1684.2" y="715.7" width="2" height="2" fill="#b07a8a" fill-opacity="0.5"/><rect x="1156.6" y="569.4" width="2.5" height="2.5" fill="#5dc14a" fill-opacity="0.35"/><rect x="1643.0" y="627.1" width="2" height="2" fill="#b07a8a" fill-opacity="0.35"/><rect x="890.3" y="695.9" width="1.5" height="1.5" fill="#7a3cf0" fill-opacity="0.7"/><rect x="1436.3" y="648.5" width="2" height="2" fill="#e8433b" fill-opacity="0.35"/><rect x="715.3" y="674.8" width="2" height="2" fill="#7a3cf0" fill-opacity="0.9"/><rect x="699.3" y="717.0" width="2" height="2" fill="#7a3cf0" fill-opacity="0.5"/><rect x="1331.2" y="676.6" width="2" height="2" fill="#7a3cf0" fill-opacity="0.7"/><rect x="1477.9" y="620.5" width="1.5" height="1.5" fill="#e8433b" fill-opacity="0.35"/><rect x="1228.5" y="683.0" width="2" height="2" fill="#7a3cf0" fill-opacity="0.7"/><rect x="969.3" y="622.6" width="2.5" height="2.5" fill="#5dc14a" fill-opacity="0.5"/><rect x="1510.6" y="579.7" width="2.5" height="2.5" fill="#5dc14a" fill-opacity="0.35"/><rect x="1348.6" y="589.7" width="1.5" height="1.5" fill="#e8433b" fill-opacity="0.5"/><rect x="873.5" y="652.5" width="1.5" height="1.5" fill="#e8433b" fill-opacity="0.9"/><rect x="1019.5" y="608.6" width="2" height="2" fill="#d07f2a" fill-opacity="0.7"/><rect x="717.9" y="707.0" width="2.5" height="2.5" fill="#e8433b" fill-opacity="0.5"/><rect x="1599.1" y="591.0" width="2" height="2" fill="#d07f2a" fill-opacity="0.9"/><rect x="1066.0" y="594.2" width="1.5" height="1.5" fill="#7a3cf0" fill-opacity="0.5"/><rect x="1680.1" y="542.8" width="2" height="2" fill="#5dc14a" fill-opacity="0.7"/><rect x="1120.4" y="577.9" width="2.5" height="2.5" fill="#e8433b" fill-opacity="0.7"/><rect x="1379.7" y="715.1" width="1.5" height="1.5" fill="#5dc14a" fill-opacity="0.35"/><rect x="1760.4" y="667.0" width="2.5" height="2.5" fill="#b07a8a" fill-opacity="0.9"/><rect x="1149.4" y="652.4" width="2" height="2" fill="#e8433b" fill-opacity="0.5"/><rect x="992.8" y="686.6" width="2.5" height="2.5" fill="#e8433b" fill-opacity="0.35"/><rect x="1065.7" y="537.8" width="2" height="2" fill="#d07f2a" fill-opacity="0.7"/><rect x="971.5" y="731.8" width="1.5" height="1.5" fill="#5dc14a" fill-opacity="0.9"/><rect x="971.2" y="597.6" width="2" height="2" fill="#5dc14a" fill-opacity="0.9"/><rect x="1455.7" y="561.2" width="2" height="2" fill="#e8433b" fill-opacity="0.7"/><rect x="1601.6" y="651.9" width="1.5" height="1.5" fill="#e8433b" fill-opacity="0.7"/><rect x="828.2" y="612.5" width="1.5" height="1.5" fill="#5dc14a" fill-opacity="0.7"/><rect x="1105.9" y="570.6" width="2.5" height="2.5" fill="#e8433b" fill-opacity="0.7"/><rect x="1077.9" y="575.8" width="1.5" height="1.5" fill="#e8433b" fill-opacity="0.7"/><rect x="1087.8" y="676.7" width="1.5" height="1.5" fill="#e8433b" fill-opacity="0.5"/><rect x="1270.6" y="577.1" width="2.5" height="2.5" fill="#d07f2a" fill-opacity="0.5"/><rect x="1677.5" y="712.7" width="2" height="2" fill="#e8433b" fill-opacity="0.7"/><rect x="1642.2" y="536.4" width="2" height="2" fill="#e8433b" fill-opacity="0.7"/><rect x="1608.2" y="637.7" width="2" height="2" fill="#7a3cf0" fill-opacity="0.35"/><rect x="1740.8" y="545.6" width="2.5" height="2.5" fill="#5dc14a" fill-opacity="0.7"/><rect x="1716.0" y="698.4" width="1.5" height="1.5" fill="#7a3cf0" fill-opacity="0.35"/><rect x="859.8" y="675.0" width="1.5" height="1.5" fill="#b07a8a" fill-opacity="0.35"/><rect x="1127.3" y="629.0" width="2" height="2" fill="#7a3cf0" fill-opacity="0.9"/><rect x="1145.7" y="544.8" width="2" height="2" fill="#5dc14a" fill-opacity="0.35"/><rect x="1441.7" y="656.2" width="2" height="2" fill="#5dc14a" fill-opacity="0.7"/><rect x="1739.5" y="655.3" width="1.5" height="1.5" fill="#7a3cf0" fill-opacity="0.5"/><rect x="1563.3" y="622.1" width="2" height="2" fill="#b07a8a" fill-opacity="0.35"/><rect x="1703.0" y="552.9" width="2" height="2" fill="#e8433b" fill-opacity="0.9"/><rect x="1667.1" y="710.6" width="2.5" height="2.5" fill="#d07f2a" fill-opacity="0.35"/><rect x="995.5" y="649.1" width="2.5" height="2.5" fill="#e8433b" fill-opacity="0.35"/><rect x="1758.3" y="602.1" width="2.5" height="2.5" fill="#e8433b" fill-opacity="0.5"/><rect x="1628.2" y="625.2" width="2" height="2" fill="#5dc14a" fill-opacity="0.35"/><rect x="1210.5" y="623.0" width="1.5" height="1.5" fill="#7a3cf0" fill-opacity="0.7"/><rect x="832.3" y="585.5" width="2.5" height="2.5" fill="#7a3cf0" fill-opacity="0.9"/><rect x="1343.7" y="584.1" width="2" height="2" fill="#b07a8a" fill-opacity="0.35"/><rect x="1604.6" y="647.2" width="2" height="2" fill="#d07f2a" fill-opacity="0.5"/><rect x="1751.0" y="545.8" width="2.5" height="2.5" fill="#7a3cf0" fill-opacity="0.35"/><rect x="889.8" y="696.8" width="2" height="2" fill="#b07a8a" fill-opacity="0.7"/><rect x="977.1" y="584.6" width="1.5" height="1.5" fill="#b07a8a" fill-opacity="0.35"/><rect x="1262.7" y="689.2" width="2.5" height="2.5" fill="#7a3cf0" fill-opacity="0.5"/><rect x="1624.5" y="646.4" width="2" height="2" fill="#b07a8a" fill-opacity="0.7"/><rect x="1480.5" y="562.0" width="2" height="2" fill="#d07f2a" fill-opacity="0.5"/><rect x="1168.3" y="586.6" width="2" height="2" fill="#d07f2a" fill-opacity="0.7"/><rect x="1069.0" y="724.6" width="2.5" height="2.5" fill="#e8433b" fill-opacity="0.5"/><rect x="1194.4" y="561.3" width="2" height="2" fill="#5dc14a" fill-opacity="0.35"/><rect x="1736.1" y="696.3" width="1.5" height="1.5" fill="#b07a8a" fill-opacity="0.5"/><rect x="1668.2" y="643.9" width="2.5" height="2.5" fill="#7a3cf0" fill-opacity="0.7"/><rect x="1160.7" y="584.5" width="2" height="2" fill="#e8433b" fill-opacity="0.5"/><rect x="1149.6" y="692.5" width="2" height="2" fill="#e8433b" fill-opacity="0.9"/><rect x="1658.8" y="632.3" width="1.5" height="1.5" fill="#e8433b" fill-opacity="0.5"/><rect x="1302.9" y="676.7" width="2" height="2" fill="#5dc14a" fill-opacity="0.9"/><rect x="1686.1" y="723.7" width="2" height="2" fill="#5dc14a" fill-opacity="0.5"/><rect x="1045.9" y="595.6" width="2.5" height="2.5" fill="#e8433b" fill-opacity="0.5"/><rect x="1677.8" y="578.7" width="1.5" height="1.5" fill="#b07a8a" fill-opacity="0.5"/><rect x="1497.7" y="561.1" width="2.5" height="2.5" fill="#e8433b" fill-opacity="0.7"/><rect x="1546.3" y="569.5" width="1.5" height="1.5" fill="#e8433b" fill-opacity="0.5"/><rect x="1613.3" y="678.3" width="2" height="2" fill="#7a3cf0" fill-opacity="0.5"/><rect x="959.0" y="708.7" width="2" height="2" fill="#e8433b" fill-opacity="0.5"/><rect x="1617.1" y="716.5" width="2" height="2" fill="#7a3cf0" fill-opacity="0.5"/><rect x="906.2" y="578.1" width="2" height="2" fill="#7a3cf0" fill-opacity="0.7"/><rect x="1391.1" y="721.4" width="2" height="2" fill="#7a3cf0" fill-opacity="0.35"/><rect x="906.1" y="722.2" width="1.5" height="1.5" fill="#7a3cf0" fill-opacity="0.5"/><rect x="1115.5" y="653.5" width="2.5" height="2.5" fill="#5dc14a" fill-opacity="0.9"/><rect x="938.7" y="685.3" width="2" height="2" fill="#e8433b" fill-opacity="0.35"/><rect x="1202.0" y="688.9" width="1.5" height="1.5" fill="#5dc14a" fill-opacity="0.9"/><rect x="1332.9" y="724.6" width="2" height="2" fill="#e8433b" fill-opacity="0.7"/><rect x="1013.2" y="562.0" width="2" height="2" fill="#b07a8a" fill-opacity="0.35"/><rect x="1636.9" y="594.0" width="2" height="2" fill="#7a3cf0" fill-opacity="0.5"/><rect x="1427.3" y="578.9" width="2" height="2" fill="#d07f2a" fill-opacity="0.9"/><rect x="1692.8" y="568.4" width="2" height="2" fill="#d07f2a" fill-opacity="0.5"/><rect x="1732.4" y="545.6" width="2" height="2" fill="#5dc14a" fill-opacity="0.5"/><rect x="1222.1" y="640.0" width="2" height="2" fill="#5dc14a" fill-opacity="0.9"/><rect x="930.7" y="628.4" width="1.5" height="1.5" fill="#d07f2a" fill-opacity="0.35"/><rect x="1709.6" y="666.1" width="1.5" height="1.5" fill="#5dc14a" fill-opacity="0.35"/><rect x="1339.9" y="699.2" width="1.5" height="1.5" fill="#b07a8a" fill-opacity="0.9"/><rect x="989.0" y="654.8" width="2.5" height="2.5" fill="#e8433b" fill-opacity="0.9"/><rect x="1040.2" y="549.1" width="2" height="2" fill="#e8433b" fill-opacity="0.5"/><rect x="1478.6" y="601.7" width="2" height="2" fill="#b07a8a" fill-opacity="0.35"/><rect x="1187.4" y="692.4" width="2.5" height="2.5" fill="#5dc14a" fill-opacity="0.7"/><rect x="701.6" y="675.0" width="1.5" height="1.5" fill="#5dc14a" fill-opacity="0.5"/><rect x="849.1" y="556.0" width="2" height="2" fill="#b07a8a" fill-opacity="0.7"/><rect x="969.6" y="628.8" width="2" height="2" fill="#5dc14a" fill-opacity="0.9"/><rect x="1406.5" y="608.3" width="2" height="2" fill="#b07a8a" fill-opacity="0.35"/><rect x="1151.4" y="565.9" width="2" height="2" fill="#5dc14a" fill-opacity="0.35"/><rect x="940.5" y="684.4" width="2" height="2" fill="#b07a8a" fill-opacity="0.9"/><rect x="884.6" y="649.1" width="1.5" height="1.5" fill="#b07a8a" fill-opacity="0.35"/><rect x="1475.3" y="600.2" width="2" height="2" fill="#5dc14a" fill-opacity="0.35"/><rect x="930.2" y="624.6" width="2.5" height="2.5" fill="#5dc14a" fill-opacity="0.7"/><rect x="1675.6" y="574.7" width="2" height="2" fill="#5dc14a" fill-opacity="0.35"/><rect x="1291.2" y="605.6" width="2.5" height="2.5" fill="#5dc14a" fill-opacity="0.5"/><rect x="1014.7" y="542.5" width="1.5" height="1.5" fill="#5dc14a" fill-opacity="0.7"/><rect x="976.7" y="594.7" width="2.5" height="2.5" fill="#5dc14a" fill-opacity="0.35"/><rect x="1397.5" y="658.3" width="1.5" height="1.5" fill="#e8433b" fill-opacity="0.7"/><rect x="1074.3" y="576.1" width="2" height="2" fill="#b07a8a" fill-opacity="0.7"/><rect x="1287.2" y="567.8" width="2" height="2" fill="#e8433b" fill-opacity="0.35"/><rect x="1526.2" y="627.5" width="2" height="2" fill="#e8433b" fill-opacity="0.9"/><rect x="1031.3" y="711.0" width="2.5" height="2.5" fill="#e8433b" fill-opacity="0.7"/><rect x="1226.9" y="590.7" width="2.5" height="2.5" fill="#e8433b" fill-opacity="0.7"/><rect x="1135.0" y="611.6" width="2" height="2" fill="#e8433b" fill-opacity="0.9"/><rect x="669.6" y="552.4" width="1.5" height="1.5" fill="#e8433b" fill-opacity="0.5"/><rect x="1462.9" y="541.9" width="2" height="2" fill="#5dc14a" fill-opacity="0.7"/><rect x="719.7" y="642.4" width="2.5" height="2.5" fill="#5dc14a" fill-opacity="0.9"/><rect x="1701.6" y="669.9" width="2" height="2" fill="#b07a8a" fill-opacity="0.5"/><rect x="1497.2" y="645.7" width="1.5" height="1.5" fill="#b07a8a" fill-opacity="0.5"/><rect x="1349.8" y="698.6" width="2" height="2" fill="#5dc14a" fill-opacity="0.9"/><rect x="1170.9" y="626.8" width="2.5" height="2.5" fill="#b07a8a" fill-opacity="0.7"/><rect x="1614.0" y="613.1" width="2" height="2" fill="#d07f2a" fill-opacity="0.35"/><rect x="1266.4" y="629.9" width="1.5" height="1.5" fill="#7a3cf0" fill-opacity="0.5"/><rect x="1273.9" y="554.3" width="2" height="2" fill="#e8433b" fill-opacity="0.35"/><rect x="915.3" y="607.1" width="2.5" height="2.5" fill="#5dc14a" fill-opacity="0.5"/><rect x="1560.8" y="590.9" width="1.5" height="1.5" fill="#b07a8a" fill-opacity="0.35"/><rect x="683.2" y="590.7" width="2" height="2" fill="#e8433b" fill-opacity="0.35"/><rect x="1282.8" y="549.9" width="2" height="2" fill="#b07a8a" fill-opacity="0.5"/><rect x="1120.8" y="730.8" width="2" height="2" fill="#d07f2a" fill-opacity="0.5"/><rect x="1150.9" y="667.0" width="1.5" height="1.5" fill="#b07a8a" fill-opacity="0.9"/><rect x="678.4" y="639.2" width="2.5" height="2.5" fill="#b07a8a" fill-opacity="0.5"/><rect x="1204.7" y="595.7" width="2" height="2" fill="#e8433b" fill-opacity="0.7"/><rect x="1614.1" y="675.6" width="2.5" height="2.5" fill="#e8433b" fill-opacity="0.5"/><rect x="1611.6" y="609.7" width="2" height="2" fill="#e8433b" fill-opacity="0.5"/><rect x="1510.8" y="579.1" width="1.5" height="1.5" fill="#7a3cf0" fill-opacity="0.9"/><rect x="923.1" y="635.6" width="2" height="2" fill="#5dc14a" fill-opacity="0.7"/><rect x="688.5" y="706.6" width="1.5" height="1.5" fill="#e8433b" fill-opacity="0.7"/><rect x="1551.9" y="582.3" width="2" height="2" fill="#e8433b" fill-opacity="0.9"/><rect x="1332.0" y="567.0" width="2" height="2" fill="#5dc14a" fill-opacity="0.35"/><rect x="1629.4" y="704.8" width="2" height="2" fill="#e8433b" fill-opacity="0.9"/><rect x="1214.0" y="661.4" width="2" height="2" fill="#e8433b" fill-opacity="0.7"/><rect x="1084.0" y="547.7" width="2" height="2" fill="#5dc14a" fill-opacity="0.9"/><rect x="1228.5" y="582.9" width="2.5" height="2.5" fill="#e8433b" fill-opacity="0.7"/><rect x="1658.8" y="566.6" width="1.5" height="1.5" fill="#7a3cf0" fill-opacity="0.35"/><rect x="1604.8" y="642.2" width="2" height="2" fill="#5dc14a" fill-opacity="0.7"/><rect x="1729.5" y="642.6" width="2" height="2" fill="#7a3cf0" fill-opacity="0.7"/><rect x="1015.5" y="541.4" width="2" height="2" fill="#e8433b" fill-opacity="0.7"/><rect x="986.6" y="570.8" width="1.5" height="1.5" fill="#7a3cf0" fill-opacity="0.35"/><rect x="1079.9" y="643.2" width="2" height="2" fill="#e8433b" fill-opacity="0.7"/><rect x="932.6" y="710.4" width="2" height="2" fill="#e8433b" fill-opacity="0.9"/><rect x="988.7" y="656.7" width="2" height="2" fill="#5dc14a" fill-opacity="0.5"/><rect x="1520.3" y="601.3" width="1.5" height="1.5" fill="#d07f2a" fill-opacity="0.9"/><rect x="842.0" y="534.4" width="1.5" height="1.5" fill="#7a3cf0" fill-opacity="0.5"/><rect x="707.1" y="570.2" width="2" height="2" fill="#5dc14a" fill-opacity="0.35"/><rect x="1469.5" y="609.2" width="1.5" height="1.5" fill="#5dc14a" fill-opacity="0.5"/><rect x="854.8" y="669.5" width="2.5" height="2.5" fill="#b07a8a" fill-opacity="0.35"/><rect x="1390.8" y="584.4" width="2.5" height="2.5" fill="#7a3cf0" fill-opacity="0.9"/><rect x="1348.2" y="673.1" width="2" height="2" fill="#d07f2a" fill-opacity="0.7"/><rect x="1560.7" y="595.7" width="2" height="2" fill="#d07f2a" fill-opacity="0.35"/><rect x="1379.3" y="565.0" width="2.5" height="2.5" fill="#e8433b" fill-opacity="0.5"/><rect x="957.1" y="610.5" width="2.5" height="2.5" fill="#e8433b" fill-opacity="0.35"/><rect x="949.4" y="668.6" width="1.5" height="1.5" fill="#e8433b" fill-opacity="0.5"/><rect x="993.1" y="663.0" width="2.5" height="2.5" fill="#d07f2a" fill-opacity="0.5"/><rect x="1675.5" y="721.9" width="2" height="2" fill="#b07a8a" fill-opacity="0.7"/><rect x="717.8" y="653.7" width="2.5" height="2.5" fill="#5dc14a" fill-opacity="0.7"/><rect x="1210.9" y="536.4" width="2" height="2" fill="#b07a8a" fill-opacity="0.35"/><rect x="1197.4" y="556.9" width="2.5" height="2.5" fill="#d07f2a" fill-opacity="0.9"/><rect x="1231.2" y="657.4" width="2.5" height="2.5" fill="#5dc14a" fill-opacity="0.9"/><rect x="857.0" y="668.7" width="2" height="2" fill="#7a3cf0" fill-opacity="0.7"/><rect x="1749.5" y="592.6" width="2" height="2" fill="#e8433b" fill-opacity="0.7"/><rect x="1647.2" y="691.0" width="2" height="2" fill="#b07a8a" fill-opacity="0.7"/><rect x="1788.8" y="612.2" width="2" height="2" fill="#d07f2a" fill-opacity="0.35"/><rect x="1772.5" y="575.4" width="2.5" height="2.5" fill="#b07a8a" fill-opacity="0.35"/><rect x="1218.6" y="538.8" width="1.5" height="1.5" fill="#d07f2a" fill-opacity="0.7"/><rect x="1272.2" y="552.2" width="2" height="2" fill="#7a3cf0" fill-opacity="0.35"/><rect x="1186.5" y="632.2" width="2" height="2" fill="#e8433b" fill-opacity="0.5"/><rect x="1215.2" y="569.4" width="1.5" height="1.5" fill="#d07f2a" fill-opacity="0.7"/><rect x="1019.8" y="716.3" width="2" height="2" fill="#d07f2a" fill-opacity="0.35"/><rect x="1559.7" y="590.6" width="2.5" height="2.5" fill="#5dc14a" fill-opacity="0.5"/><rect x="1675.8" y="696.7" width="2.5" height="2.5" fill="#5dc14a" fill-opacity="0.35"/><rect x="1060.8" y="627.7" width="1.5" height="1.5" fill="#5dc14a" fill-opacity="0.7"/><rect x="944.0" y="640.4" width="2" height="2" fill="#e8433b" fill-opacity="0.5"/><rect x="1591.4" y="644.3" width="2" height="2" fill="#5dc14a" fill-opacity="0.7"/><rect x="933.8" y="597.1" width="1.5" height="1.5" fill="#7a3cf0" fill-opacity="0.5"/><rect x="1061.4" y="611.8" width="2" height="2" fill="#b07a8a" fill-opacity="0.5"/><rect x="923.0" y="617.5" width="1.5" height="1.5" fill="#e8433b" fill-opacity="0.9"/><rect x="1591.6" y="538.0" width="2" height="2" fill="#d07f2a" fill-opacity="0.9"/><rect x="1017.7" y="583.7" width="2.5" height="2.5" fill="#e8433b" fill-opacity="0.7"/><rect x="1572.6" y="549.2" width="2" height="2" fill="#7a3cf0" fill-opacity="0.5"/><rect x="1624.5" y="626.6" width="2" height="2" fill="#5dc14a" fill-opacity="0.5"/><rect x="940.2" y="591.1" width="2.5" height="2.5" fill="#b07a8a" fill-opacity="0.9"/><rect x="1678.9" y="611.6" width="2.5" height="2.5" fill="#e8433b" fill-opacity="0.35"/><rect x="877.2" y="720.8" width="1.5" height="1.5" fill="#5dc14a" fill-opacity="0.35"/><rect x="1700.8" y="719.7" width="1.5" height="1.5" fill="#7a3cf0" fill-opacity="0.5"/><rect x="1346.4" y="731.5" width="2.5" height="2.5" fill="#e8433b" fill-opacity="0.35"/><rect x="881.0" y="602.8" width="1.5" height="1.5" fill="#5dc14a" fill-opacity="0.5"/><rect x="1469.2" y="555.4" width="2" height="2" fill="#5dc14a" fill-opacity="0.35"/><rect x="1444.9" y="638.7" width="2" height="2" fill="#e8433b" fill-opacity="0.5"/><rect x="908.4" y="704.1" width="2" height="2" fill="#d07f2a" fill-opacity="0.9"/><rect x="1254.7" y="534.9" width="2" height="2" fill="#e8433b" fill-opacity="0.35"/><polygon points="955.5,239.9 957.5,239.9 959.0,297.1 957.0,297.1" fill="#fdfdfd"/><polygon points="1403.2,265.4 1405.2,265.4 1407.7,308.6 1405.7,308.6" fill="#fdfdfd"/><polygon points="977.1,218.2 979.6,218.2 979.7,267.9 977.2,267.9" fill="#fdfdfd"/><polygon points="1492.3,289.5 1494.3,289.5 1494.4,312.0 1492.4,312.0" fill="#fdfdfd"/><polygon points="1388.4,257.0 1389.9,257.0 1392.1,302.1 1390.6,302.1" fill="#fdfdfd"/><polygon points="1127.1,281.2 1129.6,281.2 1129.6,310.3 1127.1,310.3" fill="#fdfdfd"/><polygon points="865.7,202.7 868.7,202.7 870.6,230.8 867.6,230.8" fill="#fdfdfd"/><polygon points="1405.1,288.6 1407.1,288.6 1408.4,312.0 1406.4,312.0" fill="#fdfdfd"/><polygon points="1443.9,259.5 1445.4,259.5 1446.1,303.9 1444.6,303.9" fill="#fdfdfd"/><polygon points="769.7,263.9 771.2,263.9 773.7,312.0 772.2,312.0" fill="#fdfdfd"/><polygon points="1310.8,226.8 1312.3,226.8 1314.6,260.9 1313.1,260.9" fill="#fdfdfd"/><polygon points="1786.3,203.4 1788.3,203.4 1789.1,236.7 1787.1,236.7" fill="#fdfdfd"/><polygon points="1008.3,215.1 1010.8,215.1 1011.8,275.7 1009.3,275.7" fill="#fdfdfd"/><polygon points="1532.3,211.9 1535.3,211.9 1536.1,275.8 1533.1,275.8" fill="#fdfdfd"/><polygon points="1557.8,294.8 1559.3,294.8 1559.4,312.0 1557.9,312.0" fill="#fdfdfd"/><polygon points="799.2,245.3 801.7,245.3 802.5,305.4 800.0,305.4" fill="#fdfdfd"/><polygon points="1154.6,194.6 1156.6,194.6 1159.2,238.6 1157.2,238.6" fill="#fdfdfd"/><polygon points="873.9,185.2 876.4,185.2 880.7,253.3 878.2,253.3" fill="#fdfdfd"/><polygon points="1365.3,256.8 1367.3,256.8 1371.5,312.0 1369.5,312.0" fill="#fdfdfd"/><polygon points="873.0,257.4 876.0,257.4 876.1,300.6 873.1,300.6" fill="#fdfdfd"/><polygon points="1131.0,243.8 1133.0,243.8 1133.8,263.4 1131.8,263.4" fill="#fdfdfd"/><polygon points="805.1,210.3 807.6,210.3 809.2,244.6 806.7,244.6" fill="#fdfdfd"/><polygon points="1232.5,282.4 1234.0,282.4 1235.4,312.0 1233.9,312.0" fill="#fdfdfd"/><polygon points="1192.1,261.5 1194.6,261.5 1194.9,312.0 1192.4,312.0" fill="#fdfdfd"/><polygon points="1105.4,229.0 1107.9,229.0 1109.6,288.4 1107.1,288.4" fill="#fdfdfd"/><polygon points="1086.2,223.4 1089.2,223.4 1093.1,293.1 1090.1,293.1" fill="#fdfdfd"/><polygon points="1490.9,224.7 1492.9,224.7 1493.0,246.1 1491.0,246.1" fill="#fdfdfd"/><polygon points="1375.9,293.2 1377.9,293.2 1378.8,312.0 1376.8,312.0" fill="#fdfdfd"/><polygon points="1753.6,258.8 1756.1,258.8 1757.3,312.0 1754.8,312.0" fill="#fdfdfd"/><polygon points="1292.1,282.9 1295.1,282.9 1296.1,312.0 1293.1,312.0" fill="#fdfdfd"/><polygon points="1359.8,454.0 1361.3,454.0 1362.9,476.0 1361.4,476.0" fill="#fdfdfd"/><polygon points="1397.7,447.3 1399.7,447.3 1400.2,476.0 1398.2,476.0" fill="#fdfdfd"/><polygon points="1459.3,415.6 1460.8,415.6 1464.8,476.0 1463.3,476.0" fill="#fdfdfd"/><polygon points="1761.4,446.4 1764.4,446.4 1766.4,476.0 1763.4,476.0" fill="#fdfdfd"/><polygon points="1443.3,411.7 1444.8,411.7 1445.9,439.8 1444.4,439.8" fill="#fdfdfd"/><polygon points="1038.0,434.4 1041.0,434.4 1042.5,476.0 1039.5,476.0" fill="#fdfdfd"/><polygon points="987.4,441.1 988.9,441.1 991.7,476.0 990.2,476.0" fill="#fdfdfd"/><polygon points="1386.7,423.8 1388.2,423.8 1391.5,466.0 1390.0,466.0" fill="#fdfdfd"/><polygon points="1403.0,434.2 1404.5,434.2 1406.3,473.9 1404.8,473.9" fill="#fdfdfd"/><polygon points="897.7,437.5 899.2,437.5 901.2,476.0 899.7,476.0" fill="#fdfdfd"/><polygon points="1396.9,635.3 1398.4,635.3 1402.9,703.4 1401.4,703.4" fill="#fdfdfd"/><polygon points="1733.3,691.8 1734.8,691.8 1735.6,732.0 1734.1,732.0" fill="#fdfdfd"/><polygon points="1456.2,646.9 1457.7,646.9 1461.2,716.0 1459.7,716.0" fill="#fdfdfd"/><polygon points="905.1,624.4 907.6,624.4 909.0,679.2 906.5,679.2" fill="#fdfdfd"/><polygon points="955.7,688.2 958.7,688.2 960.2,732.0 957.2,732.0" fill="#fdfdfd"/><polygon points="1475.2,677.2 1478.2,677.2 1480.7,732.0 1477.7,732.0" fill="#fdfdfd"/><polygon points="1699.4,704.6 1701.4,704.6 1702.9,732.0 1700.9,732.0" fill="#fdfdfd"/><polygon points="1425.2,661.9 1427.7,661.9 1430.1,723.0 1427.6,723.0" fill="#fdfdfd"/><polygon points="855.6,709.7 858.1,709.7 859.1,732.0 856.6,732.0" fill="#fdfdfd"/><polygon points="1267.6,686.7 1270.6,686.7 1273.8,732.0 1270.8,732.0" fill="#fdfdfd"/><polygon points="1633.9,665.3 1635.4,665.3 1636.5,684.5 1635.0,684.5" fill="#fdfdfd"/><polygon points="1153.7,680.5 1155.2,680.5 1157.8,713.7 1156.3,713.7" fill="#fdfdfd"/><polygon points="866.2,689.4 868.2,689.4 870.6,732.0 868.6,732.0" fill="#fdfdfd"/><polygon points="1447.4,650.5 1450.4,650.5 1454.8,724.1 1451.8,724.1" fill="#fdfdfd"/><polygon points="1321.5,628.5 1324.0,628.5 1324.8,648.6 1322.3,648.6" fill="#fdfdfd"/><polygon points="1761.2,689.7 1762.7,689.7 1764.2,708.8 1762.7,708.8" fill="#fdfdfd"/><polygon points="1477.6,650.0 1479.6,650.0 1480.9,697.1 1478.9,697.1" fill="#fdfdfd"/><polygon points="1662.0,631.5 1665.0,631.5 1667.9,670.5 1664.9,670.5" fill="#fdfdfd"/><polygon points="1222.1,677.5 1224.1,677.5 1225.4,704.8 1223.4,704.8" fill="#fdfdfd"/><polygon points="1097.1,699.6 1099.1,699.6 1099.7,732.0 1097.7,732.0" fill="#fdfdfd"/><polygon points="1054.0,666.4 1057.0,666.4 1059.2,726.9 1056.2,726.9" fill="#fdfdfd"/><polygon points="1172.4,649.2 1173.9,649.2 1174.3,667.4 1172.8,667.4" fill="#fdfdfd"/><polygon points="853.7,654.5 856.2,654.5 858.4,699.5 855.9,699.5" fill="#fdfdfd"/><polygon points="1731.1,720.0 1732.6,720.0 1733.1,732.0 1731.6,732.0" fill="#fdfdfd"/><polygon points="948.6,619.2 951.1,619.2 953.5,673.8 951.0,673.8" fill="#fdfdfd"/><polygon points="1697.4,642.3 1699.4,642.3 1700.7,676.6 1698.7,676.6" fill="#fdfdfd"/><polygon points="1281.4,685.7 1284.4,685.7 1287.6,732.0 1284.6,732.0" fill="#fdfdfd"/><polygon points="1288.3,616.2 1289.8,616.2 1290.8,664.4 1289.3,664.4" fill="#fdfdfd"/><polygon points="1447.7,709.9 1450.2,709.9 1451.3,732.0 1448.8,732.0" fill="#fdfdfd"/><polygon points="860.1,652.0 861.6,652.0 866.8,717.5 865.3,717.5" fill="#fdfdfd"/><polygon points="1069.8,620.1 1072.3,620.1 1072.9,638.6 1070.4,638.6" fill="#fdfdfd"/><polygon points="1435.7,652.3 1437.2,652.3 1437.7,683.8 1436.2,683.8" fill="#fdfdfd"/><polygon points="1501.1,688.1 1504.1,688.1 1507.2,730.6 1504.2,730.6" fill="#fdfdfd"/><polygon points="1351.4,677.3 1353.4,677.3 1356.1,720.2 1354.1,720.2" fill="#fdfdfd"/><polygon points="914.5,643.9 917.5,643.9 917.8,700.8 914.8,700.8" fill="#fdfdfd"/><polygon points="1471.4,655.5 1473.4,655.5 1473.9,695.7 1471.9,695.7" fill="#fdfdfd"/><polygon points="1422.7,674.0 1424.7,674.0 1426.1,732.0 1424.1,732.0" fill="#fdfdfd"/><polygon points="1716.7,714.9 1718.2,714.9 1718.7,732.0 1717.2,732.0" fill="#fdfdfd"/><polygon points="1640.8,678.6 1643.8,678.6 1644.5,732.0 1641.5,732.0" fill="#fdfdfd"/><polygon points="1169.7,709.9 1172.7,709.9 1172.8,732.0 1169.8,732.0" fill="#fdfdfd"/><polygon points="1318.6,649.0 1320.6,649.0 1323.6,719.6 1321.6,719.6" fill="#fdfdfd"/><polygon points="1728.8,683.3 1731.8,683.3 1732.2,703.8 1729.2,703.8" fill="#fdfdfd"/><polygon points="1148.7,627.1 1151.7,627.1 1152.2,696.1 1149.2,696.1" fill="#fdfdfd"/><polygon points="1142.5,633.7 1144.5,633.7 1149.1,705.4 1147.1,705.4" fill="#fdfdfd"/><polygon points="1249.2,628.4 1251.2,628.4 1252.8,679.7 1250.8,679.7" fill="#fdfdfd"/></g>
<rect x="763.1" y="113.0" width="2.5" height="3" fill="#6a1ff0"/><rect x="763.1" y="117.0" width="2.5" height="3" fill="#6a1ff0"/><rect x="763.1" y="151.0" width="2.5" height="3" fill="#6a1ff0"/><rect x="763.1" y="157.0" width="2.5" height="3" fill="#6a1ff0"/><rect x="763.1" y="183.0" width="2.5" height="3" fill="#6a1ff0"/><rect x="763.1" y="187.0" width="2.5" height="3" fill="#6a1ff0"/><rect x="763.1" y="191.0" width="2.5" height="3" fill="#6a1ff0"/><rect x="763.1" y="200.0" width="2.5" height="3" fill="#6a1ff0"/><rect x="763.1" y="204.0" width="2.5" height="3" fill="#6a1ff0"/><rect x="763.1" y="225.0" width="2.5" height="3" fill="#6a1ff0"/><rect x="763.1" y="230.0" width="2.5" height="3" fill="#6a1ff0"/><rect x="763.1" y="238.0" width="2.5" height="3" fill="#6a1ff0"/><rect x="763.1" y="245.0" width="2.5" height="3" fill="#6a1ff0"/><rect x="763.1" y="252.0" width="2.5" height="3" fill="#6a1ff0"/><rect x="763.1" y="276.0" width="2.5" height="3" fill="#6a1ff0"/><rect x="763.1" y="281.0" width="2.5" height="3" fill="#6a1ff0"/><rect x="763.1" y="290.0" width="2.5" height="3" fill="#6a1ff0"/><rect x="763.1" y="296.0" width="2.5" height="3" fill="#6a1ff0"/><rect x="763.1" y="301.0" width="2.5" height="3" fill="#6a1ff0"/>
<rect x="705.5" y="199.0" width="2.5" height="3" fill="#6a1ff0"/><rect x="705.5" y="208.0" width="2.5" height="3" fill="#6a1ff0"/><rect x="705.5" y="217.0" width="2.5" height="3" fill="#6a1ff0"/><rect x="705.5" y="233.0" width="2.5" height="3" fill="#6a1ff0"/><rect x="705.5" y="247.0" width="2.5" height="3" fill="#6a1ff0"/><rect x="705.5" y="265.0" width="2.5" height="3" fill="#6a1ff0"/><rect x="705.5" y="286.0" width="2.5" height="3" fill="#6a1ff0"/>
<rect x="710.5" y="548.0" width="2.5" height="3" fill="#6a1ff0"/><rect x="710.5" y="552.0" width="2.5" height="3" fill="#6a1ff0"/><rect x="710.5" y="556.0" width="2.5" height="3" fill="#6a1ff0"/><rect x="710.5" y="582.0" width="2.5" height="3" fill="#6a1ff0"/><rect x="710.5" y="592.0" width="2.5" height="3" fill="#6a1ff0"/><rect x="710.5" y="632.0" width="2.5" height="3" fill="#6a1ff0"/><rect x="710.5" y="650.0" width="2.5" height="3" fill="#6a1ff0"/><rect x="710.5" y="659.0" width="2.5" height="3" fill="#6a1ff0"/><rect x="710.5" y="680.0" width="2.5" height="3" fill="#6a1ff0"/><rect x="710.5" y="690.0" width="2.5" height="3" fill="#6a1ff0"/>
<rect x="1744.8" y="536.0" width="2.5" height="3" fill="#6a1ff0"/><rect x="1744.8" y="541.0" width="2.5" height="3" fill="#6a1ff0"/><rect x="1744.8" y="560.0" width="2.5" height="3" fill="#6a1ff0"/><rect x="1744.8" y="565.0" width="2.5" height="3" fill="#6a1ff0"/>
<rect x="1745.0" y="615.0" width="2.5" height="84.0" fill="#6a1ff0"/>
<rect x="1709.8" y="401.0" width="2.5" height="3" fill="#6a1ff0"/><rect x="1709.8" y="424.0" width="2.5" height="3" fill="#6a1ff0"/><rect x="1709.8" y="427.5" width="2.5" height="3" fill="#6a1ff0"/><rect x="1709.8" y="445.0" width="2.5" height="3" fill="#6a1ff0"/><rect x="1709.8" y="450.0" width="2.5" height="3" fill="#6a1ff0"/><rect x="1709.8" y="462.0" width="2.5" height="3" fill="#6a1ff0"/>
<rect x="1258.8" y="103.0" width="2.5" height="3" fill="#6a1ff0"/><rect x="1258.8" y="117.0" width="2.5" height="3" fill="#6a1ff0"/><rect x="1258.8" y="142.0" width="2.5" height="3" fill="#6a1ff0"/><rect x="1258.8" y="147.0" width="2.5" height="3" fill="#6a1ff0"/><rect x="1258.8" y="157.0" width="2.5" height="3" fill="#6a1ff0"/><rect x="1258.8" y="160.0" width="2.5" height="3" fill="#6a1ff0"/><rect x="1258.8" y="216.0" width="2.5" height="3" fill="#6a1ff0"/><rect x="1258.8" y="245.0" width="2.5" height="3" fill="#6a1ff0"/><rect x="1258.8" y="250.0" width="2.5" height="3" fill="#6a1ff0"/><rect x="1258.8" y="257.0" width="2.5" height="3" fill="#6a1ff0"/><rect x="1258.8" y="293.0" width="2.5" height="3" fill="#6a1ff0"/><rect x="1258.8" y="298.0" width="2.5" height="3" fill="#6a1ff0"/>
<rect x="1212.2" y="113.0" width="2.5" height="3" fill="#6a1ff0"/><rect x="1212.2" y="141.0" width="2.5" height="3" fill="#6a1ff0"/><rect x="1212.2" y="249.0" width="2.5" height="3" fill="#6a1ff0"/><rect x="1212.2" y="255.0" width="2.5" height="3" fill="#6a1ff0"/><rect x="1212.2" y="305.0" width="2.5" height="3" fill="#6a1ff0"/>
<rect x="1135.2" y="164.0" width="2.5" height="3" fill="#6a1ff0"/><rect x="1135.2" y="188.0" width="2.5" height="3" fill="#6a1ff0"/><rect x="1135.2" y="280.0" width="2.5" height="3" fill="#6a1ff0"/>
<rect x="793.6" y="79.0" width="1.7" height="18.0" fill="#3f9a35" fill-opacity="1"/>
<rect x="793.8" y="97.0" width="1.5" height="215.5" fill="#79c566" fill-opacity="1"/>
<rect x="1100.5" y="84.5" width="2.4" height="228.0" fill="#f0211c" fill-opacity="1"/>
<rect x="1175.2" y="79.0" width="2.4" height="18.0" fill="#2f8f2a" fill-opacity="1"/>
<rect x="1175.2" y="97.0" width="2.4" height="215.5" fill="#5cc743" fill-opacity="1"/>
<rect x="1314.7" y="70.7" width="1.7" height="241.8" fill="#d4812c" fill-opacity="1"/>
<rect x="1375.2" y="82.3" width="1.7" height="230.2" fill="#d68c44" fill-opacity="1"/>
<rect x="1704.7" y="97.0" width="1.7" height="134.0" fill="#a06060" fill-opacity="1"/>
<rect x="633.3" y="358.7" width="1.4" height="82.3" fill="#ea4a44" fill-opacity="1"/>
<rect x="1314.5" y="331.0" width="1.7" height="36.0" fill="#d4812c" fill-opacity="1"/>
<rect x="1044.0" y="524.5" width="2.2" height="208.0" fill="#55c43f" fill-opacity="1"/>
<rect x="1100.3" y="524.0" width="2.2" height="208.5" fill="#f0211c" fill-opacity="1"/>
<rect x="1111.2" y="528.0" width="1.7" height="174.0" fill="#d4812c" fill-opacity="1"/>
<rect x="1139.2" y="527.0" width="2.4" height="205.5" fill="#f0211c" fill-opacity="1"/>
<rect x="1257.6" y="527.0" width="2.8" height="205.5" fill="#c4a6d2" fill-opacity="1"/>
<rect x="1352.6" y="527.0" width="2.6" height="205.5" fill="#f0211c" fill-opacity="1"/>
<rect x="1703.2" y="534.0" width="1.7" height="198.5" fill="#c08080" fill-opacity="1"/>
<rect x="215" y="313" width="1783" height="6" fill="#000" rx="1"/>
<rect x="215" y="477" width="1783" height="6" fill="#000" rx="1"/>
<rect x="215" y="733" width="1783" height="6" fill="#000" rx="1"/>
<text transform="translate(156.6,261.3) rotate(-90)" text-anchor="start" font-family='"Liberation Sans", Arial, Helvetica, sans-serif' font-size="28.8" fill="#000">Cambodia</text>
<text transform="translate(190.8,261.3) rotate(-90)" text-anchor="start" font-family='"Liberation Sans", Arial, Helvetica, sans-serif' font-size="28.8" fill="#000">Nondeletion</text>
<text transform="translate(168.8,408.9) rotate(-90)" text-anchor="middle" font-family='"Liberation Sans", Arial, Helvetica, sans-serif' font-size="28.8" fill="#000">Cambodia</text>
<text transform="translate(203.1,406.9) rotate(-90)" text-anchor="middle" font-family='"Liberation Sans", Arial, Helvetica, sans-serif' font-size="28.8" fill="#000">Deletion</text>
<text word-spacing="-9" transform="translate(186.0,609.2) rotate(-90)" text-anchor="middle" font-family='"Liberation Sans", Arial, Helvetica, sans-serif' font-size="28.8" fill="#000">Salvador 1</text>
<rect x="438.0" y="761.3" width="1366.0" height="12.0" fill="#0000b3"/>
<rect x="825.7" y="756.8" width="828.3" height="20.4" fill="#0000b3"/>
<path d="M867.4,763.5 L863.9,767 L867.4,770.5" stroke="#fff" stroke-opacity="0.8" stroke-width="1.3" fill="none"/><path d="M904.2,763.5 L900.7,767 L904.2,770.5" stroke="#fff" stroke-opacity="0.8" stroke-width="1.3" fill="none"/><path d="M940.9,763.5 L937.4,767 L940.9,770.5" stroke="#fff" stroke-opacity="0.8" stroke-width="1.3" fill="none"/><path d="M977.7,763.5 L974.2,767 L977.7,770.5" stroke="#fff" stroke-opacity="0.8" stroke-width="1.3" fill="none"/><path d="M1014.5,763.5 L1011.0,767 L1014.5,770.5" stroke="#fff" stroke-opacity="0.8" stroke-width="1.3" fill="none"/><path d="M1051.2,763.5 L1047.8,767 L1051.2,770.5" stroke="#fff" stroke-opacity="0.8" stroke-width="1.3" fill="none"/><path d="M1088.0,763.5 L1084.5,767 L1088.0,770.5" stroke="#fff" stroke-opacity="0.8" stroke-width="1.3" fill="none"/><path d="M1124.8,763.5 L1121.3,767 L1124.8,770.5" stroke="#fff" stroke-opacity="0.8" stroke-width="1.3" fill="none"/><path d="M1161.6,763.5 L1158.1,767 L1161.6,770.5" stroke="#fff" stroke-opacity="0.8" stroke-width="1.3" fill="none"/><path d="M1198.3,763.5 L1194.8,767 L1198.3,770.5" stroke="#fff" stroke-opacity="0.8" stroke-width="1.3" fill="none"/><path d="M1235.1,763.5 L1231.6,767 L1235.1,770.5" stroke="#fff" stroke-opacity="0.8" stroke-width="1.3" fill="none"/><path d="M1271.9,763.5 L1268.4,767 L1271.9,770.5" stroke="#fff" stroke-opacity="0.8" stroke-width="1.3" fill="none"/><path d="M1308.6,763.5 L1305.1,767 L1308.6,770.5" stroke="#fff" stroke-opacity="0.8" stroke-width="1.3" fill="none"/><path d="M1345.4,763.5 L1341.9,767 L1345.4,770.5" stroke="#fff" stroke-opacity="0.8" stroke-width="1.3" fill="none"/><path d="M1382.2,763.5 L1378.7,767 L1382.2,770.5" stroke="#fff" stroke-opacity="0.8" stroke-width="1.3" fill="none"/><path d="M1419.0,763.5 L1415.5,767 L1419.0,770.5" stroke="#fff" stroke-opacity="0.8" stroke-width="1.3" fill="none"/><path d="M1455.7,763.5 L1452.2,767 L1455.7,770.5" stroke="#fff" stroke-opacity="0.8" stroke-width="1.3" fill="none"/><path d="M1492.5,763.5 L1489.0,767 L1492.5,770.5" stroke="#fff" stroke-opacity="0.8" stroke-width="1.3" fill="none"/><path d="M1529.3,763.5 L1525.8,767 L1529.3,770.5" stroke="#fff" stroke-opacity="0.8" stroke-width="1.3" fill="none"/><path d="M1566.0,763.5 L1562.5,767 L1566.0,770.5" stroke="#fff" stroke-opacity="0.8" stroke-width="1.3" fill="none"/><path d="M1602.8,763.5 L1599.3,767 L1602.8,770.5" stroke="#fff" stroke-opacity="0.8" stroke-width="1.3" fill="none"/><path d="M1639.6,763.5 L1636.1,767 L1639.6,770.5" stroke="#fff" stroke-opacity="0.8" stroke-width="1.3" fill="none"/>
<text transform="translate(1013.5,814) scale(1.078,1)" font-family='"Liberation Sans", Arial, Helvetica, sans-serif' font-size="32" fill="#000"><tspan font-style="italic">mdr1</tspan> (PVP01_1010900.1)</text>
<text x="-0.5" y="1014" font-family='"Liberation Sans", Arial, Helvetica, sans-serif' font-weight="bold" font-size="77" fill="#000">B</text>
<text x="1004.5" y="949" font-family='"Liberation Sans", Arial, Helvetica, sans-serif' font-size="24.4" fill="#111">group</text>
<line x1="1096" y1="926" x2="1096" y2="954.3" stroke="#222" stroke-width="1.6"/><rect x="1082" y="931.2" width="28.40000000000009" height="18.1" fill="#00afbb" stroke="#222" stroke-width="1.6"/><line x1="1082" y1="940.2" x2="1110.4" y2="940.2" stroke="#111" stroke-width="2"/>
<text x="1124" y="949" font-family='"Liberation Sans", Arial, Helvetica, sans-serif' font-size="20.5" fill="#111">deleted</text>
<line x1="1217" y1="926" x2="1217" y2="954.3" stroke="#222" stroke-width="1.6"/><rect x="1203.3" y="931.2" width="27.600000000000136" height="18.1" fill="#e7b800" stroke="#222" stroke-width="1.6"/><line x1="1203.3" y1="940.2" x2="1230.9" y2="940.2" stroke="#111" stroke-width="2"/>
<text x="1245" y="949" font-family='"Liberation Sans", Arial, Helvetica, sans-serif' font-size="20.5" fill="#111">nondeleted</text>
<line x1="392" y1="994" x2="392" y2="2011.7" stroke="#222" stroke-width="2"/>
<line x1="391" y1="2010.8" x2="1955" y2="2010.8" stroke="#222" stroke-width="2"/>
<line x1="386.5" y1="1025.6" x2="392" y2="1025.6" stroke="#222" stroke-width="1.8"/>
<text x="381" y="1036.8" text-anchor="end" font-family='"Liberation Sans", Arial, Helvetica, sans-serif' font-size="24" fill="#111">1600</text>
<line x1="386.5" y1="1280" x2="392" y2="1280" stroke="#222" stroke-width="1.8"/>
<text x="381" y="1291.2" text-anchor="end" font-family='"Liberation Sans", Arial, Helvetica, sans-serif' font-size="24" fill="#111">1200</text>
<line x1="386.5" y1="1536" x2="392" y2="1536" stroke="#222" stroke-width="1.8"/>
<text x="381" y="1547.2" text-anchor="end" font-family='"Liberation Sans", Arial, Helvetica, sans-serif' font-size="24" fill="#111">800</text>
<line x1="386.5" y1="1791" x2="392" y2="1791" stroke="#222" stroke-width="1.8"/>
<text x="381" y="1802.2" text-anchor="end" font-family='"Liberation Sans", Arial, Helvetica, sans-serif' font-size="24" fill="#111">400</text>
<line x1="818.3" y1="2011" x2="818.3" y2="2016.5" stroke="#222" stroke-width="1.8"/>
<line x1="1528.8" y1="2011" x2="1528.8" y2="2016.5" stroke="#222" stroke-width="1.8"/>
<text x="818.3" y="2039.7" text-anchor="middle" font-family='"Liberation Sans", Arial, Helvetica, sans-serif' font-size="24.8" fill="#111">deleted</text>
<text x="1528.5" y="2039.7" text-anchor="middle" font-family='"Liberation Sans", Arial, Helvetica, sans-serif' font-size="24.8" fill="#111">nondeleted</text>
<text x="1172.6" y="2067.4" text-anchor="middle" font-family='"Liberation Sans", Arial, Helvetica, sans-serif' font-size="24.8" fill="#111">Group</text>
<text transform="translate(318,1508.2) rotate(-90)" text-anchor="middle" font-family='"Liberation Sans", Arial, Helvetica, sans-serif' font-size="24.3" fill="#111">Normalized mdr1 expression (read pairs mapped to coding sequence)</text>
<path d="M818.3,1067 L818.3,1039.7 L1529,1039.7 L1529,1067" stroke="#333" stroke-width="1.8" fill="none"/>
<text x="1173.6" y="1028" text-anchor="middle" font-family='"Liberation Sans", Arial, Helvetica, sans-serif' font-size="19" fill="#111">***</text>
<line x1="818.2" y1="1280.5" x2="818.2" y2="1429" stroke="#222" stroke-width="1.8"/><line x1="818.2" y1="1615.2" x2="818.2" y2="1795" stroke="#222" stroke-width="1.8"/><rect x="569.4" y="1429" width="497.69999999999993" height="186.20000000000005" fill="#00afbb" stroke="#222" stroke-width="2"/><line x1="569.4" y1="1495.5" x2="1067.1" y2="1495.5" stroke="#111" stroke-width="3.4"/>
<line x1="1528.7" y1="1661.4" x2="1528.7" y2="1722.9" stroke="#222" stroke-width="1.8"/><line x1="1528.7" y1="1812.7" x2="1528.7" y2="1855" stroke="#222" stroke-width="1.8"/><rect x="1279.4" y="1722.9" width="498.0" height="89.79999999999995" fill="#e7b800" stroke="#222" stroke-width="2"/><line x1="1279.4" y1="1770.9" x2="1777.4" y2="1770.9" stroke="#111" stroke-width="3.4"/>
<circle cx="907.2" cy="1083.9" r="4.8" fill="#000"/><circle cx="830.8" cy="1095.2" r="4.8" fill="#000"/><circle cx="873.3" cy="1280.5" r="4.8" fill="#000"/><circle cx="862.5" cy="1287.4" r="4.8" fill="#000"/><circle cx="890.1" cy="1323.8" r="4.8" fill="#000"/><circle cx="793.8" cy="1331.2" r="4.8" fill="#000"/><circle cx="688.2" cy="1341.9" r="4.8" fill="#000"/><circle cx="751.7" cy="1348.1" r="4.8" fill="#000"/><circle cx="838.8" cy="1367.7" r="4.8" fill="#000"/><circle cx="890.4" cy="1371.8" r="4.8" fill="#000"/><circle cx="858.1" cy="1382.2" r="4.8" fill="#000"/><circle cx="929" cy="1384.6" r="4.8" fill="#000"/><circle cx="737.7" cy="1393.8" r="4.8" fill="#000"/><circle cx="781" cy="1392" r="4.8" fill="#000"/><circle cx="835.3" cy="1403.3" r="4.8" fill="#000"/><circle cx="943.2" cy="1429.1" r="4.8" fill="#000"/><circle cx="930.5" cy="1443" r="4.8" fill="#000"/><circle cx="949.7" cy="1448" r="4.8" fill="#000"/><circle cx="929.9" cy="1457.5" r="4.8" fill="#000"/><circle cx="716.7" cy="1459.6" r="4.8" fill="#000"/><circle cx="766.2" cy="1459.3" r="4.8" fill="#000"/><circle cx="746" cy="1465.5" r="4.8" fill="#000"/><circle cx="742.2" cy="1467.9" r="4.8" fill="#000"/><circle cx="808.3" cy="1467.3" r="4.8" fill="#000"/><circle cx="902" cy="1469.4" r="4.8" fill="#000"/><circle cx="712.5" cy="1473.8" r="4.8" fill="#000"/><circle cx="717.9" cy="1482.7" r="4.8" fill="#000"/><circle cx="705.4" cy="1486.3" r="4.8" fill="#000"/><circle cx="801.5" cy="1483.6" r="4.8" fill="#000"/><circle cx="719.7" cy="1489.5" r="4.8" fill="#000"/><circle cx="754" cy="1495.8" r="4.8" fill="#000"/><circle cx="878" cy="1496.1" r="4.8" fill="#000"/><circle cx="868.5" cy="1501.1" r="4.8" fill="#000"/><circle cx="710.8" cy="1518.9" r="4.8" fill="#000"/><circle cx="958.6" cy="1524.2" r="4.8" fill="#000"/><circle cx="782.5" cy="1555.7" r="4.8" fill="#000"/><circle cx="757.9" cy="1559.2" r="4.8" fill="#000"/><circle cx="804.7" cy="1569.3" r="4.8" fill="#000"/><circle cx="703.4" cy="1573.8" r="4.8" fill="#000"/><circle cx="811.3" cy="1576.1" r="4.8" fill="#000"/><circle cx="793.5" cy="1585.6" r="4.8" fill="#000"/><circle cx="877.7" cy="1599.5" r="4.8" fill="#000"/><circle cx="803.6" cy="1602.5" r="4.8" fill="#000"/><circle cx="900.2" cy="1604" r="4.8" fill="#000"/><circle cx="812.2" cy="1612" r="4.8" fill="#000"/><circle cx="891.6" cy="1615.2" r="4.8" fill="#000"/><circle cx="800.9" cy="1617.6" r="4.8" fill="#000"/><circle cx="845.1" cy="1617.6" r="4.8" fill="#000"/><circle cx="683.2" cy="1623.6" r="4.8" fill="#000"/><circle cx="832.9" cy="1623.3" r="4.8" fill="#000"/><circle cx="806.2" cy="1627.4" r="4.8" fill="#000"/><circle cx="850.4" cy="1630.7" r="4.8" fill="#000"/><circle cx="932.8" cy="1628.9" r="4.8" fill="#000"/><circle cx="926.6" cy="1640.5" r="4.8" fill="#000"/><circle cx="715.9" cy="1676.7" r="4.8" fill="#000"/><circle cx="738.7" cy="1684.9" r="4.8" fill="#000"/><circle cx="784.1" cy="1681.5" r="4.8" fill="#000"/><circle cx="872.5" cy="1698" r="4.8" fill="#000"/><circle cx="948.2" cy="1761.1" r="4.8" fill="#000"/><circle cx="708" cy="1795.8" r="4.8" fill="#000"/><circle cx="776.1" cy="1910.7" r="4.8" fill="#000"/><circle cx="1479.3" cy="1660.9" r="4.8" fill="#000"/><circle cx="1575" cy="1684.6" r="4.8" fill="#000"/><circle cx="1616.2" cy="1689.5" r="4.8" fill="#000"/><circle cx="1611.9" cy="1710.6" r="4.8" fill="#000"/><circle cx="1399.2" cy="1723.8" r="4.8" fill="#000"/><circle cx="1502.1" cy="1722.9" r="4.8" fill="#000"/><circle cx="1565" cy="1752.9" r="4.8" fill="#000"/><circle cx="1399.2" cy="1768.4" r="4.8" fill="#000"/><circle cx="1445.2" cy="1770.6" r="4.8" fill="#000"/><circle cx="1536.2" cy="1773.2" r="4.8" fill="#000"/><circle cx="1629.9" cy="1769.5" r="4.8" fill="#000"/><circle cx="1468.7" cy="1784.4" r="4.8" fill="#000"/><circle cx="1386.6" cy="1788.7" r="4.8" fill="#000"/><circle cx="1452.4" cy="1798.1" r="4.8" fill="#000"/><circle cx="1641.9" cy="1827.5" r="4.8" fill="#000"/><circle cx="1613.3" cy="1837.3" r="4.8" fill="#000"/><circle cx="1495" cy="1840.7" r="4.8" fill="#000"/><circle cx="1617.6" cy="1855.6" r="4.8" fill="#000"/><circle cx="1657.6" cy="1964.6" r="4.8" fill="#000"/></svg>
</body></html>
